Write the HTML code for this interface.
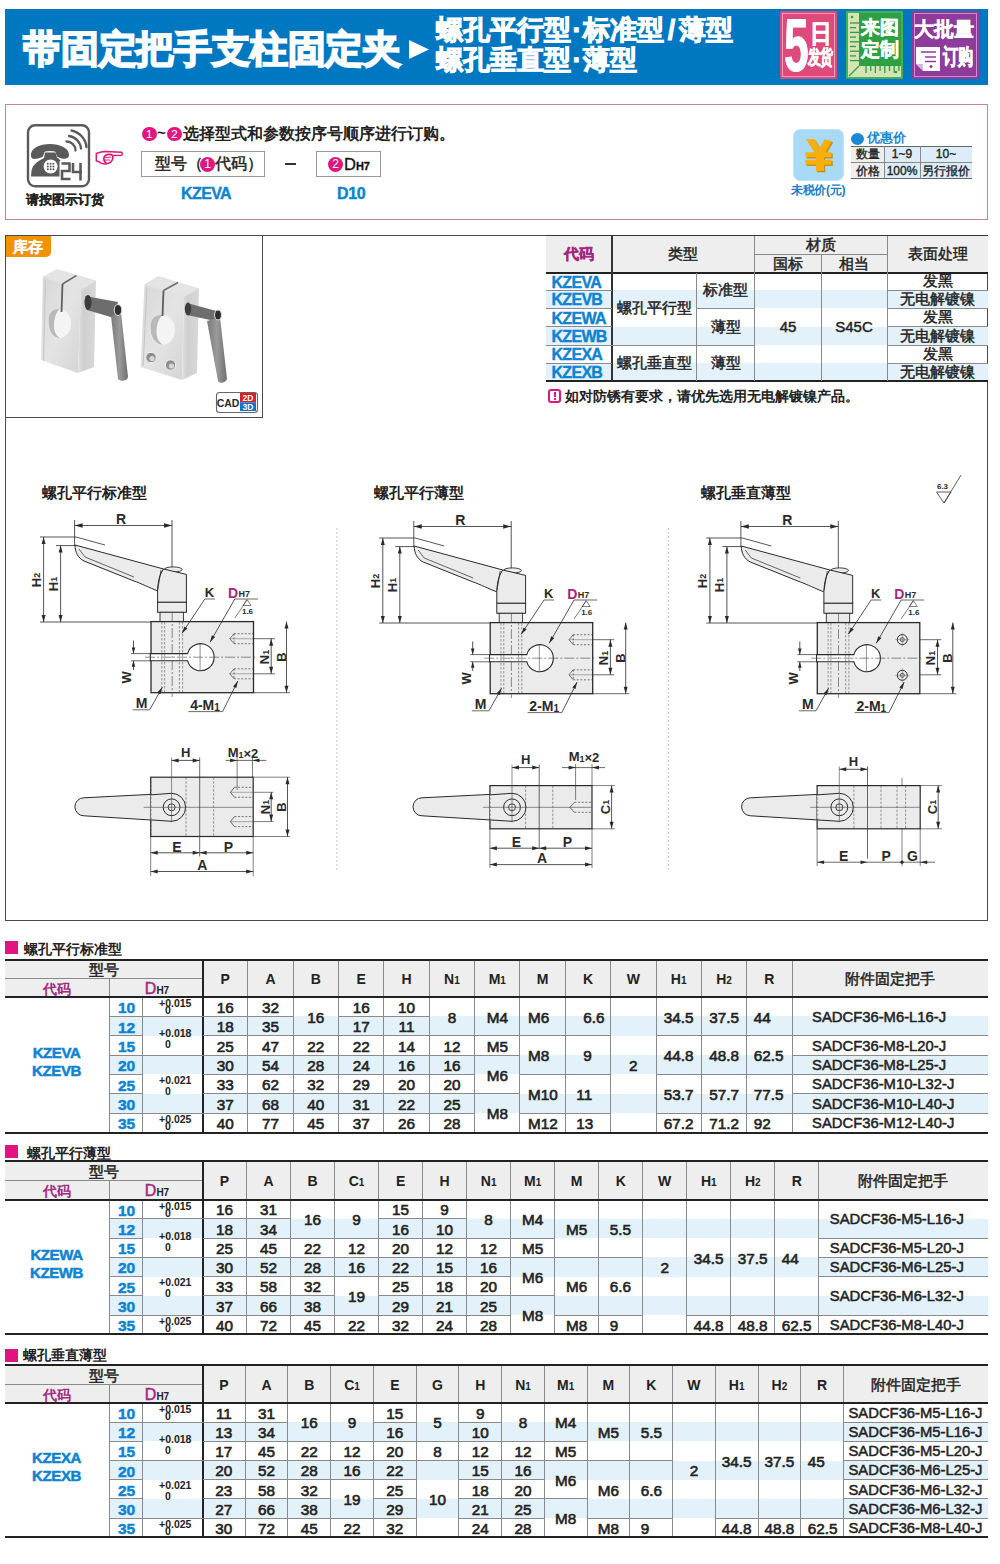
<!DOCTYPE html><html><head><meta charset="utf-8"><style>
html,body{margin:0;padding:0;background:#fff;}
body{width:1000px;height:1564px;position:relative;overflow:hidden;font-family:"Liberation Sans",sans-serif;color:#222;}
div{box-sizing:border-box;}
.b{font-weight:bold;}
</style></head><body>

<div style="position:absolute;left:5px;top:9px;width:983px;height:76px;background:#0078c1;"></div>
<div style="position:absolute;left:23px;top:26px;white-space:nowrap;font-size:38px;font-weight:bold;color:#fff;line-height:46px;letter-spacing:-0.2px;-webkit-text-stroke:1.8px #fff;">带固定把手支柱固定夹</div>
<svg style="position:absolute;left:408px;top:39px" width="22" height="21"><polygon points="1,1 21,10.5 1,20" fill="#fff"/></svg>
<div style="position:absolute;left:436px;top:14px;white-space:nowrap;font-size:27px;font-weight:bold;color:#fff;line-height:32px;-webkit-text-stroke:1px #fff;">螺孔平行型<span style="display:inline-block;width:12px;text-align:center">·</span>标准型<span style="display:inline-block;width:15px;text-align:center">/</span>薄型</div>
<div style="position:absolute;left:436px;top:44px;white-space:nowrap;font-size:27px;font-weight:bold;color:#fff;line-height:32px;-webkit-text-stroke:1px #fff;">螺孔垂直型<span style="display:inline-block;width:12px;text-align:center">·</span>薄型</div>
<div style="position:absolute;left:780px;top:11px;width:57px;height:68px;background:#de4a7c;border-radius:2px;"></div>
<div style="position:absolute;left:782px;top:13px;width:53px;height:64px;border:1px solid #f29ab9;"></div>
<div style="position:absolute;left:784px;top:12px;white-space:nowrap;font-size:74px;font-weight:bold;color:#fff;line-height:68px;transform:scaleX(0.6);transform-origin:0 0;-webkit-text-stroke:1px #fff;">5</div>
<div style="position:absolute;left:810px;top:20px;white-space:nowrap;font-size:22px;font-weight:bold;color:#fff;line-height:24px;transform:scaleY(1.15);transform-origin:0 0;-webkit-text-stroke:0.6px #fff;">日</div>
<div style="position:absolute;left:808px;top:47px;white-space:nowrap;font-size:13px;font-weight:bold;color:#fff;line-height:14px;letter-spacing:-1px;transform:scaleY(1.55);transform-origin:0 0;-webkit-text-stroke:0.4px #fff;">发货</div>
<div style="position:absolute;left:846px;top:11px;width:57px;height:68px;background:#2f9f43;border-radius:2px;"></div>
<svg style="position:absolute;left:846px;top:11px" width="57" height="68"><path d="M2,2 L13,2 L13,55 L55,55 L55,66 L2,66 Z" fill="#d5e3b5"/><path d="M13,55 L3,65" stroke="#2f9f43" stroke-width="1.2"/><line x1="4" y1="12.0" x2="13" y2="12.0" stroke="#2f9f43" stroke-width="1.3"/><line x1="4" y1="16.7" x2="10" y2="16.7" stroke="#2f9f43" stroke-width="1.3"/><line x1="4" y1="21.4" x2="13" y2="21.4" stroke="#2f9f43" stroke-width="1.3"/><line x1="4" y1="26.1" x2="10" y2="26.1" stroke="#2f9f43" stroke-width="1.3"/><line x1="4" y1="30.8" x2="13" y2="30.8" stroke="#2f9f43" stroke-width="1.3"/><line x1="4" y1="35.5" x2="10" y2="35.5" stroke="#2f9f43" stroke-width="1.3"/><line x1="4" y1="40.2" x2="13" y2="40.2" stroke="#2f9f43" stroke-width="1.3"/><line x1="4" y1="44.9" x2="10" y2="44.9" stroke="#2f9f43" stroke-width="1.3"/><line x1="4" y1="49.6" x2="13" y2="49.6" stroke="#2f9f43" stroke-width="1.3"/><line x1="20.0" y1="55" x2="20.0" y2="62" stroke="#2f9f43" stroke-width="1.3"/><line x1="24.7" y1="55" x2="24.7" y2="60" stroke="#2f9f43" stroke-width="1.3"/><line x1="29.4" y1="55" x2="29.4" y2="62" stroke="#2f9f43" stroke-width="1.3"/><line x1="34.1" y1="55" x2="34.1" y2="60" stroke="#2f9f43" stroke-width="1.3"/><line x1="38.8" y1="55" x2="38.8" y2="62" stroke="#2f9f43" stroke-width="1.3"/><line x1="43.5" y1="55" x2="43.5" y2="60" stroke="#2f9f43" stroke-width="1.3"/><line x1="48.2" y1="55" x2="48.2" y2="62" stroke="#2f9f43" stroke-width="1.3"/><line x1="52.9" y1="55" x2="52.9" y2="60" stroke="#2f9f43" stroke-width="1.3"/><circle cx="6" cy="6" r="1.3" fill="#2f9f43"/><circle cx="50" cy="61" r="1.3" fill="#2f9f43"/><rect x="1" y="1" width="55" height="66" fill="none" stroke="#5cc36a" stroke-width="1"/></svg>
<div style="position:absolute;left:861px;top:17px;white-space:nowrap;font-size:19px;font-weight:bold;color:#fff;line-height:22px;-webkit-text-stroke:0.5px #fff;">来图</div>
<div style="position:absolute;left:861px;top:39px;white-space:nowrap;font-size:19px;font-weight:bold;color:#fff;line-height:22px;-webkit-text-stroke:0.5px #fff;">定制</div>
<div style="position:absolute;left:912px;top:11px;width:67px;height:68px;background:#8f3b99;border-radius:2px;"></div>
<div style="position:absolute;left:914px;top:13px;width:63px;height:64px;border:1px solid #c98fd0;"></div>
<div style="position:absolute;left:914px;top:17px;white-space:nowrap;font-size:20px;font-weight:bold;color:#fff;line-height:24px;-webkit-text-stroke:0.5px #fff;">大批量</div>
<div style="position:absolute;left:943px;top:45px;white-space:nowrap;font-size:15px;font-weight:bold;color:#fff;line-height:16px;letter-spacing:-0.5px;transform:scaleY(1.45);transform-origin:0 0;-webkit-text-stroke:0.5px #fff;">订购</div>
<svg style="position:absolute;left:915px;top:46px" width="26" height="26"><path d="M1,1 L25,1 L25,25 L8,25 L1,18 Z" fill="#fff"/><path d="M1,18 L8,18 L8,25" fill="#8f3b99"/><path d="M1,18 L8,25 L8,18 Z" fill="#d9b7dd"/><line x1="6" y1="6" x2="21" y2="6" stroke="#8f3b99" stroke-width="1.5"/><line x1="10" y1="11" x2="21" y2="11" stroke="#8f3b99" stroke-width="1.5"/><line x1="10" y1="15.5" x2="21" y2="15.5" stroke="#8f3b99" stroke-width="1.5"/><circle cx="16" cy="20.5" r="1.5" fill="#8f3b99"/></svg>
<div style="position:absolute;left:5px;top:104px;width:983px;height:116px;border:1.5px solid #c0849b;"></div>
<div style="position:absolute;left:26px;top:192px;white-space:nowrap;font-size:12.5px;font-weight:bold;color:#222;line-height:16px;-webkit-text-stroke:0.2px #222;">请按图示订货</div>
<div style="position:absolute;left:142px;top:126.8px;width:14.5px;height:14.5px;border-radius:50%;background:#e0177f;color:#fff;font-size:11.5px;line-height:14.5px;text-align:center;">1</div>
<div style="position:absolute;left:157px;top:124px;white-space:nowrap;font-size:15px;font-weight:bold;color:#222;line-height:18px;">~</div>
<div style="position:absolute;left:167.3px;top:126.8px;width:14.5px;height:14.5px;border-radius:50%;background:#e0177f;color:#fff;font-size:11.5px;line-height:14.5px;text-align:center;">2</div>
<div style="position:absolute;left:183px;top:125px;white-space:nowrap;font-size:15.5px;font-weight:bold;color:#222;line-height:18px;">选择型式和参数按序号顺序进行订购。</div>
<div style="position:absolute;left:141px;top:151px;width:124px;height:26px;border:1px solid #999;"></div>
<div style="position:absolute;left:155px;top:154px;white-space:nowrap;font-size:15.5px;color:#222;line-height:20px;-webkit-text-stroke:0.45px #222;">型号（</div>
<div style="position:absolute;left:200px;top:156.5px;width:15px;height:15px;border-radius:50%;background:#e0177f;color:#fff;font-size:12px;line-height:15px;text-align:center;">1</div>
<div style="position:absolute;left:215px;top:154px;white-space:nowrap;font-size:15.5px;color:#222;line-height:20px;-webkit-text-stroke:0.45px #222;">代码）</div>
<div style="position:absolute;left:285px;top:163px;width:11px;height:2px;background:#333;"></div>
<div style="position:absolute;left:316px;top:151px;width:65px;height:26px;border:1px solid #999;"></div>
<div style="position:absolute;left:328px;top:156.5px;width:15px;height:15px;border-radius:50%;background:#e0177f;color:#fff;font-size:12px;line-height:15px;text-align:center;">2</div>
<div style="position:absolute;left:344px;top:154px;white-space:nowrap;font-size:16.5px;color:#111;line-height:20px;-webkit-text-stroke:0.3px #111;">D<span style="font-size:11px;font-weight:bold">H7</span></div>
<div style="position:absolute;left:181px;top:184px;white-space:nowrap;font-size:16px;font-weight:bold;color:#0e83d2;line-height:20px;letter-spacing:-0.6px;-webkit-text-stroke:0.4px #0e83d2;">KZEVA</div>
<div style="position:absolute;left:337px;top:184px;white-space:nowrap;font-size:16px;font-weight:bold;color:#0e83d2;line-height:20px;letter-spacing:-0.3px;-webkit-text-stroke:0.4px #0e83d2;">D10</div>
<div style="position:absolute;left:793px;top:129px;width:51px;height:52px;background:#a8daf5;border:1.5px solid #bde6f8;border-radius:7px;"></div>
<svg style="position:absolute;left:790px;top:126px" width="60" height="60"><g transform="translate(1.2,1.2)" fill="#c98a10"><path d="M16,13 L24.5,13 L29.5,22 L34.5,13.5 L42,15 L34,29 L34,45 L26,45 L26,29 Z"/><rect x="15.5" y="26.3" width="26" height="5"/><rect x="15.5" y="33.7" width="26" height="5"/></g><g fill="#f7ae0f"><path d="M16,13 L24.5,13 L29.5,22 L34.5,13.5 L42,15 L34,29 L34,45 L26,45 L26,29 Z"/><rect x="15.5" y="26.3" width="26" height="5"/><rect x="15.5" y="33.7" width="26" height="5"/></g></svg>
<div style="position:absolute;left:791px;top:183px;white-space:nowrap;font-size:12px;font-weight:bold;color:#1a7cc8;line-height:15px;letter-spacing:-0.3px;">未税价(元)</div>
<div style="position:absolute;left:851px;top:133px;width:13px;height:12px;background:#1a88d2;border-radius:50%;"></div>
<div style="position:absolute;left:867px;top:130px;white-space:nowrap;font-size:13px;font-weight:bold;color:#1a88d2;line-height:16px;">优惠价</div>
<div style="position:absolute;left:884px;top:146px;width:88px;height:33px;background:#dcedf9;"></div>
<div style="position:absolute;left:851px;top:146px;width:33px;height:33px;background:#eee;"></div>
<div style="position:absolute;left:851px;top:145.75px;width:121px;height:1.5px;background:#666;"></div>
<div style="position:absolute;left:851px;top:161.5px;width:121px;height:1px;background:#888;"></div>
<div style="position:absolute;left:851px;top:177.75px;width:121px;height:1.5px;background:#666;"></div>
<div style="position:absolute;left:884.0px;top:146px;width:1px;height:33px;background:#888;"></div>
<div style="position:absolute;left:919.5px;top:146px;width:1px;height:33px;background:#888;"></div>
<div style="position:absolute;left:717.5px;top:146.0px;width:300px;height:16px;line-height:16px;text-align:center;white-space:nowrap;font-size:12px;color:#222;-webkit-text-stroke:0.35px #222;">数量</div>
<div style="position:absolute;left:752px;top:146.0px;width:300px;height:16px;line-height:16px;text-align:center;white-space:nowrap;font-size:12px;color:#222;-webkit-text-stroke:0.35px #222;">1~9</div>
<div style="position:absolute;left:796px;top:146.0px;width:300px;height:16px;line-height:16px;text-align:center;white-space:nowrap;font-size:12px;color:#222;-webkit-text-stroke:0.35px #222;">10~</div>
<div style="position:absolute;left:717.5px;top:162.5px;width:300px;height:16px;line-height:16px;text-align:center;white-space:nowrap;font-size:12px;color:#222;-webkit-text-stroke:0.35px #222;">价格</div>
<div style="position:absolute;left:752px;top:162.5px;width:300px;height:16px;line-height:16px;text-align:center;white-space:nowrap;font-size:12px;color:#222;-webkit-text-stroke:0.35px #222;">100%</div>
<div style="position:absolute;left:796px;top:162.5px;width:300px;height:16px;line-height:16px;text-align:center;white-space:nowrap;font-size:12px;color:#222;-webkit-text-stroke:0.35px #222;">另行报价</div>
<div style="position:absolute;left:5px;top:235px;width:983px;height:686px;border:1.5px solid #4a4a4a;"></div>
<div style="position:absolute;left:5px;top:235px;width:258px;height:183px;border:1.5px solid #4a4a4a;"></div>
<div style="position:absolute;left:5.5px;top:236px;width:45px;height:20.5px;background:#f39200;border-bottom-right-radius:5px;"></div>
<div style="position:absolute;left:13px;top:238px;white-space:nowrap;font-size:15px;font-weight:bold;color:#fff;line-height:17px;-webkit-text-stroke:0.3px #fff;">库存</div>
<div style="position:absolute;left:42px;top:484px;white-space:nowrap;font-size:14.5px;font-weight:bold;color:#222;line-height:18px;">螺孔平行标准型</div>
<div style="position:absolute;left:374px;top:484px;white-space:nowrap;font-size:14.5px;font-weight:bold;color:#222;line-height:18px;">螺孔平行薄型</div>
<div style="position:absolute;left:701px;top:484px;white-space:nowrap;font-size:14.5px;font-weight:bold;color:#222;line-height:18px;">螺孔垂直薄型</div>
<div style="position:absolute;left:546px;top:236px;width:442px;height:36px;background:#eeeeee;"></div>
<div style="position:absolute;left:546px;top:290.3px;width:442px;height:17.899999999999977px;background:#e3f1fb;"></div>
<div style="position:absolute;left:546px;top:326.6px;width:442px;height:18.399999999999977px;background:#e3f1fb;"></div>
<div style="position:absolute;left:546px;top:363.4px;width:442px;height:17.100000000000023px;background:#e3f1fb;"></div>
<div style="position:absolute;left:546px;top:234.75px;width:442px;height:1.5px;background:#333;"></div>
<div style="position:absolute;left:546px;top:271.5px;width:442px;height:2px;background:#222;"></div>
<div style="position:absolute;left:546px;top:379.5px;width:442px;height:2px;background:#222;"></div>
<div style="position:absolute;left:754.5px;top:254.0px;width:132.5px;height:1px;background:#8a8a8a;"></div>
<div style="position:absolute;left:611.25px;top:236px;width:1.5px;height:144.5px;background:#333;"></div>
<div style="position:absolute;left:754.0px;top:236px;width:1px;height:144.5px;background:#8a8a8a;"></div>
<div style="position:absolute;left:886.5px;top:236px;width:1px;height:144.5px;background:#8a8a8a;"></div>
<div style="position:absolute;left:820.5px;top:254.5px;width:1px;height:126.0px;background:#8a8a8a;"></div>
<div style="position:absolute;left:696.0px;top:272.5px;width:1px;height:108.0px;background:#8a8a8a;"></div>
<div style="position:absolute;left:546px;top:289.8px;width:66px;height:1px;background:#8a8a8a;"></div>
<div style="position:absolute;left:887px;top:289.8px;width:101px;height:1px;background:#8a8a8a;"></div>
<div style="position:absolute;left:546px;top:307.7px;width:66px;height:1px;background:#8a8a8a;"></div>
<div style="position:absolute;left:887px;top:307.7px;width:101px;height:1px;background:#8a8a8a;"></div>
<div style="position:absolute;left:546px;top:326.1px;width:66px;height:1px;background:#8a8a8a;"></div>
<div style="position:absolute;left:887px;top:326.1px;width:101px;height:1px;background:#8a8a8a;"></div>
<div style="position:absolute;left:546px;top:344.5px;width:66px;height:1px;background:#8a8a8a;"></div>
<div style="position:absolute;left:887px;top:344.5px;width:101px;height:1px;background:#8a8a8a;"></div>
<div style="position:absolute;left:546px;top:362.9px;width:66px;height:1px;background:#8a8a8a;"></div>
<div style="position:absolute;left:887px;top:362.9px;width:101px;height:1px;background:#8a8a8a;"></div>
<div style="position:absolute;left:612px;top:344.5px;width:142.5px;height:1px;background:#8a8a8a;"></div>
<div style="position:absolute;left:696.5px;top:307.7px;width:58.0px;height:1px;background:#8a8a8a;"></div>
<div style="position:absolute;left:429px;top:245.0px;width:300px;height:18px;line-height:18px;text-align:center;white-space:nowrap;font-size:15px;font-weight:bold;color:#a4287e;-webkit-text-stroke:0.4px #a4287e;">代码</div>
<div style="position:absolute;left:533.25px;top:245.0px;width:300px;height:18px;line-height:18px;text-align:center;white-space:nowrap;font-size:14.5px;color:#222;-webkit-text-stroke:0.45px #222;">类型</div>
<div style="position:absolute;left:671px;top:236.0px;width:300px;height:18px;line-height:18px;text-align:center;white-space:nowrap;font-size:14.5px;color:#222;-webkit-text-stroke:0.45px #222;">材质</div>
<div style="position:absolute;left:638px;top:254.5px;width:300px;height:18px;line-height:18px;text-align:center;white-space:nowrap;font-size:14.5px;color:#222;-webkit-text-stroke:0.45px #222;">国标</div>
<div style="position:absolute;left:704px;top:254.5px;width:300px;height:18px;line-height:18px;text-align:center;white-space:nowrap;font-size:14.5px;color:#222;-webkit-text-stroke:0.45px #222;">相当</div>
<div style="position:absolute;left:787.5px;top:245.0px;width:300px;height:18px;line-height:18px;text-align:center;white-space:nowrap;font-size:15px;color:#222;-webkit-text-stroke:0.45px #222;">表面处理</div>
<div style="position:absolute;left:551.5px;top:272.59999999999997px;white-space:nowrap;font-size:16px;font-weight:bold;color:#0e83d2;line-height:19px;letter-spacing:-0.7px;-webkit-text-stroke:0.4px #0e83d2;">KZEVA</div>
<div style="position:absolute;left:787.5px;top:272.4px;width:300px;height:18px;line-height:18px;text-align:center;white-space:nowrap;font-size:14.5px;color:#222;-webkit-text-stroke:0.45px #222;">发黑</div>
<div style="position:absolute;left:551.5px;top:290.45px;white-space:nowrap;font-size:16px;font-weight:bold;color:#0e83d2;line-height:19px;letter-spacing:-0.7px;-webkit-text-stroke:0.4px #0e83d2;">KZEVB</div>
<div style="position:absolute;left:787.5px;top:290.25px;width:300px;height:18px;line-height:18px;text-align:center;white-space:nowrap;font-size:14.5px;color:#222;-webkit-text-stroke:0.45px #222;">无电解镀镍</div>
<div style="position:absolute;left:551.5px;top:308.59999999999997px;white-space:nowrap;font-size:16px;font-weight:bold;color:#0e83d2;line-height:19px;letter-spacing:-0.7px;-webkit-text-stroke:0.4px #0e83d2;">KZEWA</div>
<div style="position:absolute;left:787.5px;top:308.4px;width:300px;height:18px;line-height:18px;text-align:center;white-space:nowrap;font-size:14.5px;color:#222;-webkit-text-stroke:0.45px #222;">发黑</div>
<div style="position:absolute;left:551.5px;top:327.0px;white-space:nowrap;font-size:16px;font-weight:bold;color:#0e83d2;line-height:19px;letter-spacing:-0.7px;-webkit-text-stroke:0.4px #0e83d2;">KZEWB</div>
<div style="position:absolute;left:787.5px;top:326.8px;width:300px;height:18px;line-height:18px;text-align:center;white-space:nowrap;font-size:14.5px;color:#222;-webkit-text-stroke:0.45px #222;">无电解镀镍</div>
<div style="position:absolute;left:551.5px;top:345.4px;white-space:nowrap;font-size:16px;font-weight:bold;color:#0e83d2;line-height:19px;letter-spacing:-0.7px;-webkit-text-stroke:0.4px #0e83d2;">KZEXA</div>
<div style="position:absolute;left:787.5px;top:345.2px;width:300px;height:18px;line-height:18px;text-align:center;white-space:nowrap;font-size:14.5px;color:#222;-webkit-text-stroke:0.45px #222;">发黑</div>
<div style="position:absolute;left:551.5px;top:363.15px;white-space:nowrap;font-size:16px;font-weight:bold;color:#0e83d2;line-height:19px;letter-spacing:-0.7px;-webkit-text-stroke:0.4px #0e83d2;">KZEXB</div>
<div style="position:absolute;left:787.5px;top:362.95px;width:300px;height:18px;line-height:18px;text-align:center;white-space:nowrap;font-size:14.5px;color:#222;-webkit-text-stroke:0.45px #222;">无电解镀镍</div>
<div style="position:absolute;left:504px;top:299.2px;width:300px;height:18px;line-height:18px;text-align:center;white-space:nowrap;font-size:14.5px;color:#222;-webkit-text-stroke:0.45px #222;">螺孔平行型</div>
<div style="position:absolute;left:504px;top:354.4px;width:300px;height:18px;line-height:18px;text-align:center;white-space:nowrap;font-size:14.5px;color:#222;-webkit-text-stroke:0.45px #222;">螺孔垂直型</div>
<div style="position:absolute;left:575.5px;top:281.3px;width:300px;height:18px;line-height:18px;text-align:center;white-space:nowrap;font-size:14.5px;color:#222;-webkit-text-stroke:0.45px #222;">标准型</div>
<div style="position:absolute;left:575.5px;top:317.6px;width:300px;height:18px;line-height:18px;text-align:center;white-space:nowrap;font-size:14.5px;color:#222;-webkit-text-stroke:0.45px #222;">薄型</div>
<div style="position:absolute;left:575.5px;top:354.4px;width:300px;height:18px;line-height:18px;text-align:center;white-space:nowrap;font-size:14.5px;color:#222;-webkit-text-stroke:0.45px #222;">薄型</div>
<div style="position:absolute;left:638px;top:317.6px;width:300px;height:18px;line-height:18px;text-align:center;white-space:nowrap;font-size:15px;color:#222;-webkit-text-stroke:0.45px #222;">45</div>
<div style="position:absolute;left:704px;top:317.6px;width:300px;height:18px;line-height:18px;text-align:center;white-space:nowrap;font-size:15px;color:#222;-webkit-text-stroke:0.45px #222;">S45C</div>
<div style="position:absolute;left:548px;top:389px;width:13px;height:14px;border:2px solid #e0177f;border-radius:3px;"></div>
<div style="position:absolute;left:553.5px;top:392px;width:2px;height:5px;background:#e0177f;"></div>
<div style="position:absolute;left:553.5px;top:398px;width:2px;height:2px;background:#e0177f;"></div>
<div style="position:absolute;left:565px;top:387px;white-space:nowrap;font-size:14.3px;font-weight:bold;color:#222;line-height:18px;">如对防锈有要求，请优先选用无电解镀镍产品。</div>
<div style="position:absolute;left:24px;top:940px;white-space:nowrap;font-size:14px;font-weight:bold;color:#222;line-height:18px;">螺孔平行标准型</div>
<div style="position:absolute;left:5px;top:941px;width:13px;height:13px;background:#e0157f;"></div>
<div style="position:absolute;left:5px;top:959.5px;width:983px;height:37.5px;background:#eeeeee;"></div>
<div style="position:absolute;left:109px;top:1016.3571428571429px;width:879px;height:19.35714285714289px;background:#e3f1fb;"></div>
<div style="position:absolute;left:109px;top:1055.0714285714287px;width:879px;height:19.357142857142662px;background:#e3f1fb;"></div>
<div style="position:absolute;left:109px;top:1093.7857142857142px;width:879px;height:19.35714285714289px;background:#e3f1fb;"></div>
<div style="position:absolute;left:5px;top:978.25px;width:197.5px;height:1px;background:#8a8a8a;"></div>
<div style="position:absolute;left:108.5px;top:978.75px;width:1px;height:153.75px;background:#8a8a8a;"></div>
<div style="position:absolute;left:142.0px;top:997px;width:1px;height:135.5px;background:#8a8a8a;"></div>
<div style="position:absolute;left:247.35px;top:959.5px;width:1px;height:173.0px;background:#8a8a8a;"></div>
<div style="position:absolute;left:292.7px;top:959.5px;width:1px;height:173.0px;background:#8a8a8a;"></div>
<div style="position:absolute;left:338.05px;top:959.5px;width:1px;height:173.0px;background:#8a8a8a;"></div>
<div style="position:absolute;left:383.4px;top:959.5px;width:1px;height:173.0px;background:#8a8a8a;"></div>
<div style="position:absolute;left:428.75px;top:959.5px;width:1px;height:173.0px;background:#8a8a8a;"></div>
<div style="position:absolute;left:474.1px;top:959.5px;width:1px;height:173.0px;background:#8a8a8a;"></div>
<div style="position:absolute;left:519.45px;top:959.5px;width:1px;height:173.0px;background:#8a8a8a;"></div>
<div style="position:absolute;left:564.8px;top:959.5px;width:1px;height:173.0px;background:#8a8a8a;"></div>
<div style="position:absolute;left:610.1500000000001px;top:959.5px;width:1px;height:173.0px;background:#8a8a8a;"></div>
<div style="position:absolute;left:655.5px;top:959.5px;width:1px;height:173.0px;background:#8a8a8a;"></div>
<div style="position:absolute;left:700.85px;top:959.5px;width:1px;height:173.0px;background:#8a8a8a;"></div>
<div style="position:absolute;left:746.2px;top:959.5px;width:1px;height:173.0px;background:#8a8a8a;"></div>
<div style="position:absolute;left:791.5500000000001px;top:959.5px;width:1px;height:173.0px;background:#8a8a8a;"></div>
<div style="position:absolute;left:201.5px;top:959.5px;width:2px;height:173.0px;background:#222;"></div>
<div style="position:absolute;left:-46.5px;top:961.125px;width:300px;height:18px;line-height:18px;text-align:center;white-space:nowrap;font-size:14.5px;color:#222;-webkit-text-stroke:0.5px #222;">型号</div>
<div style="position:absolute;left:-93px;top:979.875px;width:300px;height:18px;line-height:18px;text-align:center;white-space:nowrap;font-size:14px;font-weight:bold;color:#a4287e;">代码</div>
<div style="position:absolute;left:7px;top:979.875px;width:300px;height:18px;line-height:18px;text-align:center;white-space:nowrap;font-size:16px;color:#a4287e;-webkit-text-stroke:0.5px #a4287e;">D<span style="font-size:10px;font-weight:bold;color:#222;-webkit-text-stroke:0">H7</span></div>
<div style="position:absolute;left:75.17500000000001px;top:970.25px;width:300px;height:18px;line-height:18px;text-align:center;white-space:nowrap;font-size:14px;font-weight:bold;color:#222;">P</div>
<div style="position:absolute;left:120.52499999999998px;top:970.25px;width:300px;height:18px;line-height:18px;text-align:center;white-space:nowrap;font-size:14px;font-weight:bold;color:#222;">A</div>
<div style="position:absolute;left:165.875px;top:970.25px;width:300px;height:18px;line-height:18px;text-align:center;white-space:nowrap;font-size:14px;font-weight:bold;color:#222;">B</div>
<div style="position:absolute;left:211.22500000000002px;top:970.25px;width:300px;height:18px;line-height:18px;text-align:center;white-space:nowrap;font-size:14px;font-weight:bold;color:#222;">E</div>
<div style="position:absolute;left:256.575px;top:970.25px;width:300px;height:18px;line-height:18px;text-align:center;white-space:nowrap;font-size:14px;font-weight:bold;color:#222;">H</div>
<div style="position:absolute;left:301.925px;top:970.25px;width:300px;height:18px;line-height:18px;text-align:center;white-space:nowrap;font-size:14px;font-weight:bold;color:#222;">N<span style="font-size:10px">1</span></div>
<div style="position:absolute;left:347.27500000000003px;top:970.25px;width:300px;height:18px;line-height:18px;text-align:center;white-space:nowrap;font-size:14px;font-weight:bold;color:#222;">M<span style="font-size:10px">1</span></div>
<div style="position:absolute;left:392.625px;top:970.25px;width:300px;height:18px;line-height:18px;text-align:center;white-space:nowrap;font-size:14px;font-weight:bold;color:#222;">M</div>
<div style="position:absolute;left:437.975px;top:970.25px;width:300px;height:18px;line-height:18px;text-align:center;white-space:nowrap;font-size:14px;font-weight:bold;color:#222;">K</div>
<div style="position:absolute;left:483.32500000000005px;top:970.25px;width:300px;height:18px;line-height:18px;text-align:center;white-space:nowrap;font-size:14px;font-weight:bold;color:#222;">W</div>
<div style="position:absolute;left:528.675px;top:970.25px;width:300px;height:18px;line-height:18px;text-align:center;white-space:nowrap;font-size:14px;font-weight:bold;color:#222;">H<span style="font-size:10px">1</span></div>
<div style="position:absolute;left:574.0250000000001px;top:970.25px;width:300px;height:18px;line-height:18px;text-align:center;white-space:nowrap;font-size:14px;font-weight:bold;color:#222;">H<span style="font-size:10px">2</span></div>
<div style="position:absolute;left:619.375px;top:970.25px;width:300px;height:18px;line-height:18px;text-align:center;white-space:nowrap;font-size:14px;font-weight:bold;color:#222;">R</div>
<div style="position:absolute;left:740.0250000000001px;top:970.25px;width:300px;height:18px;line-height:18px;text-align:center;white-space:nowrap;font-size:14.5px;color:#222;-webkit-text-stroke:0.45px #222;">附件固定把手</div>
<div style="position:absolute;left:-23.5px;top:999.1785714285714px;width:300px;height:18px;line-height:18px;text-align:center;white-space:nowrap;font-size:15.5px;font-weight:bold;color:#0e83d2;-webkit-text-stroke:0.5px #0e83d2;">10</div>
<div style="position:absolute;left:109px;top:1015.8571428571429px;width:33.5px;height:1px;background:#8a8a8a;"></div>
<div style="position:absolute;left:-23.5px;top:1018.5357142857142px;width:300px;height:18px;line-height:18px;text-align:center;white-space:nowrap;font-size:15.5px;font-weight:bold;color:#0e83d2;-webkit-text-stroke:0.5px #0e83d2;">12</div>
<div style="position:absolute;left:109px;top:1035.2142857142858px;width:33.5px;height:1px;background:#8a8a8a;"></div>
<div style="position:absolute;left:-23.5px;top:1037.8928571428573px;width:300px;height:18px;line-height:18px;text-align:center;white-space:nowrap;font-size:15.5px;font-weight:bold;color:#0e83d2;-webkit-text-stroke:0.5px #0e83d2;">15</div>
<div style="position:absolute;left:109px;top:1054.5714285714287px;width:33.5px;height:1px;background:#8a8a8a;"></div>
<div style="position:absolute;left:-23.5px;top:1057.25px;width:300px;height:18px;line-height:18px;text-align:center;white-space:nowrap;font-size:15.5px;font-weight:bold;color:#0e83d2;-webkit-text-stroke:0.5px #0e83d2;">20</div>
<div style="position:absolute;left:109px;top:1073.9285714285713px;width:33.5px;height:1px;background:#8a8a8a;"></div>
<div style="position:absolute;left:-23.5px;top:1076.6071428571427px;width:300px;height:18px;line-height:18px;text-align:center;white-space:nowrap;font-size:15.5px;font-weight:bold;color:#0e83d2;-webkit-text-stroke:0.5px #0e83d2;">25</div>
<div style="position:absolute;left:109px;top:1093.2857142857142px;width:33.5px;height:1px;background:#8a8a8a;"></div>
<div style="position:absolute;left:-23.5px;top:1095.9642857142858px;width:300px;height:18px;line-height:18px;text-align:center;white-space:nowrap;font-size:15.5px;font-weight:bold;color:#0e83d2;-webkit-text-stroke:0.5px #0e83d2;">30</div>
<div style="position:absolute;left:109px;top:1112.642857142857px;width:33.5px;height:1px;background:#8a8a8a;"></div>
<div style="position:absolute;left:-23.5px;top:1115.3214285714284px;width:300px;height:18px;line-height:18px;text-align:center;white-space:nowrap;font-size:15.5px;font-weight:bold;color:#0e83d2;-webkit-text-stroke:0.5px #0e83d2;">35</div>
<div style="position:absolute;left:159px;top:997.1785714285714px;white-space:nowrap;font-size:10.5px;font-weight:bold;color:#222;line-height:12px;">+0.015</div>
<div style="position:absolute;left:165px;top:1004.1785714285714px;white-space:nowrap;font-size:10.5px;font-weight:bold;color:#222;line-height:12px;">0</div>
<div style="position:absolute;left:142.5px;top:1015.8571428571429px;width:60.0px;height:1px;background:#8a8a8a;"></div>
<div style="position:absolute;left:159px;top:1027.2142857142858px;white-space:nowrap;font-size:10.5px;font-weight:bold;color:#222;line-height:12px;">+0.018</div>
<div style="position:absolute;left:165px;top:1038.2142857142858px;white-space:nowrap;font-size:10.5px;font-weight:bold;color:#222;line-height:12px;">0</div>
<div style="position:absolute;left:142.5px;top:1054.5714285714287px;width:60.0px;height:1px;background:#8a8a8a;"></div>
<div style="position:absolute;left:159px;top:1073.607142857143px;white-space:nowrap;font-size:10.5px;font-weight:bold;color:#222;line-height:12px;">+0.021</div>
<div style="position:absolute;left:165px;top:1084.607142857143px;white-space:nowrap;font-size:10.5px;font-weight:bold;color:#222;line-height:12px;">0</div>
<div style="position:absolute;left:142.5px;top:1112.642857142857px;width:60.0px;height:1px;background:#8a8a8a;"></div>
<div style="position:absolute;left:159px;top:1113.3214285714284px;white-space:nowrap;font-size:10.5px;font-weight:bold;color:#222;line-height:12px;">+0.025</div>
<div style="position:absolute;left:165px;top:1120.3214285714284px;white-space:nowrap;font-size:10.5px;font-weight:bold;color:#222;line-height:12px;">0</div>
<div style="position:absolute;left:-93.5px;top:1042.75px;width:300px;height:19px;line-height:19px;text-align:center;white-space:nowrap;font-size:15px;font-weight:bold;color:#0e83d2;letter-spacing:-0.4px;-webkit-text-stroke:0.5px #0e83d2;">KZEVA</div>
<div style="position:absolute;left:-93.5px;top:1060.75px;width:300px;height:19px;line-height:19px;text-align:center;white-space:nowrap;font-size:15px;font-weight:bold;color:#0e83d2;letter-spacing:-0.4px;-webkit-text-stroke:0.5px #0e83d2;">KZEVB</div>
<div style="position:absolute;left:75.17500000000001px;top:997.9785714285714px;width:300px;height:19px;line-height:19px;text-align:center;white-space:nowrap;font-size:15.3px;color:#222;-webkit-text-stroke:0.6px #222;">16</div>
<div style="position:absolute;left:202.5px;top:1015.8571428571429px;width:45.349999999999994px;height:1px;background:#8a8a8a;"></div>
<div style="position:absolute;left:75.17500000000001px;top:1017.3357142857142px;width:300px;height:19px;line-height:19px;text-align:center;white-space:nowrap;font-size:15.3px;color:#222;-webkit-text-stroke:0.6px #222;">18</div>
<div style="position:absolute;left:202.5px;top:1035.2142857142858px;width:45.349999999999994px;height:1px;background:#8a8a8a;"></div>
<div style="position:absolute;left:75.17500000000001px;top:1036.6928571428573px;width:300px;height:19px;line-height:19px;text-align:center;white-space:nowrap;font-size:15.3px;color:#222;-webkit-text-stroke:0.6px #222;">25</div>
<div style="position:absolute;left:202.5px;top:1054.5714285714287px;width:45.349999999999994px;height:1px;background:#8a8a8a;"></div>
<div style="position:absolute;left:75.17500000000001px;top:1056.05px;width:300px;height:19px;line-height:19px;text-align:center;white-space:nowrap;font-size:15.3px;color:#222;-webkit-text-stroke:0.6px #222;">30</div>
<div style="position:absolute;left:202.5px;top:1073.9285714285713px;width:45.349999999999994px;height:1px;background:#8a8a8a;"></div>
<div style="position:absolute;left:75.17500000000001px;top:1075.4071428571426px;width:300px;height:19px;line-height:19px;text-align:center;white-space:nowrap;font-size:15.3px;color:#222;-webkit-text-stroke:0.6px #222;">33</div>
<div style="position:absolute;left:202.5px;top:1093.2857142857142px;width:45.349999999999994px;height:1px;background:#8a8a8a;"></div>
<div style="position:absolute;left:75.17500000000001px;top:1094.7642857142857px;width:300px;height:19px;line-height:19px;text-align:center;white-space:nowrap;font-size:15.3px;color:#222;-webkit-text-stroke:0.6px #222;">37</div>
<div style="position:absolute;left:202.5px;top:1112.642857142857px;width:45.349999999999994px;height:1px;background:#8a8a8a;"></div>
<div style="position:absolute;left:75.17500000000001px;top:1114.1214285714284px;width:300px;height:19px;line-height:19px;text-align:center;white-space:nowrap;font-size:15.3px;color:#222;-webkit-text-stroke:0.6px #222;">40</div>
<div style="position:absolute;left:120.52499999999998px;top:997.9785714285714px;width:300px;height:19px;line-height:19px;text-align:center;white-space:nowrap;font-size:15.3px;color:#222;-webkit-text-stroke:0.6px #222;">32</div>
<div style="position:absolute;left:247.85px;top:1015.8571428571429px;width:45.349999999999994px;height:1px;background:#8a8a8a;"></div>
<div style="position:absolute;left:120.52499999999998px;top:1017.3357142857142px;width:300px;height:19px;line-height:19px;text-align:center;white-space:nowrap;font-size:15.3px;color:#222;-webkit-text-stroke:0.6px #222;">35</div>
<div style="position:absolute;left:247.85px;top:1035.2142857142858px;width:45.349999999999994px;height:1px;background:#8a8a8a;"></div>
<div style="position:absolute;left:120.52499999999998px;top:1036.6928571428573px;width:300px;height:19px;line-height:19px;text-align:center;white-space:nowrap;font-size:15.3px;color:#222;-webkit-text-stroke:0.6px #222;">47</div>
<div style="position:absolute;left:247.85px;top:1054.5714285714287px;width:45.349999999999994px;height:1px;background:#8a8a8a;"></div>
<div style="position:absolute;left:120.52499999999998px;top:1056.05px;width:300px;height:19px;line-height:19px;text-align:center;white-space:nowrap;font-size:15.3px;color:#222;-webkit-text-stroke:0.6px #222;">54</div>
<div style="position:absolute;left:247.85px;top:1073.9285714285713px;width:45.349999999999994px;height:1px;background:#8a8a8a;"></div>
<div style="position:absolute;left:120.52499999999998px;top:1075.4071428571426px;width:300px;height:19px;line-height:19px;text-align:center;white-space:nowrap;font-size:15.3px;color:#222;-webkit-text-stroke:0.6px #222;">62</div>
<div style="position:absolute;left:247.85px;top:1093.2857142857142px;width:45.349999999999994px;height:1px;background:#8a8a8a;"></div>
<div style="position:absolute;left:120.52499999999998px;top:1094.7642857142857px;width:300px;height:19px;line-height:19px;text-align:center;white-space:nowrap;font-size:15.3px;color:#222;-webkit-text-stroke:0.6px #222;">68</div>
<div style="position:absolute;left:247.85px;top:1112.642857142857px;width:45.349999999999994px;height:1px;background:#8a8a8a;"></div>
<div style="position:absolute;left:120.52499999999998px;top:1114.1214285714284px;width:300px;height:19px;line-height:19px;text-align:center;white-space:nowrap;font-size:15.3px;color:#222;-webkit-text-stroke:0.6px #222;">77</div>
<div style="position:absolute;left:165.875px;top:1007.6571428571428px;width:300px;height:19px;line-height:19px;text-align:center;white-space:nowrap;font-size:15.3px;color:#222;-webkit-text-stroke:0.6px #222;">16</div>
<div style="position:absolute;left:293.2px;top:1035.2142857142858px;width:45.35000000000002px;height:1px;background:#8a8a8a;"></div>
<div style="position:absolute;left:165.875px;top:1036.6928571428573px;width:300px;height:19px;line-height:19px;text-align:center;white-space:nowrap;font-size:15.3px;color:#222;-webkit-text-stroke:0.6px #222;">22</div>
<div style="position:absolute;left:293.2px;top:1054.5714285714287px;width:45.35000000000002px;height:1px;background:#8a8a8a;"></div>
<div style="position:absolute;left:165.875px;top:1056.05px;width:300px;height:19px;line-height:19px;text-align:center;white-space:nowrap;font-size:15.3px;color:#222;-webkit-text-stroke:0.6px #222;">28</div>
<div style="position:absolute;left:293.2px;top:1073.9285714285713px;width:45.35000000000002px;height:1px;background:#8a8a8a;"></div>
<div style="position:absolute;left:165.875px;top:1075.4071428571426px;width:300px;height:19px;line-height:19px;text-align:center;white-space:nowrap;font-size:15.3px;color:#222;-webkit-text-stroke:0.6px #222;">32</div>
<div style="position:absolute;left:293.2px;top:1093.2857142857142px;width:45.35000000000002px;height:1px;background:#8a8a8a;"></div>
<div style="position:absolute;left:165.875px;top:1094.7642857142857px;width:300px;height:19px;line-height:19px;text-align:center;white-space:nowrap;font-size:15.3px;color:#222;-webkit-text-stroke:0.6px #222;">40</div>
<div style="position:absolute;left:293.2px;top:1112.642857142857px;width:45.35000000000002px;height:1px;background:#8a8a8a;"></div>
<div style="position:absolute;left:165.875px;top:1114.1214285714284px;width:300px;height:19px;line-height:19px;text-align:center;white-space:nowrap;font-size:15.3px;color:#222;-webkit-text-stroke:0.6px #222;">45</div>
<div style="position:absolute;left:211.22500000000002px;top:997.9785714285714px;width:300px;height:19px;line-height:19px;text-align:center;white-space:nowrap;font-size:15.3px;color:#222;-webkit-text-stroke:0.6px #222;">16</div>
<div style="position:absolute;left:338.55px;top:1015.8571428571429px;width:45.349999999999966px;height:1px;background:#8a8a8a;"></div>
<div style="position:absolute;left:211.22500000000002px;top:1017.3357142857142px;width:300px;height:19px;line-height:19px;text-align:center;white-space:nowrap;font-size:15.3px;color:#222;-webkit-text-stroke:0.6px #222;">17</div>
<div style="position:absolute;left:338.55px;top:1035.2142857142858px;width:45.349999999999966px;height:1px;background:#8a8a8a;"></div>
<div style="position:absolute;left:211.22500000000002px;top:1036.6928571428573px;width:300px;height:19px;line-height:19px;text-align:center;white-space:nowrap;font-size:15.3px;color:#222;-webkit-text-stroke:0.6px #222;">22</div>
<div style="position:absolute;left:338.55px;top:1054.5714285714287px;width:45.349999999999966px;height:1px;background:#8a8a8a;"></div>
<div style="position:absolute;left:211.22500000000002px;top:1056.05px;width:300px;height:19px;line-height:19px;text-align:center;white-space:nowrap;font-size:15.3px;color:#222;-webkit-text-stroke:0.6px #222;">24</div>
<div style="position:absolute;left:338.55px;top:1073.9285714285713px;width:45.349999999999966px;height:1px;background:#8a8a8a;"></div>
<div style="position:absolute;left:211.22500000000002px;top:1075.4071428571426px;width:300px;height:19px;line-height:19px;text-align:center;white-space:nowrap;font-size:15.3px;color:#222;-webkit-text-stroke:0.6px #222;">29</div>
<div style="position:absolute;left:338.55px;top:1093.2857142857142px;width:45.349999999999966px;height:1px;background:#8a8a8a;"></div>
<div style="position:absolute;left:211.22500000000002px;top:1094.7642857142857px;width:300px;height:19px;line-height:19px;text-align:center;white-space:nowrap;font-size:15.3px;color:#222;-webkit-text-stroke:0.6px #222;">31</div>
<div style="position:absolute;left:338.55px;top:1112.642857142857px;width:45.349999999999966px;height:1px;background:#8a8a8a;"></div>
<div style="position:absolute;left:211.22500000000002px;top:1114.1214285714284px;width:300px;height:19px;line-height:19px;text-align:center;white-space:nowrap;font-size:15.3px;color:#222;-webkit-text-stroke:0.6px #222;">37</div>
<div style="position:absolute;left:256.575px;top:997.9785714285714px;width:300px;height:19px;line-height:19px;text-align:center;white-space:nowrap;font-size:15.3px;color:#222;-webkit-text-stroke:0.6px #222;">10</div>
<div style="position:absolute;left:383.9px;top:1015.8571428571429px;width:45.35000000000002px;height:1px;background:#8a8a8a;"></div>
<div style="position:absolute;left:256.575px;top:1017.3357142857142px;width:300px;height:19px;line-height:19px;text-align:center;white-space:nowrap;font-size:15.3px;color:#222;-webkit-text-stroke:0.6px #222;">11</div>
<div style="position:absolute;left:383.9px;top:1035.2142857142858px;width:45.35000000000002px;height:1px;background:#8a8a8a;"></div>
<div style="position:absolute;left:256.575px;top:1036.6928571428573px;width:300px;height:19px;line-height:19px;text-align:center;white-space:nowrap;font-size:15.3px;color:#222;-webkit-text-stroke:0.6px #222;">14</div>
<div style="position:absolute;left:383.9px;top:1054.5714285714287px;width:45.35000000000002px;height:1px;background:#8a8a8a;"></div>
<div style="position:absolute;left:256.575px;top:1056.05px;width:300px;height:19px;line-height:19px;text-align:center;white-space:nowrap;font-size:15.3px;color:#222;-webkit-text-stroke:0.6px #222;">16</div>
<div style="position:absolute;left:383.9px;top:1073.9285714285713px;width:45.35000000000002px;height:1px;background:#8a8a8a;"></div>
<div style="position:absolute;left:256.575px;top:1075.4071428571426px;width:300px;height:19px;line-height:19px;text-align:center;white-space:nowrap;font-size:15.3px;color:#222;-webkit-text-stroke:0.6px #222;">20</div>
<div style="position:absolute;left:383.9px;top:1093.2857142857142px;width:45.35000000000002px;height:1px;background:#8a8a8a;"></div>
<div style="position:absolute;left:256.575px;top:1094.7642857142857px;width:300px;height:19px;line-height:19px;text-align:center;white-space:nowrap;font-size:15.3px;color:#222;-webkit-text-stroke:0.6px #222;">22</div>
<div style="position:absolute;left:383.9px;top:1112.642857142857px;width:45.35000000000002px;height:1px;background:#8a8a8a;"></div>
<div style="position:absolute;left:256.575px;top:1114.1214285714284px;width:300px;height:19px;line-height:19px;text-align:center;white-space:nowrap;font-size:15.3px;color:#222;-webkit-text-stroke:0.6px #222;">26</div>
<div style="position:absolute;left:301.925px;top:1007.6571428571428px;width:300px;height:19px;line-height:19px;text-align:center;white-space:nowrap;font-size:15.3px;color:#222;-webkit-text-stroke:0.6px #222;">8</div>
<div style="position:absolute;left:429.25px;top:1035.2142857142858px;width:45.35000000000002px;height:1px;background:#8a8a8a;"></div>
<div style="position:absolute;left:301.925px;top:1036.6928571428573px;width:300px;height:19px;line-height:19px;text-align:center;white-space:nowrap;font-size:15.3px;color:#222;-webkit-text-stroke:0.6px #222;">12</div>
<div style="position:absolute;left:429.25px;top:1054.5714285714287px;width:45.35000000000002px;height:1px;background:#8a8a8a;"></div>
<div style="position:absolute;left:301.925px;top:1056.05px;width:300px;height:19px;line-height:19px;text-align:center;white-space:nowrap;font-size:15.3px;color:#222;-webkit-text-stroke:0.6px #222;">16</div>
<div style="position:absolute;left:429.25px;top:1073.9285714285713px;width:45.35000000000002px;height:1px;background:#8a8a8a;"></div>
<div style="position:absolute;left:301.925px;top:1075.4071428571426px;width:300px;height:19px;line-height:19px;text-align:center;white-space:nowrap;font-size:15.3px;color:#222;-webkit-text-stroke:0.6px #222;">20</div>
<div style="position:absolute;left:429.25px;top:1093.2857142857142px;width:45.35000000000002px;height:1px;background:#8a8a8a;"></div>
<div style="position:absolute;left:301.925px;top:1094.7642857142857px;width:300px;height:19px;line-height:19px;text-align:center;white-space:nowrap;font-size:15.3px;color:#222;-webkit-text-stroke:0.6px #222;">25</div>
<div style="position:absolute;left:429.25px;top:1112.642857142857px;width:45.35000000000002px;height:1px;background:#8a8a8a;"></div>
<div style="position:absolute;left:301.925px;top:1114.1214285714284px;width:300px;height:19px;line-height:19px;text-align:center;white-space:nowrap;font-size:15.3px;color:#222;-webkit-text-stroke:0.6px #222;">28</div>
<div style="position:absolute;left:347.27500000000003px;top:1007.6571428571428px;width:300px;height:19px;line-height:19px;text-align:center;white-space:nowrap;font-size:15.3px;color:#222;-webkit-text-stroke:0.6px #222;">M4</div>
<div style="position:absolute;left:474.6px;top:1035.2142857142858px;width:45.35000000000002px;height:1px;background:#8a8a8a;"></div>
<div style="position:absolute;left:347.27500000000003px;top:1036.6928571428573px;width:300px;height:19px;line-height:19px;text-align:center;white-space:nowrap;font-size:15.3px;color:#222;-webkit-text-stroke:0.6px #222;">M5</div>
<div style="position:absolute;left:474.6px;top:1054.5714285714287px;width:45.35000000000002px;height:1px;background:#8a8a8a;"></div>
<div style="position:absolute;left:347.27500000000003px;top:1065.7285714285715px;width:300px;height:19px;line-height:19px;text-align:center;white-space:nowrap;font-size:15.3px;color:#222;-webkit-text-stroke:0.6px #222;">M6</div>
<div style="position:absolute;left:474.6px;top:1093.2857142857142px;width:45.35000000000002px;height:1px;background:#8a8a8a;"></div>
<div style="position:absolute;left:347.27500000000003px;top:1104.442857142857px;width:300px;height:19px;line-height:19px;text-align:center;white-space:nowrap;font-size:15.3px;color:#222;-webkit-text-stroke:0.6px #222;">M8</div>
<div style="position:absolute;left:527.95px;top:1007.6571428571428px;white-space:nowrap;font-size:15.3px;color:#222;-webkit-text-stroke:0.6px #222;line-height:19px;">M6</div>
<div style="position:absolute;left:519.95px;top:1035.2142857142858px;width:45.34999999999991px;height:1px;background:#8a8a8a;"></div>
<div style="position:absolute;left:527.95px;top:1046.3714285714284px;white-space:nowrap;font-size:15.3px;color:#222;-webkit-text-stroke:0.6px #222;line-height:19px;">M8</div>
<div style="position:absolute;left:519.95px;top:1073.9285714285713px;width:45.34999999999991px;height:1px;background:#8a8a8a;"></div>
<div style="position:absolute;left:527.95px;top:1085.0857142857142px;white-space:nowrap;font-size:15.3px;color:#222;-webkit-text-stroke:0.6px #222;line-height:19px;">M10</div>
<div style="position:absolute;left:519.95px;top:1112.642857142857px;width:45.34999999999991px;height:1px;background:#8a8a8a;"></div>
<div style="position:absolute;left:527.95px;top:1114.1214285714284px;white-space:nowrap;font-size:15.3px;color:#222;-webkit-text-stroke:0.6px #222;line-height:19px;">M12</div>
<div style="position:absolute;left:583.3px;top:1007.6571428571428px;white-space:nowrap;font-size:15.3px;color:#222;-webkit-text-stroke:0.6px #222;line-height:19px;">6.6</div>
<div style="position:absolute;left:565.3px;top:1035.2142857142858px;width:45.350000000000136px;height:1px;background:#8a8a8a;"></div>
<div style="position:absolute;left:583.3px;top:1046.3714285714284px;white-space:nowrap;font-size:15.3px;color:#222;-webkit-text-stroke:0.6px #222;line-height:19px;">9</div>
<div style="position:absolute;left:565.3px;top:1073.9285714285713px;width:45.350000000000136px;height:1px;background:#8a8a8a;"></div>
<div style="position:absolute;left:576.3px;top:1085.0857142857142px;white-space:nowrap;font-size:15.3px;color:#222;-webkit-text-stroke:0.6px #222;line-height:19px;">11</div>
<div style="position:absolute;left:565.3px;top:1112.642857142857px;width:45.350000000000136px;height:1px;background:#8a8a8a;"></div>
<div style="position:absolute;left:576.3px;top:1114.1214285714284px;white-space:nowrap;font-size:15.3px;color:#222;-webkit-text-stroke:0.6px #222;line-height:19px;">13</div>
<div style="position:absolute;left:483.32500000000005px;top:1056.05px;width:300px;height:19px;line-height:19px;text-align:center;white-space:nowrap;font-size:15.3px;color:#222;-webkit-text-stroke:0.6px #222;">2</div>
<div style="position:absolute;left:528.675px;top:1007.6571428571428px;width:300px;height:19px;line-height:19px;text-align:center;white-space:nowrap;font-size:15.3px;color:#222;-webkit-text-stroke:0.6px #222;">34.5</div>
<div style="position:absolute;left:656.0px;top:1035.2142857142858px;width:45.35000000000002px;height:1px;background:#8a8a8a;"></div>
<div style="position:absolute;left:528.675px;top:1046.3714285714284px;width:300px;height:19px;line-height:19px;text-align:center;white-space:nowrap;font-size:15.3px;color:#222;-webkit-text-stroke:0.6px #222;">44.8</div>
<div style="position:absolute;left:656.0px;top:1073.9285714285713px;width:45.35000000000002px;height:1px;background:#8a8a8a;"></div>
<div style="position:absolute;left:528.675px;top:1085.0857142857142px;width:300px;height:19px;line-height:19px;text-align:center;white-space:nowrap;font-size:15.3px;color:#222;-webkit-text-stroke:0.6px #222;">53.7</div>
<div style="position:absolute;left:656.0px;top:1112.642857142857px;width:45.35000000000002px;height:1px;background:#8a8a8a;"></div>
<div style="position:absolute;left:528.675px;top:1114.1214285714284px;width:300px;height:19px;line-height:19px;text-align:center;white-space:nowrap;font-size:15.3px;color:#222;-webkit-text-stroke:0.6px #222;">67.2</div>
<div style="position:absolute;left:574.0250000000001px;top:1007.6571428571428px;width:300px;height:19px;line-height:19px;text-align:center;white-space:nowrap;font-size:15.3px;color:#222;-webkit-text-stroke:0.6px #222;">37.5</div>
<div style="position:absolute;left:701.35px;top:1035.2142857142858px;width:45.35000000000002px;height:1px;background:#8a8a8a;"></div>
<div style="position:absolute;left:574.0250000000001px;top:1046.3714285714284px;width:300px;height:19px;line-height:19px;text-align:center;white-space:nowrap;font-size:15.3px;color:#222;-webkit-text-stroke:0.6px #222;">48.8</div>
<div style="position:absolute;left:701.35px;top:1073.9285714285713px;width:45.35000000000002px;height:1px;background:#8a8a8a;"></div>
<div style="position:absolute;left:574.0250000000001px;top:1085.0857142857142px;width:300px;height:19px;line-height:19px;text-align:center;white-space:nowrap;font-size:15.3px;color:#222;-webkit-text-stroke:0.6px #222;">57.7</div>
<div style="position:absolute;left:701.35px;top:1112.642857142857px;width:45.35000000000002px;height:1px;background:#8a8a8a;"></div>
<div style="position:absolute;left:574.0250000000001px;top:1114.1214285714284px;width:300px;height:19px;line-height:19px;text-align:center;white-space:nowrap;font-size:15.3px;color:#222;-webkit-text-stroke:0.6px #222;">71.2</div>
<div style="position:absolute;left:753.7px;top:1007.6571428571428px;white-space:nowrap;font-size:15.3px;color:#222;-webkit-text-stroke:0.6px #222;line-height:19px;">44</div>
<div style="position:absolute;left:746.7px;top:1035.2142857142858px;width:45.35000000000002px;height:1px;background:#8a8a8a;"></div>
<div style="position:absolute;left:753.7px;top:1046.3714285714284px;white-space:nowrap;font-size:15.3px;color:#222;-webkit-text-stroke:0.6px #222;line-height:19px;">62.5</div>
<div style="position:absolute;left:746.7px;top:1073.9285714285713px;width:45.35000000000002px;height:1px;background:#8a8a8a;"></div>
<div style="position:absolute;left:753.7px;top:1085.0857142857142px;white-space:nowrap;font-size:15.3px;color:#222;-webkit-text-stroke:0.6px #222;line-height:19px;">77.5</div>
<div style="position:absolute;left:746.7px;top:1112.642857142857px;width:45.35000000000002px;height:1px;background:#8a8a8a;"></div>
<div style="position:absolute;left:753.7px;top:1114.1214285714284px;white-space:nowrap;font-size:15.3px;color:#222;-webkit-text-stroke:0.6px #222;line-height:19px;">92</div>
<div style="position:absolute;left:812.0500000000001px;top:1007.6571428571428px;white-space:nowrap;font-size:14.8px;color:#222;-webkit-text-stroke:0.5px #222;line-height:19px;">SADCF36-M6-L16-J</div>
<div style="position:absolute;left:792.0500000000001px;top:1035.2142857142858px;width:195.94999999999993px;height:1px;background:#8a8a8a;"></div>
<div style="position:absolute;left:812.0500000000001px;top:1036.6928571428573px;white-space:nowrap;font-size:14.8px;color:#222;-webkit-text-stroke:0.5px #222;line-height:19px;">SADCF36-M8-L20-J</div>
<div style="position:absolute;left:792.0500000000001px;top:1054.5714285714287px;width:195.94999999999993px;height:1px;background:#8a8a8a;"></div>
<div style="position:absolute;left:812.0500000000001px;top:1056.05px;white-space:nowrap;font-size:14.8px;color:#222;-webkit-text-stroke:0.5px #222;line-height:19px;">SADCF36-M8-L25-J</div>
<div style="position:absolute;left:792.0500000000001px;top:1073.9285714285713px;width:195.94999999999993px;height:1px;background:#8a8a8a;"></div>
<div style="position:absolute;left:812.0500000000001px;top:1075.4071428571426px;white-space:nowrap;font-size:14.8px;color:#222;-webkit-text-stroke:0.5px #222;line-height:19px;">SADCF36-M10-L32-J</div>
<div style="position:absolute;left:792.0500000000001px;top:1093.2857142857142px;width:195.94999999999993px;height:1px;background:#8a8a8a;"></div>
<div style="position:absolute;left:812.0500000000001px;top:1094.7642857142857px;white-space:nowrap;font-size:14.8px;color:#222;-webkit-text-stroke:0.5px #222;line-height:19px;">SADCF36-M10-L40-J</div>
<div style="position:absolute;left:792.0500000000001px;top:1112.642857142857px;width:195.94999999999993px;height:1px;background:#8a8a8a;"></div>
<div style="position:absolute;left:812.0500000000001px;top:1114.1214285714284px;white-space:nowrap;font-size:14.8px;color:#222;-webkit-text-stroke:0.5px #222;line-height:19px;">SADCF36-M12-L40-J</div>
<div style="position:absolute;left:5px;top:958.5px;width:983px;height:2px;background:#222;"></div>
<div style="position:absolute;left:5px;top:996.0px;width:983px;height:2px;background:#222;"></div>
<div style="position:absolute;left:5px;top:1131.5px;width:983px;height:2px;background:#222;"></div>
<div style="position:absolute;left:27px;top:1144px;white-space:nowrap;font-size:14px;font-weight:bold;color:#222;line-height:18px;">螺孔平行薄型</div>
<div style="position:absolute;left:5px;top:1145px;width:13px;height:13px;background:#e0157f;"></div>
<div style="position:absolute;left:5px;top:1160.75px;width:983px;height:38.75px;background:#eeeeee;"></div>
<div style="position:absolute;left:109px;top:1218.75px;width:879px;height:19.25px;background:#e3f1fb;"></div>
<div style="position:absolute;left:109px;top:1257.25px;width:879px;height:19.25px;background:#e3f1fb;"></div>
<div style="position:absolute;left:109px;top:1295.75px;width:879px;height:19.25px;background:#e3f1fb;"></div>
<div style="position:absolute;left:5px;top:1180.25px;width:197.5px;height:1px;background:#8a8a8a;"></div>
<div style="position:absolute;left:108.5px;top:1180.75px;width:1px;height:153.5px;background:#8a8a8a;"></div>
<div style="position:absolute;left:142.0px;top:1199.5px;width:1px;height:134.75px;background:#8a8a8a;"></div>
<div style="position:absolute;left:246.02px;top:1160.75px;width:1px;height:173.5px;background:#8a8a8a;"></div>
<div style="position:absolute;left:290.04px;top:1160.75px;width:1px;height:173.5px;background:#8a8a8a;"></div>
<div style="position:absolute;left:334.06px;top:1160.75px;width:1px;height:173.5px;background:#8a8a8a;"></div>
<div style="position:absolute;left:378.08000000000004px;top:1160.75px;width:1px;height:173.5px;background:#8a8a8a;"></div>
<div style="position:absolute;left:422.1px;top:1160.75px;width:1px;height:173.5px;background:#8a8a8a;"></div>
<div style="position:absolute;left:466.12px;top:1160.75px;width:1px;height:173.5px;background:#8a8a8a;"></div>
<div style="position:absolute;left:510.14000000000004px;top:1160.75px;width:1px;height:173.5px;background:#8a8a8a;"></div>
<div style="position:absolute;left:554.1600000000001px;top:1160.75px;width:1px;height:173.5px;background:#8a8a8a;"></div>
<div style="position:absolute;left:598.1800000000001px;top:1160.75px;width:1px;height:173.5px;background:#8a8a8a;"></div>
<div style="position:absolute;left:642.2px;top:1160.75px;width:1px;height:173.5px;background:#8a8a8a;"></div>
<div style="position:absolute;left:686.22px;top:1160.75px;width:1px;height:173.5px;background:#8a8a8a;"></div>
<div style="position:absolute;left:730.24px;top:1160.75px;width:1px;height:173.5px;background:#8a8a8a;"></div>
<div style="position:absolute;left:774.26px;top:1160.75px;width:1px;height:173.5px;background:#8a8a8a;"></div>
<div style="position:absolute;left:818.2800000000001px;top:1160.75px;width:1px;height:173.5px;background:#8a8a8a;"></div>
<div style="position:absolute;left:201.5px;top:1160.75px;width:2px;height:173.5px;background:#222;"></div>
<div style="position:absolute;left:-46.5px;top:1162.75px;width:300px;height:18px;line-height:18px;text-align:center;white-space:nowrap;font-size:14.5px;color:#222;-webkit-text-stroke:0.5px #222;">型号</div>
<div style="position:absolute;left:-93px;top:1182.125px;width:300px;height:18px;line-height:18px;text-align:center;white-space:nowrap;font-size:14px;font-weight:bold;color:#a4287e;">代码</div>
<div style="position:absolute;left:7px;top:1182.125px;width:300px;height:18px;line-height:18px;text-align:center;white-space:nowrap;font-size:16px;color:#a4287e;-webkit-text-stroke:0.5px #a4287e;">D<span style="font-size:10px;font-weight:bold;color:#222;-webkit-text-stroke:0">H7</span></div>
<div style="position:absolute;left:74.50999999999999px;top:1172.125px;width:300px;height:18px;line-height:18px;text-align:center;white-space:nowrap;font-size:14px;font-weight:bold;color:#222;">P</div>
<div style="position:absolute;left:118.53000000000003px;top:1172.125px;width:300px;height:18px;line-height:18px;text-align:center;white-space:nowrap;font-size:14px;font-weight:bold;color:#222;">A</div>
<div style="position:absolute;left:162.55px;top:1172.125px;width:300px;height:18px;line-height:18px;text-align:center;white-space:nowrap;font-size:14px;font-weight:bold;color:#222;">B</div>
<div style="position:absolute;left:206.57000000000005px;top:1172.125px;width:300px;height:18px;line-height:18px;text-align:center;white-space:nowrap;font-size:14px;font-weight:bold;color:#222;">C<span style="font-size:10px">1</span></div>
<div style="position:absolute;left:250.59000000000003px;top:1172.125px;width:300px;height:18px;line-height:18px;text-align:center;white-space:nowrap;font-size:14px;font-weight:bold;color:#222;">E</div>
<div style="position:absolute;left:294.61px;top:1172.125px;width:300px;height:18px;line-height:18px;text-align:center;white-space:nowrap;font-size:14px;font-weight:bold;color:#222;">H</div>
<div style="position:absolute;left:338.63px;top:1172.125px;width:300px;height:18px;line-height:18px;text-align:center;white-space:nowrap;font-size:14px;font-weight:bold;color:#222;">N<span style="font-size:10px">1</span></div>
<div style="position:absolute;left:382.6500000000001px;top:1172.125px;width:300px;height:18px;line-height:18px;text-align:center;white-space:nowrap;font-size:14px;font-weight:bold;color:#222;">M<span style="font-size:10px">1</span></div>
<div style="position:absolute;left:426.6700000000001px;top:1172.125px;width:300px;height:18px;line-height:18px;text-align:center;white-space:nowrap;font-size:14px;font-weight:bold;color:#222;">M</div>
<div style="position:absolute;left:470.69000000000005px;top:1172.125px;width:300px;height:18px;line-height:18px;text-align:center;white-space:nowrap;font-size:14px;font-weight:bold;color:#222;">K</div>
<div style="position:absolute;left:514.71px;top:1172.125px;width:300px;height:18px;line-height:18px;text-align:center;white-space:nowrap;font-size:14px;font-weight:bold;color:#222;">W</div>
<div style="position:absolute;left:558.73px;top:1172.125px;width:300px;height:18px;line-height:18px;text-align:center;white-space:nowrap;font-size:14px;font-weight:bold;color:#222;">H<span style="font-size:10px">1</span></div>
<div style="position:absolute;left:602.75px;top:1172.125px;width:300px;height:18px;line-height:18px;text-align:center;white-space:nowrap;font-size:14px;font-weight:bold;color:#222;">H<span style="font-size:10px">2</span></div>
<div style="position:absolute;left:646.77px;top:1172.125px;width:300px;height:18px;line-height:18px;text-align:center;white-space:nowrap;font-size:14px;font-weight:bold;color:#222;">R</div>
<div style="position:absolute;left:753.3900000000001px;top:1172.125px;width:300px;height:18px;line-height:18px;text-align:center;white-space:nowrap;font-size:14.5px;color:#222;-webkit-text-stroke:0.45px #222;">附件固定把手</div>
<div style="position:absolute;left:-23.5px;top:1201.625px;width:300px;height:18px;line-height:18px;text-align:center;white-space:nowrap;font-size:15.5px;font-weight:bold;color:#0e83d2;-webkit-text-stroke:0.5px #0e83d2;">10</div>
<div style="position:absolute;left:109px;top:1218.25px;width:33.5px;height:1px;background:#8a8a8a;"></div>
<div style="position:absolute;left:-23.5px;top:1220.875px;width:300px;height:18px;line-height:18px;text-align:center;white-space:nowrap;font-size:15.5px;font-weight:bold;color:#0e83d2;-webkit-text-stroke:0.5px #0e83d2;">12</div>
<div style="position:absolute;left:109px;top:1237.5px;width:33.5px;height:1px;background:#8a8a8a;"></div>
<div style="position:absolute;left:-23.5px;top:1240.125px;width:300px;height:18px;line-height:18px;text-align:center;white-space:nowrap;font-size:15.5px;font-weight:bold;color:#0e83d2;-webkit-text-stroke:0.5px #0e83d2;">15</div>
<div style="position:absolute;left:109px;top:1256.75px;width:33.5px;height:1px;background:#8a8a8a;"></div>
<div style="position:absolute;left:-23.5px;top:1259.375px;width:300px;height:18px;line-height:18px;text-align:center;white-space:nowrap;font-size:15.5px;font-weight:bold;color:#0e83d2;-webkit-text-stroke:0.5px #0e83d2;">20</div>
<div style="position:absolute;left:109px;top:1276.0px;width:33.5px;height:1px;background:#8a8a8a;"></div>
<div style="position:absolute;left:-23.5px;top:1278.625px;width:300px;height:18px;line-height:18px;text-align:center;white-space:nowrap;font-size:15.5px;font-weight:bold;color:#0e83d2;-webkit-text-stroke:0.5px #0e83d2;">25</div>
<div style="position:absolute;left:109px;top:1295.25px;width:33.5px;height:1px;background:#8a8a8a;"></div>
<div style="position:absolute;left:-23.5px;top:1297.875px;width:300px;height:18px;line-height:18px;text-align:center;white-space:nowrap;font-size:15.5px;font-weight:bold;color:#0e83d2;-webkit-text-stroke:0.5px #0e83d2;">30</div>
<div style="position:absolute;left:109px;top:1314.5px;width:33.5px;height:1px;background:#8a8a8a;"></div>
<div style="position:absolute;left:-23.5px;top:1317.125px;width:300px;height:18px;line-height:18px;text-align:center;white-space:nowrap;font-size:15.5px;font-weight:bold;color:#0e83d2;-webkit-text-stroke:0.5px #0e83d2;">35</div>
<div style="position:absolute;left:159px;top:1199.625px;white-space:nowrap;font-size:10.5px;font-weight:bold;color:#222;line-height:12px;">+0.015</div>
<div style="position:absolute;left:165px;top:1206.625px;white-space:nowrap;font-size:10.5px;font-weight:bold;color:#222;line-height:12px;">0</div>
<div style="position:absolute;left:142.5px;top:1218.25px;width:60.0px;height:1px;background:#8a8a8a;"></div>
<div style="position:absolute;left:159px;top:1229.5px;white-space:nowrap;font-size:10.5px;font-weight:bold;color:#222;line-height:12px;">+0.018</div>
<div style="position:absolute;left:165px;top:1240.5px;white-space:nowrap;font-size:10.5px;font-weight:bold;color:#222;line-height:12px;">0</div>
<div style="position:absolute;left:142.5px;top:1256.75px;width:60.0px;height:1px;background:#8a8a8a;"></div>
<div style="position:absolute;left:159px;top:1275.625px;white-space:nowrap;font-size:10.5px;font-weight:bold;color:#222;line-height:12px;">+0.021</div>
<div style="position:absolute;left:165px;top:1286.625px;white-space:nowrap;font-size:10.5px;font-weight:bold;color:#222;line-height:12px;">0</div>
<div style="position:absolute;left:142.5px;top:1314.5px;width:60.0px;height:1px;background:#8a8a8a;"></div>
<div style="position:absolute;left:159px;top:1315.125px;white-space:nowrap;font-size:10.5px;font-weight:bold;color:#222;line-height:12px;">+0.025</div>
<div style="position:absolute;left:165px;top:1322.125px;white-space:nowrap;font-size:10.5px;font-weight:bold;color:#222;line-height:12px;">0</div>
<div style="position:absolute;left:-93.5px;top:1244.875px;width:300px;height:19px;line-height:19px;text-align:center;white-space:nowrap;font-size:15px;font-weight:bold;color:#0e83d2;letter-spacing:-0.4px;-webkit-text-stroke:0.5px #0e83d2;">KZEWA</div>
<div style="position:absolute;left:-93.5px;top:1262.875px;width:300px;height:19px;line-height:19px;text-align:center;white-space:nowrap;font-size:15px;font-weight:bold;color:#0e83d2;letter-spacing:-0.4px;-webkit-text-stroke:0.5px #0e83d2;">KZEWB</div>
<div style="position:absolute;left:74.50999999999999px;top:1200.425px;width:300px;height:19px;line-height:19px;text-align:center;white-space:nowrap;font-size:15.3px;color:#222;-webkit-text-stroke:0.6px #222;">16</div>
<div style="position:absolute;left:202.5px;top:1218.25px;width:44.02000000000001px;height:1px;background:#8a8a8a;"></div>
<div style="position:absolute;left:74.50999999999999px;top:1219.675px;width:300px;height:19px;line-height:19px;text-align:center;white-space:nowrap;font-size:15.3px;color:#222;-webkit-text-stroke:0.6px #222;">18</div>
<div style="position:absolute;left:202.5px;top:1237.5px;width:44.02000000000001px;height:1px;background:#8a8a8a;"></div>
<div style="position:absolute;left:74.50999999999999px;top:1238.925px;width:300px;height:19px;line-height:19px;text-align:center;white-space:nowrap;font-size:15.3px;color:#222;-webkit-text-stroke:0.6px #222;">25</div>
<div style="position:absolute;left:202.5px;top:1256.75px;width:44.02000000000001px;height:1px;background:#8a8a8a;"></div>
<div style="position:absolute;left:74.50999999999999px;top:1258.175px;width:300px;height:19px;line-height:19px;text-align:center;white-space:nowrap;font-size:15.3px;color:#222;-webkit-text-stroke:0.6px #222;">30</div>
<div style="position:absolute;left:202.5px;top:1276.0px;width:44.02000000000001px;height:1px;background:#8a8a8a;"></div>
<div style="position:absolute;left:74.50999999999999px;top:1277.425px;width:300px;height:19px;line-height:19px;text-align:center;white-space:nowrap;font-size:15.3px;color:#222;-webkit-text-stroke:0.6px #222;">33</div>
<div style="position:absolute;left:202.5px;top:1295.25px;width:44.02000000000001px;height:1px;background:#8a8a8a;"></div>
<div style="position:absolute;left:74.50999999999999px;top:1296.675px;width:300px;height:19px;line-height:19px;text-align:center;white-space:nowrap;font-size:15.3px;color:#222;-webkit-text-stroke:0.6px #222;">37</div>
<div style="position:absolute;left:202.5px;top:1314.5px;width:44.02000000000001px;height:1px;background:#8a8a8a;"></div>
<div style="position:absolute;left:74.50999999999999px;top:1315.925px;width:300px;height:19px;line-height:19px;text-align:center;white-space:nowrap;font-size:15.3px;color:#222;-webkit-text-stroke:0.6px #222;">40</div>
<div style="position:absolute;left:118.53000000000003px;top:1200.425px;width:300px;height:19px;line-height:19px;text-align:center;white-space:nowrap;font-size:15.3px;color:#222;-webkit-text-stroke:0.6px #222;">31</div>
<div style="position:absolute;left:246.52px;top:1218.25px;width:44.02000000000001px;height:1px;background:#8a8a8a;"></div>
<div style="position:absolute;left:118.53000000000003px;top:1219.675px;width:300px;height:19px;line-height:19px;text-align:center;white-space:nowrap;font-size:15.3px;color:#222;-webkit-text-stroke:0.6px #222;">34</div>
<div style="position:absolute;left:246.52px;top:1237.5px;width:44.02000000000001px;height:1px;background:#8a8a8a;"></div>
<div style="position:absolute;left:118.53000000000003px;top:1238.925px;width:300px;height:19px;line-height:19px;text-align:center;white-space:nowrap;font-size:15.3px;color:#222;-webkit-text-stroke:0.6px #222;">45</div>
<div style="position:absolute;left:246.52px;top:1256.75px;width:44.02000000000001px;height:1px;background:#8a8a8a;"></div>
<div style="position:absolute;left:118.53000000000003px;top:1258.175px;width:300px;height:19px;line-height:19px;text-align:center;white-space:nowrap;font-size:15.3px;color:#222;-webkit-text-stroke:0.6px #222;">52</div>
<div style="position:absolute;left:246.52px;top:1276.0px;width:44.02000000000001px;height:1px;background:#8a8a8a;"></div>
<div style="position:absolute;left:118.53000000000003px;top:1277.425px;width:300px;height:19px;line-height:19px;text-align:center;white-space:nowrap;font-size:15.3px;color:#222;-webkit-text-stroke:0.6px #222;">58</div>
<div style="position:absolute;left:246.52px;top:1295.25px;width:44.02000000000001px;height:1px;background:#8a8a8a;"></div>
<div style="position:absolute;left:118.53000000000003px;top:1296.675px;width:300px;height:19px;line-height:19px;text-align:center;white-space:nowrap;font-size:15.3px;color:#222;-webkit-text-stroke:0.6px #222;">66</div>
<div style="position:absolute;left:246.52px;top:1314.5px;width:44.02000000000001px;height:1px;background:#8a8a8a;"></div>
<div style="position:absolute;left:118.53000000000003px;top:1315.925px;width:300px;height:19px;line-height:19px;text-align:center;white-space:nowrap;font-size:15.3px;color:#222;-webkit-text-stroke:0.6px #222;">72</div>
<div style="position:absolute;left:162.55px;top:1210.05px;width:300px;height:19px;line-height:19px;text-align:center;white-space:nowrap;font-size:15.3px;color:#222;-webkit-text-stroke:0.6px #222;">16</div>
<div style="position:absolute;left:290.54px;top:1237.5px;width:44.01999999999998px;height:1px;background:#8a8a8a;"></div>
<div style="position:absolute;left:162.55px;top:1238.925px;width:300px;height:19px;line-height:19px;text-align:center;white-space:nowrap;font-size:15.3px;color:#222;-webkit-text-stroke:0.6px #222;">22</div>
<div style="position:absolute;left:290.54px;top:1256.75px;width:44.01999999999998px;height:1px;background:#8a8a8a;"></div>
<div style="position:absolute;left:162.55px;top:1258.175px;width:300px;height:19px;line-height:19px;text-align:center;white-space:nowrap;font-size:15.3px;color:#222;-webkit-text-stroke:0.6px #222;">28</div>
<div style="position:absolute;left:290.54px;top:1276.0px;width:44.01999999999998px;height:1px;background:#8a8a8a;"></div>
<div style="position:absolute;left:162.55px;top:1277.425px;width:300px;height:19px;line-height:19px;text-align:center;white-space:nowrap;font-size:15.3px;color:#222;-webkit-text-stroke:0.6px #222;">32</div>
<div style="position:absolute;left:290.54px;top:1295.25px;width:44.01999999999998px;height:1px;background:#8a8a8a;"></div>
<div style="position:absolute;left:162.55px;top:1296.675px;width:300px;height:19px;line-height:19px;text-align:center;white-space:nowrap;font-size:15.3px;color:#222;-webkit-text-stroke:0.6px #222;">38</div>
<div style="position:absolute;left:290.54px;top:1314.5px;width:44.01999999999998px;height:1px;background:#8a8a8a;"></div>
<div style="position:absolute;left:162.55px;top:1315.925px;width:300px;height:19px;line-height:19px;text-align:center;white-space:nowrap;font-size:15.3px;color:#222;-webkit-text-stroke:0.6px #222;">45</div>
<div style="position:absolute;left:206.57000000000005px;top:1210.05px;width:300px;height:19px;line-height:19px;text-align:center;white-space:nowrap;font-size:15.3px;color:#222;-webkit-text-stroke:0.6px #222;">9</div>
<div style="position:absolute;left:334.56px;top:1237.5px;width:44.02000000000004px;height:1px;background:#8a8a8a;"></div>
<div style="position:absolute;left:206.57000000000005px;top:1238.925px;width:300px;height:19px;line-height:19px;text-align:center;white-space:nowrap;font-size:15.3px;color:#222;-webkit-text-stroke:0.6px #222;">12</div>
<div style="position:absolute;left:334.56px;top:1256.75px;width:44.02000000000004px;height:1px;background:#8a8a8a;"></div>
<div style="position:absolute;left:206.57000000000005px;top:1258.175px;width:300px;height:19px;line-height:19px;text-align:center;white-space:nowrap;font-size:15.3px;color:#222;-webkit-text-stroke:0.6px #222;">16</div>
<div style="position:absolute;left:334.56px;top:1276.0px;width:44.02000000000004px;height:1px;background:#8a8a8a;"></div>
<div style="position:absolute;left:206.57000000000005px;top:1287.05px;width:300px;height:19px;line-height:19px;text-align:center;white-space:nowrap;font-size:15.3px;color:#222;-webkit-text-stroke:0.6px #222;">19</div>
<div style="position:absolute;left:334.56px;top:1314.5px;width:44.02000000000004px;height:1px;background:#8a8a8a;"></div>
<div style="position:absolute;left:206.57000000000005px;top:1315.925px;width:300px;height:19px;line-height:19px;text-align:center;white-space:nowrap;font-size:15.3px;color:#222;-webkit-text-stroke:0.6px #222;">22</div>
<div style="position:absolute;left:250.59000000000003px;top:1200.425px;width:300px;height:19px;line-height:19px;text-align:center;white-space:nowrap;font-size:15.3px;color:#222;-webkit-text-stroke:0.6px #222;">15</div>
<div style="position:absolute;left:378.58000000000004px;top:1218.25px;width:44.01999999999998px;height:1px;background:#8a8a8a;"></div>
<div style="position:absolute;left:250.59000000000003px;top:1219.675px;width:300px;height:19px;line-height:19px;text-align:center;white-space:nowrap;font-size:15.3px;color:#222;-webkit-text-stroke:0.6px #222;">16</div>
<div style="position:absolute;left:378.58000000000004px;top:1237.5px;width:44.01999999999998px;height:1px;background:#8a8a8a;"></div>
<div style="position:absolute;left:250.59000000000003px;top:1238.925px;width:300px;height:19px;line-height:19px;text-align:center;white-space:nowrap;font-size:15.3px;color:#222;-webkit-text-stroke:0.6px #222;">20</div>
<div style="position:absolute;left:378.58000000000004px;top:1256.75px;width:44.01999999999998px;height:1px;background:#8a8a8a;"></div>
<div style="position:absolute;left:250.59000000000003px;top:1258.175px;width:300px;height:19px;line-height:19px;text-align:center;white-space:nowrap;font-size:15.3px;color:#222;-webkit-text-stroke:0.6px #222;">22</div>
<div style="position:absolute;left:378.58000000000004px;top:1276.0px;width:44.01999999999998px;height:1px;background:#8a8a8a;"></div>
<div style="position:absolute;left:250.59000000000003px;top:1277.425px;width:300px;height:19px;line-height:19px;text-align:center;white-space:nowrap;font-size:15.3px;color:#222;-webkit-text-stroke:0.6px #222;">25</div>
<div style="position:absolute;left:378.58000000000004px;top:1295.25px;width:44.01999999999998px;height:1px;background:#8a8a8a;"></div>
<div style="position:absolute;left:250.59000000000003px;top:1296.675px;width:300px;height:19px;line-height:19px;text-align:center;white-space:nowrap;font-size:15.3px;color:#222;-webkit-text-stroke:0.6px #222;">29</div>
<div style="position:absolute;left:378.58000000000004px;top:1314.5px;width:44.01999999999998px;height:1px;background:#8a8a8a;"></div>
<div style="position:absolute;left:250.59000000000003px;top:1315.925px;width:300px;height:19px;line-height:19px;text-align:center;white-space:nowrap;font-size:15.3px;color:#222;-webkit-text-stroke:0.6px #222;">32</div>
<div style="position:absolute;left:294.61px;top:1200.425px;width:300px;height:19px;line-height:19px;text-align:center;white-space:nowrap;font-size:15.3px;color:#222;-webkit-text-stroke:0.6px #222;">9</div>
<div style="position:absolute;left:422.6px;top:1218.25px;width:44.01999999999998px;height:1px;background:#8a8a8a;"></div>
<div style="position:absolute;left:294.61px;top:1219.675px;width:300px;height:19px;line-height:19px;text-align:center;white-space:nowrap;font-size:15.3px;color:#222;-webkit-text-stroke:0.6px #222;">10</div>
<div style="position:absolute;left:422.6px;top:1237.5px;width:44.01999999999998px;height:1px;background:#8a8a8a;"></div>
<div style="position:absolute;left:294.61px;top:1238.925px;width:300px;height:19px;line-height:19px;text-align:center;white-space:nowrap;font-size:15.3px;color:#222;-webkit-text-stroke:0.6px #222;">12</div>
<div style="position:absolute;left:422.6px;top:1256.75px;width:44.01999999999998px;height:1px;background:#8a8a8a;"></div>
<div style="position:absolute;left:294.61px;top:1258.175px;width:300px;height:19px;line-height:19px;text-align:center;white-space:nowrap;font-size:15.3px;color:#222;-webkit-text-stroke:0.6px #222;">15</div>
<div style="position:absolute;left:422.6px;top:1276.0px;width:44.01999999999998px;height:1px;background:#8a8a8a;"></div>
<div style="position:absolute;left:294.61px;top:1277.425px;width:300px;height:19px;line-height:19px;text-align:center;white-space:nowrap;font-size:15.3px;color:#222;-webkit-text-stroke:0.6px #222;">18</div>
<div style="position:absolute;left:422.6px;top:1295.25px;width:44.01999999999998px;height:1px;background:#8a8a8a;"></div>
<div style="position:absolute;left:294.61px;top:1296.675px;width:300px;height:19px;line-height:19px;text-align:center;white-space:nowrap;font-size:15.3px;color:#222;-webkit-text-stroke:0.6px #222;">21</div>
<div style="position:absolute;left:422.6px;top:1314.5px;width:44.01999999999998px;height:1px;background:#8a8a8a;"></div>
<div style="position:absolute;left:294.61px;top:1315.925px;width:300px;height:19px;line-height:19px;text-align:center;white-space:nowrap;font-size:15.3px;color:#222;-webkit-text-stroke:0.6px #222;">24</div>
<div style="position:absolute;left:338.63px;top:1210.05px;width:300px;height:19px;line-height:19px;text-align:center;white-space:nowrap;font-size:15.3px;color:#222;-webkit-text-stroke:0.6px #222;">8</div>
<div style="position:absolute;left:466.62px;top:1237.5px;width:44.02000000000004px;height:1px;background:#8a8a8a;"></div>
<div style="position:absolute;left:338.63px;top:1238.925px;width:300px;height:19px;line-height:19px;text-align:center;white-space:nowrap;font-size:15.3px;color:#222;-webkit-text-stroke:0.6px #222;">12</div>
<div style="position:absolute;left:466.62px;top:1256.75px;width:44.02000000000004px;height:1px;background:#8a8a8a;"></div>
<div style="position:absolute;left:338.63px;top:1258.175px;width:300px;height:19px;line-height:19px;text-align:center;white-space:nowrap;font-size:15.3px;color:#222;-webkit-text-stroke:0.6px #222;">16</div>
<div style="position:absolute;left:466.62px;top:1276.0px;width:44.02000000000004px;height:1px;background:#8a8a8a;"></div>
<div style="position:absolute;left:338.63px;top:1277.425px;width:300px;height:19px;line-height:19px;text-align:center;white-space:nowrap;font-size:15.3px;color:#222;-webkit-text-stroke:0.6px #222;">20</div>
<div style="position:absolute;left:466.62px;top:1295.25px;width:44.02000000000004px;height:1px;background:#8a8a8a;"></div>
<div style="position:absolute;left:338.63px;top:1296.675px;width:300px;height:19px;line-height:19px;text-align:center;white-space:nowrap;font-size:15.3px;color:#222;-webkit-text-stroke:0.6px #222;">25</div>
<div style="position:absolute;left:466.62px;top:1314.5px;width:44.02000000000004px;height:1px;background:#8a8a8a;"></div>
<div style="position:absolute;left:338.63px;top:1315.925px;width:300px;height:19px;line-height:19px;text-align:center;white-space:nowrap;font-size:15.3px;color:#222;-webkit-text-stroke:0.6px #222;">28</div>
<div style="position:absolute;left:382.6500000000001px;top:1210.05px;width:300px;height:19px;line-height:19px;text-align:center;white-space:nowrap;font-size:15.3px;color:#222;-webkit-text-stroke:0.6px #222;">M4</div>
<div style="position:absolute;left:510.64000000000004px;top:1237.5px;width:44.02000000000004px;height:1px;background:#8a8a8a;"></div>
<div style="position:absolute;left:382.6500000000001px;top:1238.925px;width:300px;height:19px;line-height:19px;text-align:center;white-space:nowrap;font-size:15.3px;color:#222;-webkit-text-stroke:0.6px #222;">M5</div>
<div style="position:absolute;left:510.64000000000004px;top:1256.75px;width:44.02000000000004px;height:1px;background:#8a8a8a;"></div>
<div style="position:absolute;left:382.6500000000001px;top:1267.8px;width:300px;height:19px;line-height:19px;text-align:center;white-space:nowrap;font-size:15.3px;color:#222;-webkit-text-stroke:0.6px #222;">M6</div>
<div style="position:absolute;left:510.64000000000004px;top:1295.25px;width:44.02000000000004px;height:1px;background:#8a8a8a;"></div>
<div style="position:absolute;left:382.6500000000001px;top:1306.3px;width:300px;height:19px;line-height:19px;text-align:center;white-space:nowrap;font-size:15.3px;color:#222;-webkit-text-stroke:0.6px #222;">M8</div>
<div style="position:absolute;left:426.6700000000001px;top:1219.675px;width:300px;height:19px;line-height:19px;text-align:center;white-space:nowrap;font-size:15.3px;color:#222;-webkit-text-stroke:0.6px #222;">M5</div>
<div style="position:absolute;left:554.6600000000001px;top:1256.75px;width:44.01999999999998px;height:1px;background:#8a8a8a;"></div>
<div style="position:absolute;left:426.6700000000001px;top:1277.425px;width:300px;height:19px;line-height:19px;text-align:center;white-space:nowrap;font-size:15.3px;color:#222;-webkit-text-stroke:0.6px #222;">M6</div>
<div style="position:absolute;left:554.6600000000001px;top:1314.5px;width:44.01999999999998px;height:1px;background:#8a8a8a;"></div>
<div style="position:absolute;left:426.6700000000001px;top:1315.925px;width:300px;height:19px;line-height:19px;text-align:center;white-space:nowrap;font-size:15.3px;color:#222;-webkit-text-stroke:0.6px #222;">M8</div>
<div style="position:absolute;left:609.6800000000001px;top:1219.675px;white-space:nowrap;font-size:15.3px;color:#222;-webkit-text-stroke:0.6px #222;line-height:19px;">5.5</div>
<div style="position:absolute;left:598.6800000000001px;top:1256.75px;width:44.01999999999998px;height:1px;background:#8a8a8a;"></div>
<div style="position:absolute;left:609.6800000000001px;top:1277.425px;white-space:nowrap;font-size:15.3px;color:#222;-webkit-text-stroke:0.6px #222;line-height:19px;">6.6</div>
<div style="position:absolute;left:598.6800000000001px;top:1314.5px;width:44.01999999999998px;height:1px;background:#8a8a8a;"></div>
<div style="position:absolute;left:609.6800000000001px;top:1315.925px;white-space:nowrap;font-size:15.3px;color:#222;-webkit-text-stroke:0.6px #222;line-height:19px;">9</div>
<div style="position:absolute;left:514.71px;top:1258.175px;width:300px;height:19px;line-height:19px;text-align:center;white-space:nowrap;font-size:15.3px;color:#222;-webkit-text-stroke:0.6px #222;">2</div>
<div style="position:absolute;left:558.73px;top:1248.55px;width:300px;height:19px;line-height:19px;text-align:center;white-space:nowrap;font-size:15.3px;color:#222;-webkit-text-stroke:0.6px #222;">34.5</div>
<div style="position:absolute;left:686.72px;top:1314.5px;width:44.01999999999998px;height:1px;background:#8a8a8a;"></div>
<div style="position:absolute;left:558.73px;top:1315.925px;width:300px;height:19px;line-height:19px;text-align:center;white-space:nowrap;font-size:15.3px;color:#222;-webkit-text-stroke:0.6px #222;">44.8</div>
<div style="position:absolute;left:602.75px;top:1248.55px;width:300px;height:19px;line-height:19px;text-align:center;white-space:nowrap;font-size:15.3px;color:#222;-webkit-text-stroke:0.6px #222;">37.5</div>
<div style="position:absolute;left:730.74px;top:1314.5px;width:44.01999999999998px;height:1px;background:#8a8a8a;"></div>
<div style="position:absolute;left:602.75px;top:1315.925px;width:300px;height:19px;line-height:19px;text-align:center;white-space:nowrap;font-size:15.3px;color:#222;-webkit-text-stroke:0.6px #222;">48.8</div>
<div style="position:absolute;left:781.76px;top:1248.55px;white-space:nowrap;font-size:15.3px;color:#222;-webkit-text-stroke:0.6px #222;line-height:19px;">44</div>
<div style="position:absolute;left:774.76px;top:1314.5px;width:44.020000000000095px;height:1px;background:#8a8a8a;"></div>
<div style="position:absolute;left:781.76px;top:1315.925px;white-space:nowrap;font-size:15.3px;color:#222;-webkit-text-stroke:0.6px #222;line-height:19px;">62.5</div>
<div style="position:absolute;left:829.7800000000001px;top:1210.05px;white-space:nowrap;font-size:14.8px;color:#222;-webkit-text-stroke:0.5px #222;line-height:19px;">SADCF36-M5-L16-J</div>
<div style="position:absolute;left:818.7800000000001px;top:1237.5px;width:169.2199999999999px;height:1px;background:#8a8a8a;"></div>
<div style="position:absolute;left:829.7800000000001px;top:1238.925px;white-space:nowrap;font-size:14.8px;color:#222;-webkit-text-stroke:0.5px #222;line-height:19px;">SADCF36-M5-L20-J</div>
<div style="position:absolute;left:818.7800000000001px;top:1256.75px;width:169.2199999999999px;height:1px;background:#8a8a8a;"></div>
<div style="position:absolute;left:829.7800000000001px;top:1258.175px;white-space:nowrap;font-size:14.8px;color:#222;-webkit-text-stroke:0.5px #222;line-height:19px;">SADCF36-M6-L25-J</div>
<div style="position:absolute;left:818.7800000000001px;top:1276.0px;width:169.2199999999999px;height:1px;background:#8a8a8a;"></div>
<div style="position:absolute;left:829.7800000000001px;top:1287.05px;white-space:nowrap;font-size:14.8px;color:#222;-webkit-text-stroke:0.5px #222;line-height:19px;">SADCF36-M6-L32-J</div>
<div style="position:absolute;left:818.7800000000001px;top:1314.5px;width:169.2199999999999px;height:1px;background:#8a8a8a;"></div>
<div style="position:absolute;left:829.7800000000001px;top:1315.925px;white-space:nowrap;font-size:14.8px;color:#222;-webkit-text-stroke:0.5px #222;line-height:19px;">SADCF36-M8-L40-J</div>
<div style="position:absolute;left:5px;top:1159.75px;width:983px;height:2px;background:#222;"></div>
<div style="position:absolute;left:5px;top:1198.5px;width:983px;height:2px;background:#222;"></div>
<div style="position:absolute;left:5px;top:1333.25px;width:983px;height:2px;background:#222;"></div>
<div style="position:absolute;left:23px;top:1346px;white-space:nowrap;font-size:14px;font-weight:bold;color:#222;line-height:18px;">螺孔垂直薄型</div>
<div style="position:absolute;left:5px;top:1349px;width:13px;height:13px;background:#e0157f;"></div>
<div style="position:absolute;left:5px;top:1365px;width:983px;height:38px;background:#eeeeee;"></div>
<div style="position:absolute;left:109px;top:1422.1785714285713px;width:879px;height:19.17857142857156px;background:#e3f1fb;"></div>
<div style="position:absolute;left:109px;top:1460.5357142857142px;width:879px;height:19.17857142857156px;background:#e3f1fb;"></div>
<div style="position:absolute;left:109px;top:1498.892857142857px;width:879px;height:19.17857142857133px;background:#e3f1fb;"></div>
<div style="position:absolute;left:5px;top:1383.5px;width:197.5px;height:1px;background:#8a8a8a;"></div>
<div style="position:absolute;left:108.5px;top:1384px;width:1px;height:153.25px;background:#8a8a8a;"></div>
<div style="position:absolute;left:142.0px;top:1403px;width:1px;height:134.25px;background:#8a8a8a;"></div>
<div style="position:absolute;left:244.733px;top:1365px;width:1px;height:172.25px;background:#8a8a8a;"></div>
<div style="position:absolute;left:287.466px;top:1365px;width:1px;height:172.25px;background:#8a8a8a;"></div>
<div style="position:absolute;left:330.19899999999996px;top:1365px;width:1px;height:172.25px;background:#8a8a8a;"></div>
<div style="position:absolute;left:372.932px;top:1365px;width:1px;height:172.25px;background:#8a8a8a;"></div>
<div style="position:absolute;left:415.66499999999996px;top:1365px;width:1px;height:172.25px;background:#8a8a8a;"></div>
<div style="position:absolute;left:458.39799999999997px;top:1365px;width:1px;height:172.25px;background:#8a8a8a;"></div>
<div style="position:absolute;left:501.131px;top:1365px;width:1px;height:172.25px;background:#8a8a8a;"></div>
<div style="position:absolute;left:543.864px;top:1365px;width:1px;height:172.25px;background:#8a8a8a;"></div>
<div style="position:absolute;left:586.597px;top:1365px;width:1px;height:172.25px;background:#8a8a8a;"></div>
<div style="position:absolute;left:629.3299999999999px;top:1365px;width:1px;height:172.25px;background:#8a8a8a;"></div>
<div style="position:absolute;left:672.063px;top:1365px;width:1px;height:172.25px;background:#8a8a8a;"></div>
<div style="position:absolute;left:714.7959999999999px;top:1365px;width:1px;height:172.25px;background:#8a8a8a;"></div>
<div style="position:absolute;left:757.529px;top:1365px;width:1px;height:172.25px;background:#8a8a8a;"></div>
<div style="position:absolute;left:800.262px;top:1365px;width:1px;height:172.25px;background:#8a8a8a;"></div>
<div style="position:absolute;left:842.995px;top:1365px;width:1px;height:172.25px;background:#8a8a8a;"></div>
<div style="position:absolute;left:201.5px;top:1365px;width:2px;height:172.25px;background:#222;"></div>
<div style="position:absolute;left:-46.5px;top:1366.5px;width:300px;height:18px;line-height:18px;text-align:center;white-space:nowrap;font-size:14.5px;color:#222;-webkit-text-stroke:0.5px #222;">型号</div>
<div style="position:absolute;left:-93px;top:1385.5px;width:300px;height:18px;line-height:18px;text-align:center;white-space:nowrap;font-size:14px;font-weight:bold;color:#a4287e;">代码</div>
<div style="position:absolute;left:7px;top:1385.5px;width:300px;height:18px;line-height:18px;text-align:center;white-space:nowrap;font-size:16px;color:#a4287e;-webkit-text-stroke:0.5px #a4287e;">D<span style="font-size:10px;font-weight:bold;color:#222;-webkit-text-stroke:0">H7</span></div>
<div style="position:absolute;left:73.8665px;top:1376.0px;width:300px;height:18px;line-height:18px;text-align:center;white-space:nowrap;font-size:14px;font-weight:bold;color:#222;">P</div>
<div style="position:absolute;left:116.59950000000003px;top:1376.0px;width:300px;height:18px;line-height:18px;text-align:center;white-space:nowrap;font-size:14px;font-weight:bold;color:#222;">A</div>
<div style="position:absolute;left:159.33249999999998px;top:1376.0px;width:300px;height:18px;line-height:18px;text-align:center;white-space:nowrap;font-size:14px;font-weight:bold;color:#222;">B</div>
<div style="position:absolute;left:202.0655px;top:1376.0px;width:300px;height:18px;line-height:18px;text-align:center;white-space:nowrap;font-size:14px;font-weight:bold;color:#222;">C<span style="font-size:10px">1</span></div>
<div style="position:absolute;left:244.7985px;top:1376.0px;width:300px;height:18px;line-height:18px;text-align:center;white-space:nowrap;font-size:14px;font-weight:bold;color:#222;">E</div>
<div style="position:absolute;left:287.53149999999994px;top:1376.0px;width:300px;height:18px;line-height:18px;text-align:center;white-space:nowrap;font-size:14px;font-weight:bold;color:#222;">G</div>
<div style="position:absolute;left:330.2645px;top:1376.0px;width:300px;height:18px;line-height:18px;text-align:center;white-space:nowrap;font-size:14px;font-weight:bold;color:#222;">H</div>
<div style="position:absolute;left:372.99749999999995px;top:1376.0px;width:300px;height:18px;line-height:18px;text-align:center;white-space:nowrap;font-size:14px;font-weight:bold;color:#222;">N<span style="font-size:10px">1</span></div>
<div style="position:absolute;left:415.7305px;top:1376.0px;width:300px;height:18px;line-height:18px;text-align:center;white-space:nowrap;font-size:14px;font-weight:bold;color:#222;">M<span style="font-size:10px">1</span></div>
<div style="position:absolute;left:458.46349999999995px;top:1376.0px;width:300px;height:18px;line-height:18px;text-align:center;white-space:nowrap;font-size:14px;font-weight:bold;color:#222;">M</div>
<div style="position:absolute;left:501.1965px;top:1376.0px;width:300px;height:18px;line-height:18px;text-align:center;white-space:nowrap;font-size:14px;font-weight:bold;color:#222;">K</div>
<div style="position:absolute;left:543.9295px;top:1376.0px;width:300px;height:18px;line-height:18px;text-align:center;white-space:nowrap;font-size:14px;font-weight:bold;color:#222;">W</div>
<div style="position:absolute;left:586.6624999999999px;top:1376.0px;width:300px;height:18px;line-height:18px;text-align:center;white-space:nowrap;font-size:14px;font-weight:bold;color:#222;">H<span style="font-size:10px">1</span></div>
<div style="position:absolute;left:629.3955px;top:1376.0px;width:300px;height:18px;line-height:18px;text-align:center;white-space:nowrap;font-size:14px;font-weight:bold;color:#222;">H<span style="font-size:10px">2</span></div>
<div style="position:absolute;left:672.1285px;top:1376.0px;width:300px;height:18px;line-height:18px;text-align:center;white-space:nowrap;font-size:14px;font-weight:bold;color:#222;">R</div>
<div style="position:absolute;left:765.7475px;top:1376.0px;width:300px;height:18px;line-height:18px;text-align:center;white-space:nowrap;font-size:14.5px;color:#222;-webkit-text-stroke:0.45px #222;">附件固定把手</div>
<div style="position:absolute;left:-23.5px;top:1405.0892857142858px;width:300px;height:18px;line-height:18px;text-align:center;white-space:nowrap;font-size:15.5px;font-weight:bold;color:#0e83d2;-webkit-text-stroke:0.5px #0e83d2;">10</div>
<div style="position:absolute;left:109px;top:1421.6785714285713px;width:33.5px;height:1px;background:#8a8a8a;"></div>
<div style="position:absolute;left:-23.5px;top:1424.267857142857px;width:300px;height:18px;line-height:18px;text-align:center;white-space:nowrap;font-size:15.5px;font-weight:bold;color:#0e83d2;-webkit-text-stroke:0.5px #0e83d2;">12</div>
<div style="position:absolute;left:109px;top:1440.857142857143px;width:33.5px;height:1px;background:#8a8a8a;"></div>
<div style="position:absolute;left:-23.5px;top:1443.4464285714284px;width:300px;height:18px;line-height:18px;text-align:center;white-space:nowrap;font-size:15.5px;font-weight:bold;color:#0e83d2;-webkit-text-stroke:0.5px #0e83d2;">15</div>
<div style="position:absolute;left:109px;top:1460.0357142857142px;width:33.5px;height:1px;background:#8a8a8a;"></div>
<div style="position:absolute;left:-23.5px;top:1462.625px;width:300px;height:18px;line-height:18px;text-align:center;white-space:nowrap;font-size:15.5px;font-weight:bold;color:#0e83d2;-webkit-text-stroke:0.5px #0e83d2;">20</div>
<div style="position:absolute;left:109px;top:1479.2142857142858px;width:33.5px;height:1px;background:#8a8a8a;"></div>
<div style="position:absolute;left:-23.5px;top:1481.8035714285716px;width:300px;height:18px;line-height:18px;text-align:center;white-space:nowrap;font-size:15.5px;font-weight:bold;color:#0e83d2;-webkit-text-stroke:0.5px #0e83d2;">25</div>
<div style="position:absolute;left:109px;top:1498.392857142857px;width:33.5px;height:1px;background:#8a8a8a;"></div>
<div style="position:absolute;left:-23.5px;top:1500.9821428571427px;width:300px;height:18px;line-height:18px;text-align:center;white-space:nowrap;font-size:15.5px;font-weight:bold;color:#0e83d2;-webkit-text-stroke:0.5px #0e83d2;">30</div>
<div style="position:absolute;left:109px;top:1517.5714285714284px;width:33.5px;height:1px;background:#8a8a8a;"></div>
<div style="position:absolute;left:-23.5px;top:1520.1607142857142px;width:300px;height:18px;line-height:18px;text-align:center;white-space:nowrap;font-size:15.5px;font-weight:bold;color:#0e83d2;-webkit-text-stroke:0.5px #0e83d2;">35</div>
<div style="position:absolute;left:159px;top:1403.0892857142858px;white-space:nowrap;font-size:10.5px;font-weight:bold;color:#222;line-height:12px;">+0.015</div>
<div style="position:absolute;left:165px;top:1410.0892857142858px;white-space:nowrap;font-size:10.5px;font-weight:bold;color:#222;line-height:12px;">0</div>
<div style="position:absolute;left:142.5px;top:1421.6785714285713px;width:60.0px;height:1px;background:#8a8a8a;"></div>
<div style="position:absolute;left:159px;top:1432.8571428571427px;white-space:nowrap;font-size:10.5px;font-weight:bold;color:#222;line-height:12px;">+0.018</div>
<div style="position:absolute;left:165px;top:1443.8571428571427px;white-space:nowrap;font-size:10.5px;font-weight:bold;color:#222;line-height:12px;">0</div>
<div style="position:absolute;left:142.5px;top:1460.0357142857142px;width:60.0px;height:1px;background:#8a8a8a;"></div>
<div style="position:absolute;left:159px;top:1478.8035714285713px;white-space:nowrap;font-size:10.5px;font-weight:bold;color:#222;line-height:12px;">+0.021</div>
<div style="position:absolute;left:165px;top:1489.8035714285713px;white-space:nowrap;font-size:10.5px;font-weight:bold;color:#222;line-height:12px;">0</div>
<div style="position:absolute;left:142.5px;top:1517.5714285714284px;width:60.0px;height:1px;background:#8a8a8a;"></div>
<div style="position:absolute;left:159px;top:1518.1607142857142px;white-space:nowrap;font-size:10.5px;font-weight:bold;color:#222;line-height:12px;">+0.025</div>
<div style="position:absolute;left:165px;top:1525.1607142857142px;white-space:nowrap;font-size:10.5px;font-weight:bold;color:#222;line-height:12px;">0</div>
<div style="position:absolute;left:-93.5px;top:1448.125px;width:300px;height:19px;line-height:19px;text-align:center;white-space:nowrap;font-size:15px;font-weight:bold;color:#0e83d2;letter-spacing:-0.4px;-webkit-text-stroke:0.5px #0e83d2;">KZEXA</div>
<div style="position:absolute;left:-93.5px;top:1466.125px;width:300px;height:19px;line-height:19px;text-align:center;white-space:nowrap;font-size:15px;font-weight:bold;color:#0e83d2;letter-spacing:-0.4px;-webkit-text-stroke:0.5px #0e83d2;">KZEXB</div>
<div style="position:absolute;left:73.8665px;top:1403.8892857142857px;width:300px;height:19px;line-height:19px;text-align:center;white-space:nowrap;font-size:15.3px;color:#222;-webkit-text-stroke:0.6px #222;">11</div>
<div style="position:absolute;left:202.5px;top:1421.6785714285713px;width:42.733000000000004px;height:1px;background:#8a8a8a;"></div>
<div style="position:absolute;left:73.8665px;top:1423.067857142857px;width:300px;height:19px;line-height:19px;text-align:center;white-space:nowrap;font-size:15.3px;color:#222;-webkit-text-stroke:0.6px #222;">13</div>
<div style="position:absolute;left:202.5px;top:1440.857142857143px;width:42.733000000000004px;height:1px;background:#8a8a8a;"></div>
<div style="position:absolute;left:73.8665px;top:1442.2464285714284px;width:300px;height:19px;line-height:19px;text-align:center;white-space:nowrap;font-size:15.3px;color:#222;-webkit-text-stroke:0.6px #222;">17</div>
<div style="position:absolute;left:202.5px;top:1460.0357142857142px;width:42.733000000000004px;height:1px;background:#8a8a8a;"></div>
<div style="position:absolute;left:73.8665px;top:1461.425px;width:300px;height:19px;line-height:19px;text-align:center;white-space:nowrap;font-size:15.3px;color:#222;-webkit-text-stroke:0.6px #222;">20</div>
<div style="position:absolute;left:202.5px;top:1479.2142857142858px;width:42.733000000000004px;height:1px;background:#8a8a8a;"></div>
<div style="position:absolute;left:73.8665px;top:1480.6035714285715px;width:300px;height:19px;line-height:19px;text-align:center;white-space:nowrap;font-size:15.3px;color:#222;-webkit-text-stroke:0.6px #222;">23</div>
<div style="position:absolute;left:202.5px;top:1498.392857142857px;width:42.733000000000004px;height:1px;background:#8a8a8a;"></div>
<div style="position:absolute;left:73.8665px;top:1499.7821428571426px;width:300px;height:19px;line-height:19px;text-align:center;white-space:nowrap;font-size:15.3px;color:#222;-webkit-text-stroke:0.6px #222;">27</div>
<div style="position:absolute;left:202.5px;top:1517.5714285714284px;width:42.733000000000004px;height:1px;background:#8a8a8a;"></div>
<div style="position:absolute;left:73.8665px;top:1518.9607142857142px;width:300px;height:19px;line-height:19px;text-align:center;white-space:nowrap;font-size:15.3px;color:#222;-webkit-text-stroke:0.6px #222;">30</div>
<div style="position:absolute;left:116.59950000000003px;top:1403.8892857142857px;width:300px;height:19px;line-height:19px;text-align:center;white-space:nowrap;font-size:15.3px;color:#222;-webkit-text-stroke:0.6px #222;">31</div>
<div style="position:absolute;left:245.233px;top:1421.6785714285713px;width:42.733000000000004px;height:1px;background:#8a8a8a;"></div>
<div style="position:absolute;left:116.59950000000003px;top:1423.067857142857px;width:300px;height:19px;line-height:19px;text-align:center;white-space:nowrap;font-size:15.3px;color:#222;-webkit-text-stroke:0.6px #222;">34</div>
<div style="position:absolute;left:245.233px;top:1440.857142857143px;width:42.733000000000004px;height:1px;background:#8a8a8a;"></div>
<div style="position:absolute;left:116.59950000000003px;top:1442.2464285714284px;width:300px;height:19px;line-height:19px;text-align:center;white-space:nowrap;font-size:15.3px;color:#222;-webkit-text-stroke:0.6px #222;">45</div>
<div style="position:absolute;left:245.233px;top:1460.0357142857142px;width:42.733000000000004px;height:1px;background:#8a8a8a;"></div>
<div style="position:absolute;left:116.59950000000003px;top:1461.425px;width:300px;height:19px;line-height:19px;text-align:center;white-space:nowrap;font-size:15.3px;color:#222;-webkit-text-stroke:0.6px #222;">52</div>
<div style="position:absolute;left:245.233px;top:1479.2142857142858px;width:42.733000000000004px;height:1px;background:#8a8a8a;"></div>
<div style="position:absolute;left:116.59950000000003px;top:1480.6035714285715px;width:300px;height:19px;line-height:19px;text-align:center;white-space:nowrap;font-size:15.3px;color:#222;-webkit-text-stroke:0.6px #222;">58</div>
<div style="position:absolute;left:245.233px;top:1498.392857142857px;width:42.733000000000004px;height:1px;background:#8a8a8a;"></div>
<div style="position:absolute;left:116.59950000000003px;top:1499.7821428571426px;width:300px;height:19px;line-height:19px;text-align:center;white-space:nowrap;font-size:15.3px;color:#222;-webkit-text-stroke:0.6px #222;">66</div>
<div style="position:absolute;left:245.233px;top:1517.5714285714284px;width:42.733000000000004px;height:1px;background:#8a8a8a;"></div>
<div style="position:absolute;left:116.59950000000003px;top:1518.9607142857142px;width:300px;height:19px;line-height:19px;text-align:center;white-space:nowrap;font-size:15.3px;color:#222;-webkit-text-stroke:0.6px #222;">72</div>
<div style="position:absolute;left:159.33249999999998px;top:1413.4785714285715px;width:300px;height:19px;line-height:19px;text-align:center;white-space:nowrap;font-size:15.3px;color:#222;-webkit-text-stroke:0.6px #222;">16</div>
<div style="position:absolute;left:287.966px;top:1440.857142857143px;width:42.73299999999995px;height:1px;background:#8a8a8a;"></div>
<div style="position:absolute;left:159.33249999999998px;top:1442.2464285714284px;width:300px;height:19px;line-height:19px;text-align:center;white-space:nowrap;font-size:15.3px;color:#222;-webkit-text-stroke:0.6px #222;">22</div>
<div style="position:absolute;left:287.966px;top:1460.0357142857142px;width:42.73299999999995px;height:1px;background:#8a8a8a;"></div>
<div style="position:absolute;left:159.33249999999998px;top:1461.425px;width:300px;height:19px;line-height:19px;text-align:center;white-space:nowrap;font-size:15.3px;color:#222;-webkit-text-stroke:0.6px #222;">28</div>
<div style="position:absolute;left:287.966px;top:1479.2142857142858px;width:42.73299999999995px;height:1px;background:#8a8a8a;"></div>
<div style="position:absolute;left:159.33249999999998px;top:1480.6035714285715px;width:300px;height:19px;line-height:19px;text-align:center;white-space:nowrap;font-size:15.3px;color:#222;-webkit-text-stroke:0.6px #222;">32</div>
<div style="position:absolute;left:287.966px;top:1498.392857142857px;width:42.73299999999995px;height:1px;background:#8a8a8a;"></div>
<div style="position:absolute;left:159.33249999999998px;top:1499.7821428571426px;width:300px;height:19px;line-height:19px;text-align:center;white-space:nowrap;font-size:15.3px;color:#222;-webkit-text-stroke:0.6px #222;">38</div>
<div style="position:absolute;left:287.966px;top:1517.5714285714284px;width:42.73299999999995px;height:1px;background:#8a8a8a;"></div>
<div style="position:absolute;left:159.33249999999998px;top:1518.9607142857142px;width:300px;height:19px;line-height:19px;text-align:center;white-space:nowrap;font-size:15.3px;color:#222;-webkit-text-stroke:0.6px #222;">45</div>
<div style="position:absolute;left:202.0655px;top:1413.4785714285715px;width:300px;height:19px;line-height:19px;text-align:center;white-space:nowrap;font-size:15.3px;color:#222;-webkit-text-stroke:0.6px #222;">9</div>
<div style="position:absolute;left:330.69899999999996px;top:1440.857142857143px;width:42.73300000000006px;height:1px;background:#8a8a8a;"></div>
<div style="position:absolute;left:202.0655px;top:1442.2464285714284px;width:300px;height:19px;line-height:19px;text-align:center;white-space:nowrap;font-size:15.3px;color:#222;-webkit-text-stroke:0.6px #222;">12</div>
<div style="position:absolute;left:330.69899999999996px;top:1460.0357142857142px;width:42.73300000000006px;height:1px;background:#8a8a8a;"></div>
<div style="position:absolute;left:202.0655px;top:1461.425px;width:300px;height:19px;line-height:19px;text-align:center;white-space:nowrap;font-size:15.3px;color:#222;-webkit-text-stroke:0.6px #222;">16</div>
<div style="position:absolute;left:330.69899999999996px;top:1479.2142857142858px;width:42.73300000000006px;height:1px;background:#8a8a8a;"></div>
<div style="position:absolute;left:202.0655px;top:1490.192857142857px;width:300px;height:19px;line-height:19px;text-align:center;white-space:nowrap;font-size:15.3px;color:#222;-webkit-text-stroke:0.6px #222;">19</div>
<div style="position:absolute;left:330.69899999999996px;top:1517.5714285714284px;width:42.73300000000006px;height:1px;background:#8a8a8a;"></div>
<div style="position:absolute;left:202.0655px;top:1518.9607142857142px;width:300px;height:19px;line-height:19px;text-align:center;white-space:nowrap;font-size:15.3px;color:#222;-webkit-text-stroke:0.6px #222;">22</div>
<div style="position:absolute;left:244.7985px;top:1403.8892857142857px;width:300px;height:19px;line-height:19px;text-align:center;white-space:nowrap;font-size:15.3px;color:#222;-webkit-text-stroke:0.6px #222;">15</div>
<div style="position:absolute;left:373.432px;top:1421.6785714285713px;width:42.73299999999995px;height:1px;background:#8a8a8a;"></div>
<div style="position:absolute;left:244.7985px;top:1423.067857142857px;width:300px;height:19px;line-height:19px;text-align:center;white-space:nowrap;font-size:15.3px;color:#222;-webkit-text-stroke:0.6px #222;">16</div>
<div style="position:absolute;left:373.432px;top:1440.857142857143px;width:42.73299999999995px;height:1px;background:#8a8a8a;"></div>
<div style="position:absolute;left:244.7985px;top:1442.2464285714284px;width:300px;height:19px;line-height:19px;text-align:center;white-space:nowrap;font-size:15.3px;color:#222;-webkit-text-stroke:0.6px #222;">20</div>
<div style="position:absolute;left:373.432px;top:1460.0357142857142px;width:42.73299999999995px;height:1px;background:#8a8a8a;"></div>
<div style="position:absolute;left:244.7985px;top:1461.425px;width:300px;height:19px;line-height:19px;text-align:center;white-space:nowrap;font-size:15.3px;color:#222;-webkit-text-stroke:0.6px #222;">22</div>
<div style="position:absolute;left:373.432px;top:1479.2142857142858px;width:42.73299999999995px;height:1px;background:#8a8a8a;"></div>
<div style="position:absolute;left:244.7985px;top:1480.6035714285715px;width:300px;height:19px;line-height:19px;text-align:center;white-space:nowrap;font-size:15.3px;color:#222;-webkit-text-stroke:0.6px #222;">25</div>
<div style="position:absolute;left:373.432px;top:1498.392857142857px;width:42.73299999999995px;height:1px;background:#8a8a8a;"></div>
<div style="position:absolute;left:244.7985px;top:1499.7821428571426px;width:300px;height:19px;line-height:19px;text-align:center;white-space:nowrap;font-size:15.3px;color:#222;-webkit-text-stroke:0.6px #222;">29</div>
<div style="position:absolute;left:373.432px;top:1517.5714285714284px;width:42.73299999999995px;height:1px;background:#8a8a8a;"></div>
<div style="position:absolute;left:244.7985px;top:1518.9607142857142px;width:300px;height:19px;line-height:19px;text-align:center;white-space:nowrap;font-size:15.3px;color:#222;-webkit-text-stroke:0.6px #222;">32</div>
<div style="position:absolute;left:287.53149999999994px;top:1413.4785714285715px;width:300px;height:19px;line-height:19px;text-align:center;white-space:nowrap;font-size:15.3px;color:#222;-webkit-text-stroke:0.6px #222;">5</div>
<div style="position:absolute;left:416.16499999999996px;top:1440.857142857143px;width:42.733000000000004px;height:1px;background:#8a8a8a;"></div>
<div style="position:absolute;left:287.53149999999994px;top:1442.2464285714284px;width:300px;height:19px;line-height:19px;text-align:center;white-space:nowrap;font-size:15.3px;color:#222;-webkit-text-stroke:0.6px #222;">8</div>
<div style="position:absolute;left:416.16499999999996px;top:1460.0357142857142px;width:42.733000000000004px;height:1px;background:#8a8a8a;"></div>
<div style="position:absolute;left:287.53149999999994px;top:1490.192857142857px;width:300px;height:19px;line-height:19px;text-align:center;white-space:nowrap;font-size:15.3px;color:#222;-webkit-text-stroke:0.6px #222;">10</div>
<div style="position:absolute;left:330.2645px;top:1403.8892857142857px;width:300px;height:19px;line-height:19px;text-align:center;white-space:nowrap;font-size:15.3px;color:#222;-webkit-text-stroke:0.6px #222;">9</div>
<div style="position:absolute;left:458.89799999999997px;top:1421.6785714285713px;width:42.733000000000004px;height:1px;background:#8a8a8a;"></div>
<div style="position:absolute;left:330.2645px;top:1423.067857142857px;width:300px;height:19px;line-height:19px;text-align:center;white-space:nowrap;font-size:15.3px;color:#222;-webkit-text-stroke:0.6px #222;">10</div>
<div style="position:absolute;left:458.89799999999997px;top:1440.857142857143px;width:42.733000000000004px;height:1px;background:#8a8a8a;"></div>
<div style="position:absolute;left:330.2645px;top:1442.2464285714284px;width:300px;height:19px;line-height:19px;text-align:center;white-space:nowrap;font-size:15.3px;color:#222;-webkit-text-stroke:0.6px #222;">12</div>
<div style="position:absolute;left:458.89799999999997px;top:1460.0357142857142px;width:42.733000000000004px;height:1px;background:#8a8a8a;"></div>
<div style="position:absolute;left:330.2645px;top:1461.425px;width:300px;height:19px;line-height:19px;text-align:center;white-space:nowrap;font-size:15.3px;color:#222;-webkit-text-stroke:0.6px #222;">15</div>
<div style="position:absolute;left:458.89799999999997px;top:1479.2142857142858px;width:42.733000000000004px;height:1px;background:#8a8a8a;"></div>
<div style="position:absolute;left:330.2645px;top:1480.6035714285715px;width:300px;height:19px;line-height:19px;text-align:center;white-space:nowrap;font-size:15.3px;color:#222;-webkit-text-stroke:0.6px #222;">18</div>
<div style="position:absolute;left:458.89799999999997px;top:1498.392857142857px;width:42.733000000000004px;height:1px;background:#8a8a8a;"></div>
<div style="position:absolute;left:330.2645px;top:1499.7821428571426px;width:300px;height:19px;line-height:19px;text-align:center;white-space:nowrap;font-size:15.3px;color:#222;-webkit-text-stroke:0.6px #222;">21</div>
<div style="position:absolute;left:458.89799999999997px;top:1517.5714285714284px;width:42.733000000000004px;height:1px;background:#8a8a8a;"></div>
<div style="position:absolute;left:330.2645px;top:1518.9607142857142px;width:300px;height:19px;line-height:19px;text-align:center;white-space:nowrap;font-size:15.3px;color:#222;-webkit-text-stroke:0.6px #222;">24</div>
<div style="position:absolute;left:372.99749999999995px;top:1413.4785714285715px;width:300px;height:19px;line-height:19px;text-align:center;white-space:nowrap;font-size:15.3px;color:#222;-webkit-text-stroke:0.6px #222;">8</div>
<div style="position:absolute;left:501.631px;top:1440.857142857143px;width:42.73300000000006px;height:1px;background:#8a8a8a;"></div>
<div style="position:absolute;left:372.99749999999995px;top:1442.2464285714284px;width:300px;height:19px;line-height:19px;text-align:center;white-space:nowrap;font-size:15.3px;color:#222;-webkit-text-stroke:0.6px #222;">12</div>
<div style="position:absolute;left:501.631px;top:1460.0357142857142px;width:42.73300000000006px;height:1px;background:#8a8a8a;"></div>
<div style="position:absolute;left:372.99749999999995px;top:1461.425px;width:300px;height:19px;line-height:19px;text-align:center;white-space:nowrap;font-size:15.3px;color:#222;-webkit-text-stroke:0.6px #222;">16</div>
<div style="position:absolute;left:501.631px;top:1479.2142857142858px;width:42.73300000000006px;height:1px;background:#8a8a8a;"></div>
<div style="position:absolute;left:372.99749999999995px;top:1480.6035714285715px;width:300px;height:19px;line-height:19px;text-align:center;white-space:nowrap;font-size:15.3px;color:#222;-webkit-text-stroke:0.6px #222;">20</div>
<div style="position:absolute;left:501.631px;top:1498.392857142857px;width:42.73300000000006px;height:1px;background:#8a8a8a;"></div>
<div style="position:absolute;left:372.99749999999995px;top:1499.7821428571426px;width:300px;height:19px;line-height:19px;text-align:center;white-space:nowrap;font-size:15.3px;color:#222;-webkit-text-stroke:0.6px #222;">25</div>
<div style="position:absolute;left:501.631px;top:1517.5714285714284px;width:42.73300000000006px;height:1px;background:#8a8a8a;"></div>
<div style="position:absolute;left:372.99749999999995px;top:1518.9607142857142px;width:300px;height:19px;line-height:19px;text-align:center;white-space:nowrap;font-size:15.3px;color:#222;-webkit-text-stroke:0.6px #222;">28</div>
<div style="position:absolute;left:415.7305px;top:1413.4785714285715px;width:300px;height:19px;line-height:19px;text-align:center;white-space:nowrap;font-size:15.3px;color:#222;-webkit-text-stroke:0.6px #222;">M4</div>
<div style="position:absolute;left:544.364px;top:1440.857142857143px;width:42.73299999999995px;height:1px;background:#8a8a8a;"></div>
<div style="position:absolute;left:415.7305px;top:1442.2464285714284px;width:300px;height:19px;line-height:19px;text-align:center;white-space:nowrap;font-size:15.3px;color:#222;-webkit-text-stroke:0.6px #222;">M5</div>
<div style="position:absolute;left:544.364px;top:1460.0357142857142px;width:42.73299999999995px;height:1px;background:#8a8a8a;"></div>
<div style="position:absolute;left:415.7305px;top:1471.0142857142857px;width:300px;height:19px;line-height:19px;text-align:center;white-space:nowrap;font-size:15.3px;color:#222;-webkit-text-stroke:0.6px #222;">M6</div>
<div style="position:absolute;left:544.364px;top:1498.392857142857px;width:42.73299999999995px;height:1px;background:#8a8a8a;"></div>
<div style="position:absolute;left:415.7305px;top:1509.3714285714284px;width:300px;height:19px;line-height:19px;text-align:center;white-space:nowrap;font-size:15.3px;color:#222;-webkit-text-stroke:0.6px #222;">M8</div>
<div style="position:absolute;left:458.46349999999995px;top:1423.067857142857px;width:300px;height:19px;line-height:19px;text-align:center;white-space:nowrap;font-size:15.3px;color:#222;-webkit-text-stroke:0.6px #222;">M5</div>
<div style="position:absolute;left:587.097px;top:1460.0357142857142px;width:42.73299999999995px;height:1px;background:#8a8a8a;"></div>
<div style="position:absolute;left:458.46349999999995px;top:1480.6035714285713px;width:300px;height:19px;line-height:19px;text-align:center;white-space:nowrap;font-size:15.3px;color:#222;-webkit-text-stroke:0.6px #222;">M6</div>
<div style="position:absolute;left:587.097px;top:1517.5714285714284px;width:42.73299999999995px;height:1px;background:#8a8a8a;"></div>
<div style="position:absolute;left:458.46349999999995px;top:1518.9607142857142px;width:300px;height:19px;line-height:19px;text-align:center;white-space:nowrap;font-size:15.3px;color:#222;-webkit-text-stroke:0.6px #222;">M8</div>
<div style="position:absolute;left:640.8299999999999px;top:1423.067857142857px;white-space:nowrap;font-size:15.3px;color:#222;-webkit-text-stroke:0.6px #222;line-height:19px;">5.5</div>
<div style="position:absolute;left:629.8299999999999px;top:1460.0357142857142px;width:42.73300000000006px;height:1px;background:#8a8a8a;"></div>
<div style="position:absolute;left:640.8299999999999px;top:1480.6035714285713px;white-space:nowrap;font-size:15.3px;color:#222;-webkit-text-stroke:0.6px #222;line-height:19px;">6.6</div>
<div style="position:absolute;left:629.8299999999999px;top:1517.5714285714284px;width:42.73300000000006px;height:1px;background:#8a8a8a;"></div>
<div style="position:absolute;left:640.8299999999999px;top:1518.9607142857142px;white-space:nowrap;font-size:15.3px;color:#222;-webkit-text-stroke:0.6px #222;line-height:19px;">9</div>
<div style="position:absolute;left:543.9295px;top:1461.425px;width:300px;height:19px;line-height:19px;text-align:center;white-space:nowrap;font-size:15.3px;color:#222;-webkit-text-stroke:0.6px #222;">2</div>
<div style="position:absolute;left:586.6624999999999px;top:1451.8357142857142px;width:300px;height:19px;line-height:19px;text-align:center;white-space:nowrap;font-size:15.3px;color:#222;-webkit-text-stroke:0.6px #222;">34.5</div>
<div style="position:absolute;left:715.2959999999999px;top:1517.5714285714284px;width:42.73300000000006px;height:1px;background:#8a8a8a;"></div>
<div style="position:absolute;left:586.6624999999999px;top:1518.9607142857142px;width:300px;height:19px;line-height:19px;text-align:center;white-space:nowrap;font-size:15.3px;color:#222;-webkit-text-stroke:0.6px #222;">44.8</div>
<div style="position:absolute;left:629.3955px;top:1451.8357142857142px;width:300px;height:19px;line-height:19px;text-align:center;white-space:nowrap;font-size:15.3px;color:#222;-webkit-text-stroke:0.6px #222;">37.5</div>
<div style="position:absolute;left:758.029px;top:1517.5714285714284px;width:42.73299999999995px;height:1px;background:#8a8a8a;"></div>
<div style="position:absolute;left:629.3955px;top:1518.9607142857142px;width:300px;height:19px;line-height:19px;text-align:center;white-space:nowrap;font-size:15.3px;color:#222;-webkit-text-stroke:0.6px #222;">48.8</div>
<div style="position:absolute;left:807.762px;top:1451.8357142857142px;white-space:nowrap;font-size:15.3px;color:#222;-webkit-text-stroke:0.6px #222;line-height:19px;">45</div>
<div style="position:absolute;left:800.762px;top:1517.5714285714284px;width:42.73300000000006px;height:1px;background:#8a8a8a;"></div>
<div style="position:absolute;left:807.762px;top:1518.9607142857142px;white-space:nowrap;font-size:15.3px;color:#222;-webkit-text-stroke:0.6px #222;line-height:19px;">62.5</div>
<div style="position:absolute;left:848.495px;top:1403.8892857142857px;white-space:nowrap;font-size:14.8px;color:#222;-webkit-text-stroke:0.5px #222;line-height:19px;">SADCF36-M5-L16-J</div>
<div style="position:absolute;left:843.495px;top:1421.6785714285713px;width:144.505px;height:1px;background:#8a8a8a;"></div>
<div style="position:absolute;left:848.495px;top:1423.067857142857px;white-space:nowrap;font-size:14.8px;color:#222;-webkit-text-stroke:0.5px #222;line-height:19px;">SADCF36-M5-L16-J</div>
<div style="position:absolute;left:843.495px;top:1440.857142857143px;width:144.505px;height:1px;background:#8a8a8a;"></div>
<div style="position:absolute;left:848.495px;top:1442.2464285714284px;white-space:nowrap;font-size:14.8px;color:#222;-webkit-text-stroke:0.5px #222;line-height:19px;">SADCF36-M5-L20-J</div>
<div style="position:absolute;left:843.495px;top:1460.0357142857142px;width:144.505px;height:1px;background:#8a8a8a;"></div>
<div style="position:absolute;left:848.495px;top:1461.425px;white-space:nowrap;font-size:14.8px;color:#222;-webkit-text-stroke:0.5px #222;line-height:19px;">SADCF36-M6-L25-J</div>
<div style="position:absolute;left:843.495px;top:1479.2142857142858px;width:144.505px;height:1px;background:#8a8a8a;"></div>
<div style="position:absolute;left:848.495px;top:1480.6035714285715px;white-space:nowrap;font-size:14.8px;color:#222;-webkit-text-stroke:0.5px #222;line-height:19px;">SADCF36-M6-L32-J</div>
<div style="position:absolute;left:843.495px;top:1498.392857142857px;width:144.505px;height:1px;background:#8a8a8a;"></div>
<div style="position:absolute;left:848.495px;top:1499.7821428571426px;white-space:nowrap;font-size:14.8px;color:#222;-webkit-text-stroke:0.5px #222;line-height:19px;">SADCF36-M6-L32-J</div>
<div style="position:absolute;left:843.495px;top:1517.5714285714284px;width:144.505px;height:1px;background:#8a8a8a;"></div>
<div style="position:absolute;left:848.495px;top:1518.9607142857142px;white-space:nowrap;font-size:14.8px;color:#222;-webkit-text-stroke:0.5px #222;line-height:19px;">SADCF36-M8-L40-J</div>
<div style="position:absolute;left:5px;top:1364.0px;width:983px;height:2px;background:#222;"></div>
<div style="position:absolute;left:5px;top:1402.0px;width:983px;height:2px;background:#222;"></div>
<div style="position:absolute;left:5px;top:1536.25px;width:983px;height:2px;background:#222;"></div>
<svg style="position:absolute;left:0;top:0" width="1000" height="1564">
<line x1="74.6" y1="525.5" x2="172.0" y2="525.5" stroke="#2a2a2a" stroke-width="0.8"/>
<polygon points="74.6,525.5 82.6,523.3 82.6,527.7" fill="#2a2a2a"/>
<polygon points="172.0,525.5 164.0,527.7 164.0,523.3" fill="#2a2a2a"/>
<text x="121.0" y="518.5" font-family="Liberation Sans" font-size="14" font-weight="bold" fill="#2a2a2a" text-anchor="middle" dominant-baseline="central">R</text>
<line x1="74.6" y1="520.0" x2="74.6" y2="546.0" stroke="#2a2a2a" stroke-width="0.8"/>
<line x1="172.0" y1="520.0" x2="172.0" y2="610.0" stroke="#2a2a2a" stroke-width="0.8"/>
<line x1="40.0" y1="537.0" x2="76.0" y2="537.0" stroke="#2a2a2a" stroke-width="0.8"/>
<line x1="76.0" y1="537.0" x2="105.0" y2="545.0" stroke="#2a2a2a" stroke-width="0.8"/>
<line x1="56.0" y1="545.6" x2="76.0" y2="545.6" stroke="#2a2a2a" stroke-width="0.8"/>
<line x1="43.6" y1="537.0" x2="43.6" y2="622.0" stroke="#2a2a2a" stroke-width="0.8"/>
<polygon points="43.6,537.0 45.6,544.0 41.6,544.0" fill="#2a2a2a"/>
<polygon points="43.6,622.0 41.6,615.0 45.6,615.0" fill="#2a2a2a"/>
<line x1="60.6" y1="545.6" x2="60.6" y2="622.0" stroke="#2a2a2a" stroke-width="0.8"/>
<polygon points="60.6,545.6 62.6,552.6 58.6,552.6" fill="#2a2a2a"/>
<polygon points="60.6,622.0 58.6,615.0 62.6,615.0" fill="#2a2a2a"/>
<text x="36.0" y="580.0" font-family="Liberation Sans" font-size="13" font-weight="bold" fill="#2a2a2a" text-anchor="middle" dominant-baseline="central" transform="rotate(-90 36.0 580.0)">H<tspan font-size="9" dy="1">2</tspan></text>
<text x="53.0" y="584.0" font-family="Liberation Sans" font-size="13" font-weight="bold" fill="#2a2a2a" text-anchor="middle" dominant-baseline="central" transform="rotate(-90 53.0 584.0)">H<tspan font-size="9" dy="1">1</tspan></text>
<line x1="40.0" y1="622.0" x2="151.0" y2="622.0" stroke="#2a2a2a" stroke-width="0.8"/>
<path d="M75,545 L163.6,569 C160,575 158.5,581 158,591 C150,588 140,583 134,581 L84,561 C78,558 75,552 75,545 Z" fill="#ebebeb" stroke="#2a2a2a" stroke-width="1"/>
<line x1="79.0" y1="549.0" x2="85.0" y2="557.0" stroke="#2a2a2a" stroke-width="0.7"/>
<line x1="85.0" y1="557.0" x2="134.0" y2="577.0" stroke="#2a2a2a" stroke-width="0.7"/>
<ellipse cx="173.2" cy="569.5" rx="9" ry="2.6" fill="#ebebeb" stroke="#2a2a2a" stroke-width="0.9"/>
<path d="M163.6,569 L186.4,574.4 L186.4,602.3 L157.6,602.3 L157.6,591 C158,580 160,574 163.6,569 Z" fill="#ebebeb" stroke="#2a2a2a" stroke-width="1"/>
<rect x="157.6" y="602.3" width="28.8" height="10" fill="#ebebeb" stroke="#2a2a2a" stroke-width="1"/>
<rect x="160" y="612.3" width="23.4" height="9.3" fill="#ebebeb" stroke="#2a2a2a" stroke-width="0.9"/>
<line x1="161.0" y1="570.0" x2="157.8" y2="589.0" stroke="#2a2a2a" stroke-width="0.8"/>
<rect x="151" y="621.6" width="102.5" height="71.1" fill="#ebebeb" stroke="#2a2a2a" stroke-width="1.3"/>
<path d="M150.3,653.6 L187.6,653.6 A13.5,13.5 0 1,1 187.6,660.8 L150.3,660.8 Z" fill="#fff" stroke="#2a2a2a" stroke-width="1.1"/>
<line x1="145.0" y1="657.2" x2="257.0" y2="657.2" stroke="#444" stroke-width="0.6" stroke-dasharray="10,2,2,2"/>
<line x1="172.2" y1="612.0" x2="172.2" y2="697.0" stroke="#444" stroke-width="0.6" stroke-dasharray="10,2,2,2"/>
<line x1="200.1" y1="643.0" x2="200.1" y2="671.0" stroke="#444" stroke-width="0.6"/>
<line x1="161.8" y1="622.0" x2="161.8" y2="692.0" stroke="#555" stroke-width="0.6" stroke-dasharray="2.5,1.5"/>
<line x1="164.6" y1="622.0" x2="164.6" y2="692.0" stroke="#555" stroke-width="0.6" stroke-dasharray="2.5,1.5"/>
<line x1="179.4" y1="622.0" x2="179.4" y2="692.0" stroke="#555" stroke-width="0.6" stroke-dasharray="2.5,1.5"/>
<line x1="182.6" y1="622.0" x2="182.6" y2="692.0" stroke="#555" stroke-width="0.6" stroke-dasharray="2.5,1.5"/>
<line x1="234.0" y1="633.7" x2="253.0" y2="633.7" stroke="#444" stroke-width="0.7" stroke-dasharray="2,1.6"/>
<line x1="234.0" y1="643.7" x2="253.0" y2="643.7" stroke="#444" stroke-width="0.7" stroke-dasharray="2,1.6"/>
<line x1="229.8" y1="638.7" x2="253.0" y2="638.7" stroke="#666" stroke-width="0.5"/>
<line x1="229.8" y1="638.7" x2="234.0" y2="633.7" stroke="#444" stroke-width="0.7"/>
<line x1="229.8" y1="638.7" x2="234.0" y2="643.7" stroke="#444" stroke-width="0.7"/>
<line x1="234.0" y1="633.7" x2="234.0" y2="643.7" stroke="#444" stroke-width="0.7" stroke-dasharray="2,1.5"/>
<line x1="234.0" y1="668.8" x2="253.0" y2="668.8" stroke="#444" stroke-width="0.7" stroke-dasharray="2,1.6"/>
<line x1="234.0" y1="678.8" x2="253.0" y2="678.8" stroke="#444" stroke-width="0.7" stroke-dasharray="2,1.6"/>
<line x1="229.8" y1="673.8" x2="253.0" y2="673.8" stroke="#666" stroke-width="0.5"/>
<line x1="229.8" y1="673.8" x2="234.0" y2="668.8" stroke="#444" stroke-width="0.7"/>
<line x1="229.8" y1="673.8" x2="234.0" y2="678.8" stroke="#444" stroke-width="0.7"/>
<line x1="234.0" y1="668.8" x2="234.0" y2="678.8" stroke="#444" stroke-width="0.7" stroke-dasharray="2,1.5"/>
<line x1="253.5" y1="638.7" x2="275.0" y2="638.7" stroke="#2a2a2a" stroke-width="0.7"/>
<line x1="253.5" y1="673.8" x2="275.0" y2="673.8" stroke="#2a2a2a" stroke-width="0.7"/>
<line x1="271.2" y1="638.7" x2="271.2" y2="673.8" stroke="#2a2a2a" stroke-width="0.8"/>
<polygon points="271.2,638.7 273.2,645.7 269.2,645.7" fill="#2a2a2a"/>
<polygon points="271.2,673.8 269.2,666.8 273.2,666.8" fill="#2a2a2a"/>
<line x1="253.5" y1="692.7" x2="290.0" y2="692.7" stroke="#2a2a2a" stroke-width="0.7"/>
<line x1="286.5" y1="621.6" x2="286.5" y2="692.7" stroke="#2a2a2a" stroke-width="0.8"/>
<polygon points="286.5,621.6 288.5,628.6 284.5,628.6" fill="#2a2a2a"/>
<polygon points="286.5,692.7 284.5,685.7 288.5,685.7" fill="#2a2a2a"/>
<text x="264.5" y="657.0" font-family="Liberation Sans" font-size="13" font-weight="bold" fill="#2a2a2a" text-anchor="middle" dominant-baseline="central" transform="rotate(-90 264.5 657.0)">N<tspan font-size="9" dy="1">1</tspan></text>
<text x="281.5" y="657.0" font-family="Liberation Sans" font-size="13" font-weight="bold" fill="#2a2a2a" text-anchor="middle" dominant-baseline="central" transform="rotate(-90 281.5 657.0)">B</text>
<line x1="131.0" y1="653.6" x2="151.0" y2="653.6" stroke="#2a2a2a" stroke-width="0.7"/>
<line x1="131.0" y1="660.8" x2="151.0" y2="660.8" stroke="#2a2a2a" stroke-width="0.7"/>
<line x1="133.5" y1="640.5" x2="133.5" y2="653.6" stroke="#2a2a2a" stroke-width="0.8"/>
<polygon points="133.5,653.6 131.7,647.6 135.3,647.6" fill="#2a2a2a"/>
<line x1="133.5" y1="660.8" x2="133.5" y2="670.0" stroke="#2a2a2a" stroke-width="0.8"/>
<polygon points="133.5,660.8 135.3,666.8 131.7,666.8" fill="#2a2a2a"/>
<text x="127.0" y="677.4" font-family="Liberation Sans" font-size="13" font-weight="bold" fill="#2a2a2a" text-anchor="middle" dominant-baseline="central" transform="rotate(-90 127.0 677.4)">W</text>
<line x1="182.0" y1="633.3" x2="204.8" y2="599.0" stroke="#2a2a2a" stroke-width="0.8"/>
<polygon points="182.0,633.3 184.4,626.5 187.4,628.5" fill="#2a2a2a"/>
<line x1="204.8" y1="599.0" x2="215.0" y2="599.0" stroke="#2a2a2a" stroke-width="0.7"/>
<text x="209.5" y="592.5" font-family="Liberation Sans" font-size="13" font-weight="bold" fill="#2a2a2a" text-anchor="middle" dominant-baseline="central">K</text>
<line x1="210.0" y1="642.3" x2="234.8" y2="599.0" stroke="#2a2a2a" stroke-width="0.8"/>
<polygon points="210.0,642.3 211.9,635.3 215.1,637.1" fill="#2a2a2a"/>
<line x1="234.8" y1="599.0" x2="258.0" y2="599.0" stroke="#2a2a2a" stroke-width="0.7"/>
<text x="228.0" y="592.5" font-family="Liberation Sans" font-size="14" font-weight="bold" fill="#a4287e" text-anchor="start" dominant-baseline="central">D</text>
<text x="238.5" y="594.0" font-family="Liberation Sans" font-size="9" font-weight="bold" fill="#2a2a2a" text-anchor="start" dominant-baseline="central">H7</text>
<polygon points="243,605.5 251,605.5 247,599.5" fill="none" stroke="#2a2a2a" stroke-width="0.6"/>
<line x1="234.8" y1="618.0" x2="247.0" y2="600.0" stroke="#2a2a2a" stroke-width="0.6"/>
<text x="247.5" y="611.5" font-family="Liberation Sans" font-size="8" font-weight="bold" fill="#2a2a2a" text-anchor="middle" dominant-baseline="central">1.6</text>
<line x1="162.3" y1="687.3" x2="149.7" y2="709.8" stroke="#2a2a2a" stroke-width="0.8"/>
<line x1="149.7" y1="709.8" x2="132.6" y2="709.8" stroke="#2a2a2a" stroke-width="0.7"/>
<polygon points="162.3,687.3 160.4,694.3 157.2,692.5" fill="#2a2a2a"/>
<text x="141.5" y="703.0" font-family="Liberation Sans" font-size="14" font-weight="bold" fill="#2a2a2a" text-anchor="middle" dominant-baseline="central">M</text>
<line x1="237.9" y1="681.0" x2="222.6" y2="711.6" stroke="#2a2a2a" stroke-width="0.8"/>
<line x1="222.6" y1="711.6" x2="188.4" y2="711.6" stroke="#2a2a2a" stroke-width="0.7"/>
<polygon points="237.9,681.0 236.3,688.1 233.1,686.4" fill="#2a2a2a"/>
<text x="205.0" y="705.0" font-family="Liberation Sans" font-size="14" font-weight="bold" fill="#2a2a2a" text-anchor="middle" dominant-baseline="central">4-M<tspan font-size="10" dy="2">1</tspan></text>
<line x1="413.8" y1="526.5" x2="511.2" y2="526.5" stroke="#2a2a2a" stroke-width="0.8"/>
<polygon points="413.8,526.5 421.8,524.3 421.8,528.7" fill="#2a2a2a"/>
<polygon points="511.2,526.5 503.2,528.7 503.2,524.3" fill="#2a2a2a"/>
<text x="460.2" y="519.5" font-family="Liberation Sans" font-size="14" font-weight="bold" fill="#2a2a2a" text-anchor="middle" dominant-baseline="central">R</text>
<line x1="413.8" y1="521.0" x2="413.8" y2="547.0" stroke="#2a2a2a" stroke-width="0.8"/>
<line x1="511.2" y1="521.0" x2="511.2" y2="611.0" stroke="#2a2a2a" stroke-width="0.8"/>
<line x1="379.2" y1="538.0" x2="415.2" y2="538.0" stroke="#2a2a2a" stroke-width="0.8"/>
<line x1="415.2" y1="538.0" x2="444.2" y2="546.0" stroke="#2a2a2a" stroke-width="0.8"/>
<line x1="395.2" y1="546.6" x2="415.2" y2="546.6" stroke="#2a2a2a" stroke-width="0.8"/>
<line x1="382.8" y1="538.0" x2="382.8" y2="623.0" stroke="#2a2a2a" stroke-width="0.8"/>
<polygon points="382.8,538.0 384.8,545.0 380.8,545.0" fill="#2a2a2a"/>
<polygon points="382.8,623.0 380.8,616.0 384.8,616.0" fill="#2a2a2a"/>
<line x1="399.8" y1="546.6" x2="399.8" y2="623.0" stroke="#2a2a2a" stroke-width="0.8"/>
<polygon points="399.8,546.6 401.8,553.6 397.8,553.6" fill="#2a2a2a"/>
<polygon points="399.8,623.0 397.8,616.0 401.8,616.0" fill="#2a2a2a"/>
<text x="375.2" y="581.0" font-family="Liberation Sans" font-size="13" font-weight="bold" fill="#2a2a2a" text-anchor="middle" dominant-baseline="central" transform="rotate(-90 375.2 581.0)">H<tspan font-size="9" dy="1">2</tspan></text>
<text x="392.2" y="585.0" font-family="Liberation Sans" font-size="13" font-weight="bold" fill="#2a2a2a" text-anchor="middle" dominant-baseline="central" transform="rotate(-90 392.2 585.0)">H<tspan font-size="9" dy="1">1</tspan></text>
<line x1="379.2" y1="623.0" x2="490.2" y2="623.0" stroke="#2a2a2a" stroke-width="0.8"/>
<path d="M414.2,546 L502.79999999999995,570 C499.2,576 497.7,582 497.2,592 C489.2,589 479.2,584 473.2,582 L423.2,562 C417.2,559 414.2,553 414.2,546 Z" fill="#ebebeb" stroke="#2a2a2a" stroke-width="1"/>
<line x1="418.2" y1="550.0" x2="424.2" y2="558.0" stroke="#2a2a2a" stroke-width="0.7"/>
<line x1="424.2" y1="558.0" x2="473.2" y2="578.0" stroke="#2a2a2a" stroke-width="0.7"/>
<ellipse cx="512.4" cy="570.5" rx="9" ry="2.6" fill="#ebebeb" stroke="#2a2a2a" stroke-width="0.9"/>
<path d="M502.79999999999995,570 L525.6,575.4 L525.6,603.3 L496.79999999999995,603.3 L496.79999999999995,592 C497.2,581 499.2,575 502.79999999999995,570 Z" fill="#ebebeb" stroke="#2a2a2a" stroke-width="1"/>
<rect x="496.79999999999995" y="603.3" width="28.8" height="10" fill="#ebebeb" stroke="#2a2a2a" stroke-width="1"/>
<rect x="499.2" y="613.3" width="23.4" height="9.3" fill="#ebebeb" stroke="#2a2a2a" stroke-width="0.9"/>
<line x1="500.2" y1="571.0" x2="497.0" y2="590.0" stroke="#2a2a2a" stroke-width="0.8"/>
<rect x="490.2" y="622.6" width="102.5" height="71.1" fill="#ebebeb" stroke="#2a2a2a" stroke-width="1.3"/>
<path d="M489.5,654.6 L526.8,654.6 A13.5,13.5 0 1,1 526.8,661.8 L489.5,661.8 Z" fill="#fff" stroke="#2a2a2a" stroke-width="1.1"/>
<line x1="484.2" y1="658.2" x2="596.2" y2="658.2" stroke="#444" stroke-width="0.6" stroke-dasharray="10,2,2,2"/>
<line x1="511.4" y1="613.0" x2="511.4" y2="698.0" stroke="#444" stroke-width="0.6" stroke-dasharray="10,2,2,2"/>
<line x1="539.3" y1="644.0" x2="539.3" y2="672.0" stroke="#444" stroke-width="0.6"/>
<line x1="501.0" y1="623.0" x2="501.0" y2="693.0" stroke="#555" stroke-width="0.6" stroke-dasharray="2.5,1.5"/>
<line x1="503.8" y1="623.0" x2="503.8" y2="693.0" stroke="#555" stroke-width="0.6" stroke-dasharray="2.5,1.5"/>
<line x1="518.6" y1="623.0" x2="518.6" y2="693.0" stroke="#555" stroke-width="0.6" stroke-dasharray="2.5,1.5"/>
<line x1="521.8" y1="623.0" x2="521.8" y2="693.0" stroke="#555" stroke-width="0.6" stroke-dasharray="2.5,1.5"/>
<line x1="573.2" y1="634.7" x2="592.2" y2="634.7" stroke="#444" stroke-width="0.7" stroke-dasharray="2,1.6"/>
<line x1="573.2" y1="644.7" x2="592.2" y2="644.7" stroke="#444" stroke-width="0.7" stroke-dasharray="2,1.6"/>
<line x1="569.0" y1="639.7" x2="592.2" y2="639.7" stroke="#666" stroke-width="0.5"/>
<line x1="569.0" y1="639.7" x2="573.2" y2="634.7" stroke="#444" stroke-width="0.7"/>
<line x1="569.0" y1="639.7" x2="573.2" y2="644.7" stroke="#444" stroke-width="0.7"/>
<line x1="573.2" y1="634.7" x2="573.2" y2="644.7" stroke="#444" stroke-width="0.7" stroke-dasharray="2,1.5"/>
<line x1="573.2" y1="669.8" x2="592.2" y2="669.8" stroke="#444" stroke-width="0.7" stroke-dasharray="2,1.6"/>
<line x1="573.2" y1="679.8" x2="592.2" y2="679.8" stroke="#444" stroke-width="0.7" stroke-dasharray="2,1.6"/>
<line x1="569.0" y1="674.8" x2="592.2" y2="674.8" stroke="#666" stroke-width="0.5"/>
<line x1="569.0" y1="674.8" x2="573.2" y2="669.8" stroke="#444" stroke-width="0.7"/>
<line x1="569.0" y1="674.8" x2="573.2" y2="679.8" stroke="#444" stroke-width="0.7"/>
<line x1="573.2" y1="669.8" x2="573.2" y2="679.8" stroke="#444" stroke-width="0.7" stroke-dasharray="2,1.5"/>
<line x1="592.7" y1="639.7" x2="614.2" y2="639.7" stroke="#2a2a2a" stroke-width="0.7"/>
<line x1="592.7" y1="674.8" x2="614.2" y2="674.8" stroke="#2a2a2a" stroke-width="0.7"/>
<line x1="610.4" y1="639.7" x2="610.4" y2="674.8" stroke="#2a2a2a" stroke-width="0.8"/>
<polygon points="610.4,639.7 612.4,646.7 608.4,646.7" fill="#2a2a2a"/>
<polygon points="610.4,674.8 608.4,667.8 612.4,667.8" fill="#2a2a2a"/>
<line x1="592.7" y1="693.7" x2="629.2" y2="693.7" stroke="#2a2a2a" stroke-width="0.7"/>
<line x1="625.7" y1="622.6" x2="625.7" y2="693.7" stroke="#2a2a2a" stroke-width="0.8"/>
<polygon points="625.7,622.6 627.7,629.6 623.7,629.6" fill="#2a2a2a"/>
<polygon points="625.7,693.7 623.7,686.7 627.7,686.7" fill="#2a2a2a"/>
<text x="603.7" y="658.0" font-family="Liberation Sans" font-size="13" font-weight="bold" fill="#2a2a2a" text-anchor="middle" dominant-baseline="central" transform="rotate(-90 603.7 658.0)">N<tspan font-size="9" dy="1">1</tspan></text>
<text x="620.7" y="658.0" font-family="Liberation Sans" font-size="13" font-weight="bold" fill="#2a2a2a" text-anchor="middle" dominant-baseline="central" transform="rotate(-90 620.7 658.0)">B</text>
<line x1="470.2" y1="654.6" x2="490.2" y2="654.6" stroke="#2a2a2a" stroke-width="0.7"/>
<line x1="470.2" y1="661.8" x2="490.2" y2="661.8" stroke="#2a2a2a" stroke-width="0.7"/>
<line x1="472.7" y1="641.5" x2="472.7" y2="654.6" stroke="#2a2a2a" stroke-width="0.8"/>
<polygon points="472.7,654.6 470.9,648.6 474.5,648.6" fill="#2a2a2a"/>
<line x1="472.7" y1="661.8" x2="472.7" y2="671.0" stroke="#2a2a2a" stroke-width="0.8"/>
<polygon points="472.7,661.8 474.5,667.8 470.9,667.8" fill="#2a2a2a"/>
<text x="466.2" y="678.4" font-family="Liberation Sans" font-size="13" font-weight="bold" fill="#2a2a2a" text-anchor="middle" dominant-baseline="central" transform="rotate(-90 466.2 678.4)">W</text>
<line x1="521.2" y1="634.3" x2="544.0" y2="600.0" stroke="#2a2a2a" stroke-width="0.8"/>
<polygon points="521.2,634.3 523.6,627.5 526.6,629.5" fill="#2a2a2a"/>
<line x1="544.0" y1="600.0" x2="554.2" y2="600.0" stroke="#2a2a2a" stroke-width="0.7"/>
<text x="548.7" y="593.5" font-family="Liberation Sans" font-size="13" font-weight="bold" fill="#2a2a2a" text-anchor="middle" dominant-baseline="central">K</text>
<line x1="549.2" y1="643.3" x2="574.0" y2="600.0" stroke="#2a2a2a" stroke-width="0.8"/>
<polygon points="549.2,643.3 551.1,636.3 554.3,638.1" fill="#2a2a2a"/>
<line x1="574.0" y1="600.0" x2="597.2" y2="600.0" stroke="#2a2a2a" stroke-width="0.7"/>
<text x="567.2" y="593.5" font-family="Liberation Sans" font-size="14" font-weight="bold" fill="#a4287e" text-anchor="start" dominant-baseline="central">D</text>
<text x="577.7" y="595.0" font-family="Liberation Sans" font-size="9" font-weight="bold" fill="#2a2a2a" text-anchor="start" dominant-baseline="central">H7</text>
<polygon points="582.2,606.5 590.2,606.5 586.2,600.5" fill="none" stroke="#2a2a2a" stroke-width="0.6"/>
<line x1="574.0" y1="619.0" x2="586.2" y2="601.0" stroke="#2a2a2a" stroke-width="0.6"/>
<text x="586.7" y="612.5" font-family="Liberation Sans" font-size="8" font-weight="bold" fill="#2a2a2a" text-anchor="middle" dominant-baseline="central">1.6</text>
<line x1="501.5" y1="688.3" x2="488.9" y2="710.8" stroke="#2a2a2a" stroke-width="0.8"/>
<line x1="488.9" y1="710.8" x2="471.8" y2="710.8" stroke="#2a2a2a" stroke-width="0.7"/>
<polygon points="501.5,688.3 499.6,695.3 496.4,693.5" fill="#2a2a2a"/>
<text x="480.7" y="704.0" font-family="Liberation Sans" font-size="14" font-weight="bold" fill="#2a2a2a" text-anchor="middle" dominant-baseline="central">M</text>
<line x1="577.1" y1="682.0" x2="561.8" y2="712.6" stroke="#2a2a2a" stroke-width="0.8"/>
<line x1="561.8" y1="712.6" x2="527.6" y2="712.6" stroke="#2a2a2a" stroke-width="0.7"/>
<polygon points="577.1,682.0 575.5,689.1 572.3,687.4" fill="#2a2a2a"/>
<text x="544.2" y="706.0" font-family="Liberation Sans" font-size="14" font-weight="bold" fill="#2a2a2a" text-anchor="middle" dominant-baseline="central">2-M<tspan font-size="10" dy="2">1</tspan></text>
<line x1="740.9" y1="526.5" x2="838.3" y2="526.5" stroke="#2a2a2a" stroke-width="0.8"/>
<polygon points="740.9,526.5 748.9,524.3 748.9,528.7" fill="#2a2a2a"/>
<polygon points="838.3,526.5 830.3,528.7 830.3,524.3" fill="#2a2a2a"/>
<text x="787.3" y="519.5" font-family="Liberation Sans" font-size="14" font-weight="bold" fill="#2a2a2a" text-anchor="middle" dominant-baseline="central">R</text>
<line x1="740.9" y1="521.0" x2="740.9" y2="547.0" stroke="#2a2a2a" stroke-width="0.8"/>
<line x1="838.3" y1="521.0" x2="838.3" y2="611.0" stroke="#2a2a2a" stroke-width="0.8"/>
<line x1="706.3" y1="538.0" x2="742.3" y2="538.0" stroke="#2a2a2a" stroke-width="0.8"/>
<line x1="742.3" y1="538.0" x2="771.3" y2="546.0" stroke="#2a2a2a" stroke-width="0.8"/>
<line x1="722.3" y1="546.6" x2="742.3" y2="546.6" stroke="#2a2a2a" stroke-width="0.8"/>
<line x1="709.9" y1="538.0" x2="709.9" y2="623.0" stroke="#2a2a2a" stroke-width="0.8"/>
<polygon points="709.9,538.0 711.9,545.0 707.9,545.0" fill="#2a2a2a"/>
<polygon points="709.9,623.0 707.9,616.0 711.9,616.0" fill="#2a2a2a"/>
<line x1="726.9" y1="546.6" x2="726.9" y2="623.0" stroke="#2a2a2a" stroke-width="0.8"/>
<polygon points="726.9,546.6 728.9,553.6 724.9,553.6" fill="#2a2a2a"/>
<polygon points="726.9,623.0 724.9,616.0 728.9,616.0" fill="#2a2a2a"/>
<text x="702.3" y="581.0" font-family="Liberation Sans" font-size="13" font-weight="bold" fill="#2a2a2a" text-anchor="middle" dominant-baseline="central" transform="rotate(-90 702.3 581.0)">H<tspan font-size="9" dy="1">2</tspan></text>
<text x="719.3" y="585.0" font-family="Liberation Sans" font-size="13" font-weight="bold" fill="#2a2a2a" text-anchor="middle" dominant-baseline="central" transform="rotate(-90 719.3 585.0)">H<tspan font-size="9" dy="1">1</tspan></text>
<line x1="706.3" y1="623.0" x2="817.3" y2="623.0" stroke="#2a2a2a" stroke-width="0.8"/>
<path d="M741.3,546 L829.9,570 C826.3,576 824.8,582 824.3,592 C816.3,589 806.3,584 800.3,582 L750.3,562 C744.3,559 741.3,553 741.3,546 Z" fill="#ebebeb" stroke="#2a2a2a" stroke-width="1"/>
<line x1="745.3" y1="550.0" x2="751.3" y2="558.0" stroke="#2a2a2a" stroke-width="0.7"/>
<line x1="751.3" y1="558.0" x2="800.3" y2="578.0" stroke="#2a2a2a" stroke-width="0.7"/>
<ellipse cx="839.5" cy="570.5" rx="9" ry="2.6" fill="#ebebeb" stroke="#2a2a2a" stroke-width="0.9"/>
<path d="M829.9,570 L852.6999999999999,575.4 L852.6999999999999,603.3 L823.9,603.3 L823.9,592 C824.3,581 826.3,575 829.9,570 Z" fill="#ebebeb" stroke="#2a2a2a" stroke-width="1"/>
<rect x="823.9" y="603.3" width="28.8" height="10" fill="#ebebeb" stroke="#2a2a2a" stroke-width="1"/>
<rect x="826.3" y="613.3" width="23.4" height="9.3" fill="#ebebeb" stroke="#2a2a2a" stroke-width="0.9"/>
<line x1="827.3" y1="571.0" x2="824.1" y2="590.0" stroke="#2a2a2a" stroke-width="0.8"/>
<rect x="817.3" y="622.6" width="102.5" height="71.1" fill="#ebebeb" stroke="#2a2a2a" stroke-width="1.3"/>
<path d="M816.5999999999999,654.6 L853.9,654.6 A13.5,13.5 0 1,1 853.9,661.8 L816.5999999999999,661.8 Z" fill="#fff" stroke="#2a2a2a" stroke-width="1.1"/>
<line x1="811.3" y1="658.2" x2="923.3" y2="658.2" stroke="#444" stroke-width="0.6" stroke-dasharray="10,2,2,2"/>
<line x1="838.5" y1="613.0" x2="838.5" y2="698.0" stroke="#444" stroke-width="0.6" stroke-dasharray="10,2,2,2"/>
<line x1="866.4" y1="644.0" x2="866.4" y2="672.0" stroke="#444" stroke-width="0.6"/>
<line x1="828.1" y1="623.0" x2="828.1" y2="693.0" stroke="#555" stroke-width="0.6" stroke-dasharray="2.5,1.5"/>
<line x1="830.9" y1="623.0" x2="830.9" y2="693.0" stroke="#555" stroke-width="0.6" stroke-dasharray="2.5,1.5"/>
<line x1="845.7" y1="623.0" x2="845.7" y2="693.0" stroke="#555" stroke-width="0.6" stroke-dasharray="2.5,1.5"/>
<line x1="848.9" y1="623.0" x2="848.9" y2="693.0" stroke="#555" stroke-width="0.6" stroke-dasharray="2.5,1.5"/>
<circle cx="902.3" cy="639.6" r="5" fill="none" stroke="#2a2a2a" stroke-width="1"/>
<circle cx="902.3" cy="639.6" r="2" fill="none" stroke="#2a2a2a" stroke-width="0.8"/>
<line x1="895.3" y1="639.6" x2="909.3" y2="639.6" stroke="#666" stroke-width="0.5"/>
<line x1="902.3" y1="632.6" x2="902.3" y2="646.6" stroke="#666" stroke-width="0.5"/>
<circle cx="902.3" cy="675.3" r="5" fill="none" stroke="#2a2a2a" stroke-width="1"/>
<circle cx="902.3" cy="675.3" r="2" fill="none" stroke="#2a2a2a" stroke-width="0.8"/>
<line x1="895.3" y1="675.3" x2="909.3" y2="675.3" stroke="#666" stroke-width="0.5"/>
<line x1="902.3" y1="668.3" x2="902.3" y2="682.3" stroke="#666" stroke-width="0.5"/>
<line x1="919.8" y1="639.7" x2="941.3" y2="639.7" stroke="#2a2a2a" stroke-width="0.7"/>
<line x1="919.8" y1="674.8" x2="941.3" y2="674.8" stroke="#2a2a2a" stroke-width="0.7"/>
<line x1="937.5" y1="639.7" x2="937.5" y2="674.8" stroke="#2a2a2a" stroke-width="0.8"/>
<polygon points="937.5,639.7 939.5,646.7 935.5,646.7" fill="#2a2a2a"/>
<polygon points="937.5,674.8 935.5,667.8 939.5,667.8" fill="#2a2a2a"/>
<line x1="919.8" y1="693.7" x2="956.3" y2="693.7" stroke="#2a2a2a" stroke-width="0.7"/>
<line x1="952.8" y1="622.6" x2="952.8" y2="693.7" stroke="#2a2a2a" stroke-width="0.8"/>
<polygon points="952.8,622.6 954.8,629.6 950.8,629.6" fill="#2a2a2a"/>
<polygon points="952.8,693.7 950.8,686.7 954.8,686.7" fill="#2a2a2a"/>
<text x="930.8" y="658.0" font-family="Liberation Sans" font-size="13" font-weight="bold" fill="#2a2a2a" text-anchor="middle" dominant-baseline="central" transform="rotate(-90 930.8 658.0)">N<tspan font-size="9" dy="1">1</tspan></text>
<text x="947.8" y="658.0" font-family="Liberation Sans" font-size="13" font-weight="bold" fill="#2a2a2a" text-anchor="middle" dominant-baseline="central" transform="rotate(-90 947.8 658.0)">B</text>
<line x1="797.3" y1="654.6" x2="817.3" y2="654.6" stroke="#2a2a2a" stroke-width="0.7"/>
<line x1="797.3" y1="661.8" x2="817.3" y2="661.8" stroke="#2a2a2a" stroke-width="0.7"/>
<line x1="799.8" y1="641.5" x2="799.8" y2="654.6" stroke="#2a2a2a" stroke-width="0.8"/>
<polygon points="799.8,654.6 798.0,648.6 801.6,648.6" fill="#2a2a2a"/>
<line x1="799.8" y1="661.8" x2="799.8" y2="671.0" stroke="#2a2a2a" stroke-width="0.8"/>
<polygon points="799.8,661.8 801.6,667.8 798.0,667.8" fill="#2a2a2a"/>
<text x="793.3" y="678.4" font-family="Liberation Sans" font-size="13" font-weight="bold" fill="#2a2a2a" text-anchor="middle" dominant-baseline="central" transform="rotate(-90 793.3 678.4)">W</text>
<line x1="848.3" y1="634.3" x2="871.1" y2="600.0" stroke="#2a2a2a" stroke-width="0.8"/>
<polygon points="848.3,634.3 850.7,627.5 853.7,629.5" fill="#2a2a2a"/>
<line x1="871.1" y1="600.0" x2="881.3" y2="600.0" stroke="#2a2a2a" stroke-width="0.7"/>
<text x="875.8" y="593.5" font-family="Liberation Sans" font-size="13" font-weight="bold" fill="#2a2a2a" text-anchor="middle" dominant-baseline="central">K</text>
<line x1="876.3" y1="643.3" x2="901.1" y2="600.0" stroke="#2a2a2a" stroke-width="0.8"/>
<polygon points="876.3,643.3 878.2,636.3 881.4,638.1" fill="#2a2a2a"/>
<line x1="901.1" y1="600.0" x2="924.3" y2="600.0" stroke="#2a2a2a" stroke-width="0.7"/>
<text x="894.3" y="593.5" font-family="Liberation Sans" font-size="14" font-weight="bold" fill="#a4287e" text-anchor="start" dominant-baseline="central">D</text>
<text x="904.8" y="595.0" font-family="Liberation Sans" font-size="9" font-weight="bold" fill="#2a2a2a" text-anchor="start" dominant-baseline="central">H7</text>
<polygon points="909.3,606.5 917.3,606.5 913.3,600.5" fill="none" stroke="#2a2a2a" stroke-width="0.6"/>
<line x1="901.1" y1="619.0" x2="913.3" y2="601.0" stroke="#2a2a2a" stroke-width="0.6"/>
<text x="913.8" y="612.5" font-family="Liberation Sans" font-size="8" font-weight="bold" fill="#2a2a2a" text-anchor="middle" dominant-baseline="central">1.6</text>
<line x1="828.6" y1="688.3" x2="816.0" y2="710.8" stroke="#2a2a2a" stroke-width="0.8"/>
<line x1="816.0" y1="710.8" x2="798.9" y2="710.8" stroke="#2a2a2a" stroke-width="0.7"/>
<polygon points="828.6,688.3 826.7,695.3 823.5,693.5" fill="#2a2a2a"/>
<text x="807.8" y="704.0" font-family="Liberation Sans" font-size="14" font-weight="bold" fill="#2a2a2a" text-anchor="middle" dominant-baseline="central">M</text>
<line x1="904.2" y1="682.0" x2="888.9" y2="712.6" stroke="#2a2a2a" stroke-width="0.8"/>
<line x1="888.9" y1="712.6" x2="854.7" y2="712.6" stroke="#2a2a2a" stroke-width="0.7"/>
<polygon points="904.2,682.0 902.6,689.1 899.4,687.4" fill="#2a2a2a"/>
<text x="871.3" y="706.0" font-family="Liberation Sans" font-size="14" font-weight="bold" fill="#2a2a2a" text-anchor="middle" dominant-baseline="central">2-M<tspan font-size="10" dy="2">1</tspan></text>
<line x1="336.8" y1="528.0" x2="336.8" y2="870.0" stroke="#bbb" stroke-width="0.8" stroke-dasharray="2,2"/>
<line x1="668.5" y1="528.0" x2="668.5" y2="870.0" stroke="#bbb" stroke-width="0.8" stroke-dasharray="2,2"/>
<path d="M936.5,492 L951,492 L944,503 Z" fill="none" stroke="#333" stroke-width="0.8"/>
<path d="M944,503 L961,475" fill="none" stroke="#333" stroke-width="0.8"/>
<text x="942.5" y="486.5" font-family="Liberation Sans" font-size="8" font-weight="bold" fill="#2a2a2a" text-anchor="middle" dominant-baseline="central">6.3</text>
<path d="M83.9,797.8 L171.6,793.3 A14,14 0 0,1 171.6,821.3 L83.9,815.8 A9,9 0 0,1 83.9,797.8 Z" fill="#ebebeb" stroke="#2a2a2a" stroke-width="1"/>
<rect x="150.7" y="777.2" width="102.5" height="59.299999999999955" fill="#ebebeb" stroke="#2a2a2a" stroke-width="1.2"/>
<path d="M150.7,794.9 L171.6,793.3 A14,14 0 0,1 171.6,821.3 L150.7,819.9" fill="#ebebeb" stroke="#2a2a2a" stroke-width="1"/>
<circle cx="171.6" cy="807.3" r="8.4" fill="none" stroke="#2a2a2a" stroke-width="1"/>
<circle cx="171.6" cy="807.3" r="3.5" fill="none" stroke="#2a2a2a" stroke-width="0.9"/>
<line x1="143.7" y1="807.3" x2="253.2" y2="807.3" stroke="#444" stroke-width="0.6"/>
<line x1="171.6" y1="757.4" x2="171.6" y2="822.3" stroke="#444" stroke-width="0.6"/>
<line x1="199.7" y1="757.4" x2="199.7" y2="856.5" stroke="#2a2a2a" stroke-width="0.7"/>
<line x1="171.6" y1="760.4" x2="199.7" y2="760.4" stroke="#2a2a2a" stroke-width="0.8"/>
<polygon points="171.6,760.4 178.6,758.4 178.6,762.4" fill="#2a2a2a"/>
<polygon points="199.7,760.4 192.7,762.4 192.7,758.4" fill="#2a2a2a"/>
<text x="185.6" y="752.4" font-family="Liberation Sans" font-size="13" font-weight="bold" fill="#2a2a2a" text-anchor="middle" dominant-baseline="central">H</text>
<line x1="151.2" y1="777.2" x2="151.2" y2="836.5" stroke="#555" stroke-width="0.5" stroke-dasharray="2,2"/>
<line x1="186.0" y1="777.2" x2="186.0" y2="836.5" stroke="#555" stroke-width="0.6" stroke-dasharray="2.5,1.5"/>
<line x1="213.6" y1="777.2" x2="213.6" y2="836.5" stroke="#555" stroke-width="0.6" stroke-dasharray="2.5,1.5"/>
<line x1="234.5" y1="787.3" x2="253.0" y2="787.3" stroke="#444" stroke-width="0.7" stroke-dasharray="2,1.6"/>
<line x1="234.5" y1="797.3" x2="253.0" y2="797.3" stroke="#444" stroke-width="0.7" stroke-dasharray="2,1.6"/>
<line x1="230.4" y1="792.3" x2="253.0" y2="792.3" stroke="#666" stroke-width="0.5"/>
<line x1="230.4" y1="792.3" x2="234.5" y2="787.3" stroke="#2a2a2a" stroke-width="0.7"/>
<line x1="230.4" y1="792.3" x2="234.5" y2="797.3" stroke="#2a2a2a" stroke-width="0.7"/>
<line x1="234.5" y1="816.6" x2="253.0" y2="816.6" stroke="#444" stroke-width="0.7" stroke-dasharray="2,1.6"/>
<line x1="234.5" y1="826.6" x2="253.0" y2="826.6" stroke="#444" stroke-width="0.7" stroke-dasharray="2,1.6"/>
<line x1="230.4" y1="821.6" x2="253.0" y2="821.6" stroke="#666" stroke-width="0.5"/>
<line x1="230.4" y1="821.6" x2="234.5" y2="816.6" stroke="#2a2a2a" stroke-width="0.7"/>
<line x1="230.4" y1="821.6" x2="234.5" y2="826.6" stroke="#2a2a2a" stroke-width="0.7"/>
<line x1="237.1" y1="757.0" x2="237.1" y2="790.0" stroke="#2a2a2a" stroke-width="0.6"/>
<line x1="252.5" y1="757.0" x2="252.5" y2="777.0" stroke="#2a2a2a" stroke-width="0.6"/>
<line x1="225.6" y1="760.4" x2="266.4" y2="760.4" stroke="#2a2a2a" stroke-width="0.7"/>
<polygon points="237.1,760.4 230.1,762.2 230.1,758.6" fill="#2a2a2a"/>
<polygon points="252.5,760.4 259.5,758.6 259.5,762.2" fill="#2a2a2a"/>
<text x="243.0" y="752.8" font-family="Liberation Sans" font-size="13" font-weight="bold" fill="#2a2a2a" text-anchor="middle" dominant-baseline="central">M<tspan font-size="9" dy="2">1</tspan><tspan dy="-2">×2</tspan></text>
<line x1="253.2" y1="792.3" x2="273.6" y2="792.3" stroke="#2a2a2a" stroke-width="0.6"/>
<line x1="253.2" y1="821.6" x2="273.6" y2="821.6" stroke="#2a2a2a" stroke-width="0.6"/>
<line x1="271.2" y1="792.3" x2="271.2" y2="821.6" stroke="#2a2a2a" stroke-width="0.8"/>
<polygon points="271.2,792.3 273.2,799.3 269.2,799.3" fill="#2a2a2a"/>
<polygon points="271.2,821.6 269.2,814.6 273.2,814.6" fill="#2a2a2a"/>
<line x1="253.2" y1="777.2" x2="290.0" y2="777.2" stroke="#2a2a2a" stroke-width="0.6"/>
<line x1="253.2" y1="836.5" x2="290.0" y2="836.5" stroke="#2a2a2a" stroke-width="0.6"/>
<line x1="287.5" y1="777.2" x2="287.5" y2="836.5" stroke="#2a2a2a" stroke-width="0.8"/>
<polygon points="287.5,777.2 289.5,784.2 285.5,784.2" fill="#2a2a2a"/>
<polygon points="287.5,836.5 285.5,829.5 289.5,829.5" fill="#2a2a2a"/>
<text x="265.0" y="807.0" font-family="Liberation Sans" font-size="13" font-weight="bold" fill="#2a2a2a" text-anchor="middle" dominant-baseline="central" transform="rotate(-90 265.0 807.0)">N<tspan font-size="9" dy="1">1</tspan></text>
<text x="281.0" y="807.0" font-family="Liberation Sans" font-size="13" font-weight="bold" fill="#2a2a2a" text-anchor="middle" dominant-baseline="central" transform="rotate(-90 281.0 807.0)">B</text>
<line x1="150.7" y1="836.5" x2="150.7" y2="876.0" stroke="#2a2a2a" stroke-width="0.6"/>
<line x1="253.2" y1="836.5" x2="253.2" y2="876.0" stroke="#2a2a2a" stroke-width="0.6"/>
<line x1="150.7" y1="852.8" x2="199.7" y2="852.8" stroke="#2a2a2a" stroke-width="0.8"/>
<polygon points="150.7,852.8 157.7,850.8 157.7,854.8" fill="#2a2a2a"/>
<polygon points="199.7,852.8 192.7,854.8 192.7,850.8" fill="#2a2a2a"/>
<line x1="199.7" y1="852.8" x2="253.2" y2="852.8" stroke="#2a2a2a" stroke-width="0.8"/>
<polygon points="199.7,852.8 206.7,850.8 206.7,854.8" fill="#2a2a2a"/>
<polygon points="253.2,852.8 246.2,854.8 246.2,850.8" fill="#2a2a2a"/>
<line x1="150.7" y1="871.5" x2="253.2" y2="871.5" stroke="#2a2a2a" stroke-width="0.8"/>
<polygon points="150.7,871.5 157.7,869.5 157.7,873.5" fill="#2a2a2a"/>
<polygon points="253.2,871.5 246.2,873.5 246.2,869.5" fill="#2a2a2a"/>
<text x="177.0" y="846.5" font-family="Liberation Sans" font-size="14" font-weight="bold" fill="#2a2a2a" text-anchor="middle" dominant-baseline="central">E</text>
<text x="228.3" y="846.5" font-family="Liberation Sans" font-size="14" font-weight="bold" fill="#2a2a2a" text-anchor="middle" dominant-baseline="central">P</text>
<text x="202.4" y="865.0" font-family="Liberation Sans" font-size="14" font-weight="bold" fill="#2a2a2a" text-anchor="middle" dominant-baseline="central">A</text>
<path d="M422,797.8 L512,793.3 A14,14 0 0,1 512,821.3 L422,815.8 A9,9 0 0,1 422,797.8 Z" fill="#ebebeb" stroke="#2a2a2a" stroke-width="1"/>
<rect x="489.9" y="785.6" width="102.10000000000002" height="43.19999999999993" fill="#ebebeb" stroke="#2a2a2a" stroke-width="1.2"/>
<path d="M489.9,794.9 L512,793.3 A14,14 0 0,1 512,821.3 L489.9,819.9" fill="#ebebeb" stroke="#2a2a2a" stroke-width="1"/>
<circle cx="512" cy="807.3" r="8.4" fill="none" stroke="#2a2a2a" stroke-width="1"/>
<circle cx="512" cy="807.3" r="3.5" fill="none" stroke="#2a2a2a" stroke-width="0.9"/>
<line x1="482.9" y1="807.3" x2="592.0" y2="807.3" stroke="#444" stroke-width="0.6"/>
<line x1="512.0" y1="764.6" x2="512.0" y2="822.3" stroke="#444" stroke-width="0.6"/>
<line x1="539.2" y1="764.6" x2="539.2" y2="848.8" stroke="#2a2a2a" stroke-width="0.7"/>
<line x1="512.0" y1="767.6" x2="539.2" y2="767.6" stroke="#2a2a2a" stroke-width="0.8"/>
<polygon points="512.0,767.6 519.0,765.6 519.0,769.6" fill="#2a2a2a"/>
<polygon points="539.2,767.6 532.2,769.6 532.2,765.6" fill="#2a2a2a"/>
<text x="525.6" y="759.6" font-family="Liberation Sans" font-size="13" font-weight="bold" fill="#2a2a2a" text-anchor="middle" dominant-baseline="central">H</text>
<line x1="490.4" y1="785.6" x2="490.4" y2="828.8" stroke="#555" stroke-width="0.5" stroke-dasharray="2,2"/>
<line x1="525.6" y1="785.6" x2="525.6" y2="828.8" stroke="#555" stroke-width="0.6" stroke-dasharray="2.5,1.5"/>
<line x1="552.8" y1="785.6" x2="552.8" y2="828.8" stroke="#555" stroke-width="0.6" stroke-dasharray="2.5,1.5"/>
<line x1="574.5" y1="802.3" x2="592.0" y2="802.3" stroke="#444" stroke-width="0.7" stroke-dasharray="2,1.6"/>
<line x1="574.5" y1="812.3" x2="592.0" y2="812.3" stroke="#444" stroke-width="0.7" stroke-dasharray="2,1.6"/>
<line x1="569.8" y1="807.3" x2="574.5" y2="802.3" stroke="#2a2a2a" stroke-width="0.7"/>
<line x1="569.8" y1="807.3" x2="574.5" y2="812.3" stroke="#2a2a2a" stroke-width="0.7"/>
<line x1="575.6" y1="764.0" x2="575.6" y2="800.0" stroke="#2a2a2a" stroke-width="0.6"/>
<line x1="592.0" y1="764.0" x2="592.0" y2="785.6" stroke="#2a2a2a" stroke-width="0.6"/>
<line x1="562.0" y1="767.6" x2="605.0" y2="767.6" stroke="#2a2a2a" stroke-width="0.7"/>
<polygon points="575.6,767.6 568.6,769.4 568.6,765.8" fill="#2a2a2a"/>
<polygon points="592.0,767.6 599.0,765.8 599.0,769.4" fill="#2a2a2a"/>
<text x="584.0" y="756.5" font-family="Liberation Sans" font-size="13" font-weight="bold" fill="#2a2a2a" text-anchor="middle" dominant-baseline="central">M<tspan font-size="9" dy="2">1</tspan><tspan dy="-2">×2</tspan></text>
<line x1="592.0" y1="785.6" x2="615.0" y2="785.6" stroke="#2a2a2a" stroke-width="0.6"/>
<line x1="592.0" y1="828.8" x2="615.0" y2="828.8" stroke="#2a2a2a" stroke-width="0.6"/>
<line x1="611.6" y1="785.6" x2="611.6" y2="828.8" stroke="#2a2a2a" stroke-width="0.8"/>
<polygon points="611.6,785.6 613.6,792.6 609.6,792.6" fill="#2a2a2a"/>
<polygon points="611.6,828.8 609.6,821.8 613.6,821.8" fill="#2a2a2a"/>
<text x="605.0" y="807.0" font-family="Liberation Sans" font-size="13" font-weight="bold" fill="#2a2a2a" text-anchor="middle" dominant-baseline="central" transform="rotate(-90 605.0 807.0)">C<tspan font-size="9" dy="1">1</tspan></text>
<line x1="489.9" y1="828.8" x2="489.9" y2="868.0" stroke="#2a2a2a" stroke-width="0.6"/>
<line x1="592.0" y1="828.8" x2="592.0" y2="868.0" stroke="#2a2a2a" stroke-width="0.6"/>
<line x1="489.9" y1="848.2" x2="539.2" y2="848.2" stroke="#2a2a2a" stroke-width="0.8"/>
<polygon points="489.9,848.2 496.9,846.2 496.9,850.2" fill="#2a2a2a"/>
<polygon points="539.2,848.2 532.2,850.2 532.2,846.2" fill="#2a2a2a"/>
<line x1="539.2" y1="848.2" x2="592.0" y2="848.2" stroke="#2a2a2a" stroke-width="0.8"/>
<polygon points="539.2,848.2 546.2,846.2 546.2,850.2" fill="#2a2a2a"/>
<polygon points="592.0,848.2 585.0,850.2 585.0,846.2" fill="#2a2a2a"/>
<line x1="489.9" y1="864.6" x2="592.0" y2="864.6" stroke="#2a2a2a" stroke-width="0.8"/>
<polygon points="489.9,864.6 496.9,862.6 496.9,866.6" fill="#2a2a2a"/>
<polygon points="592.0,864.6 585.0,866.6 585.0,862.6" fill="#2a2a2a"/>
<text x="516.5" y="841.5" font-family="Liberation Sans" font-size="14" font-weight="bold" fill="#2a2a2a" text-anchor="middle" dominant-baseline="central">E</text>
<text x="567.5" y="841.5" font-family="Liberation Sans" font-size="14" font-weight="bold" fill="#2a2a2a" text-anchor="middle" dominant-baseline="central">P</text>
<text x="542.0" y="858.0" font-family="Liberation Sans" font-size="14" font-weight="bold" fill="#2a2a2a" text-anchor="middle" dominant-baseline="central">A</text>
<path d="M750.6,797.8 L839.3,793.3 A14,14 0 0,1 839.3,821.3 L750.6,815.8 A9,9 0 0,1 750.6,797.8 Z" fill="#ebebeb" stroke="#2a2a2a" stroke-width="1"/>
<rect x="817.1" y="785.6" width="103.10000000000002" height="43.19999999999993" fill="#ebebeb" stroke="#2a2a2a" stroke-width="1.2"/>
<path d="M817.1,794.9 L839.3,793.3 A14,14 0 0,1 839.3,821.3 L817.1,819.9" fill="#ebebeb" stroke="#2a2a2a" stroke-width="1"/>
<circle cx="839.3" cy="807.3" r="8.4" fill="none" stroke="#2a2a2a" stroke-width="1"/>
<circle cx="839.3" cy="807.3" r="3.5" fill="none" stroke="#2a2a2a" stroke-width="0.9"/>
<line x1="810.1" y1="807.3" x2="920.2" y2="807.3" stroke="#444" stroke-width="0.6"/>
<line x1="839.3" y1="766.3" x2="839.3" y2="822.3" stroke="#444" stroke-width="0.6"/>
<line x1="867.5" y1="766.3" x2="867.5" y2="858.8" stroke="#2a2a2a" stroke-width="0.7"/>
<line x1="839.3" y1="769.3" x2="867.5" y2="769.3" stroke="#2a2a2a" stroke-width="0.8"/>
<polygon points="839.3,769.3 846.3,767.3 846.3,771.3" fill="#2a2a2a"/>
<polygon points="867.5,769.3 860.5,771.3 860.5,767.3" fill="#2a2a2a"/>
<text x="853.4" y="761.3" font-family="Liberation Sans" font-size="13" font-weight="bold" fill="#2a2a2a" text-anchor="middle" dominant-baseline="central">H</text>
<line x1="817.6" y1="785.6" x2="817.6" y2="828.8" stroke="#555" stroke-width="0.5" stroke-dasharray="2,2"/>
<line x1="853.9" y1="785.6" x2="853.9" y2="828.8" stroke="#555" stroke-width="0.6" stroke-dasharray="2.5,1.5"/>
<line x1="881.0" y1="785.6" x2="881.0" y2="828.8" stroke="#555" stroke-width="0.6" stroke-dasharray="2.5,1.5"/>
<line x1="897.0" y1="785.6" x2="897.0" y2="828.8" stroke="#555" stroke-width="0.6" stroke-dasharray="2.5,1.5"/>
<line x1="905.6" y1="785.6" x2="905.6" y2="828.8" stroke="#555" stroke-width="0.6" stroke-dasharray="2.5,1.5"/>
<line x1="902.0" y1="778.0" x2="902.0" y2="785.6" stroke="#2a2a2a" stroke-width="0.6"/>
<line x1="902.0" y1="828.8" x2="902.0" y2="866.0" stroke="#2a2a2a" stroke-width="0.6"/>
<line x1="920.2" y1="785.6" x2="942.0" y2="785.6" stroke="#2a2a2a" stroke-width="0.6"/>
<line x1="920.2" y1="828.8" x2="942.0" y2="828.8" stroke="#2a2a2a" stroke-width="0.6"/>
<line x1="938.2" y1="785.6" x2="938.2" y2="828.8" stroke="#2a2a2a" stroke-width="0.8"/>
<polygon points="938.2,785.6 940.2,792.6 936.2,792.6" fill="#2a2a2a"/>
<polygon points="938.2,828.8 936.2,821.8 940.2,821.8" fill="#2a2a2a"/>
<text x="932.0" y="807.0" font-family="Liberation Sans" font-size="13" font-weight="bold" fill="#2a2a2a" text-anchor="middle" dominant-baseline="central" transform="rotate(-90 932.0 807.0)">C<tspan font-size="9" dy="1">1</tspan></text>
<line x1="817.1" y1="828.8" x2="817.1" y2="866.0" stroke="#2a2a2a" stroke-width="0.6"/>
<line x1="920.2" y1="828.8" x2="920.2" y2="866.0" stroke="#2a2a2a" stroke-width="0.6"/>
<line x1="817.1" y1="862.2" x2="935.0" y2="862.2" stroke="#2a2a2a" stroke-width="0.7"/>
<polygon points="817.1,862.2 824.1,860.4 824.1,864.0" fill="#2a2a2a"/>
<polygon points="867.5,862.2 860.5,864.0 860.5,860.4" fill="#2a2a2a"/>
<circle cx="902" cy="862.2" r="1.6" fill="#222"/>
<polygon points="920.2,862.2 927.2,860.4 927.2,864.0" fill="#2a2a2a"/>
<text x="843.7" y="855.5" font-family="Liberation Sans" font-size="14" font-weight="bold" fill="#2a2a2a" text-anchor="middle" dominant-baseline="central">E</text>
<text x="886.2" y="855.5" font-family="Liberation Sans" font-size="14" font-weight="bold" fill="#2a2a2a" text-anchor="middle" dominant-baseline="central">P</text>
<text x="912.4" y="855.5" font-family="Liberation Sans" font-size="14" font-weight="bold" fill="#2a2a2a" text-anchor="middle" dominant-baseline="central">G</text>
<defs><linearGradient id="gf" x1="0" y1="0" x2="1" y2="1"><stop offset="0" stop-color="#d6d6d6"/><stop offset="0.5" stop-color="#e4e4e4"/><stop offset="1" stop-color="#d4d4d4"/></linearGradient><linearGradient id="gs" x1="0" y1="0" x2="1" y2="0"><stop offset="0" stop-color="#e2e2e2"/><stop offset="0.3" stop-color="#cfcfcf"/><stop offset="1" stop-color="#d8d8d8"/></linearGradient><linearGradient id="gl" x1="0" y1="0" x2="1" y2="0"><stop offset="0" stop-color="#7a7a7a"/><stop offset="0.5" stop-color="#9a9a9a"/><stop offset="1" stop-color="#6e6e6e"/></linearGradient><radialGradient id="gh" cx="0.6" cy="0.6" r="0.6"><stop offset="0" stop-color="#f2f2f2"/><stop offset="1" stop-color="#c4c4c4"/></radialGradient></defs>
<polygon points="43,277 57,269.5 96,281 81,290.5" fill="#e4e4e4" stroke="#d0d0d0" stroke-width="0.5"/>
<polygon points="43,277 81,290.5 78,373 41,360" fill="url(#gf)"/>
<polygon points="81,290.5 96,281 94,367 78,373" fill="url(#gs)"/>
<line x1="45.5" y1="280" x2="43.5" y2="361" stroke="#c4c4c4" stroke-width="1"/>
<ellipse cx="59.5" cy="323.5" rx="11.5" ry="14.5" fill="#f4f4f4"/>
<path d="M48.5,320 C49,311 54,309 59.5,309 C56,313 54,318 54,326 C54,333 57,336 60,338 C53,338 48,331 48.5,320 Z" fill="#b9b9b9"/>
<path d="M62.5,284 L61.5,312" stroke="#5e5e5e" stroke-width="1.8"/>
<path d="M62.5,284 L76.5,275.5" stroke="#6e6e6e" stroke-width="1.5"/>
<path d="M85,296 L118,302 L114,318 L87,310 Z" fill="#6d6d6d"/>
<ellipse cx="88" cy="302.5" rx="3.5" ry="7.5" fill="#3c3c3c"/>
<path d="M111,316 L121,312 L128,377 C127.5,381 120,382 118,379 Z" fill="url(#gl)"/>
<ellipse cx="118" cy="310" rx="3.8" ry="5.5" fill="#2e2e2e" stroke="#e0e0e0" stroke-width="1"/>
<polygon points="144.5,285 158,276.5 199,289 184,297" fill="#e4e4e4" stroke="#d0d0d0" stroke-width="0.5"/>
<polygon points="144.5,285 184,297 182,380 140.5,367" fill="url(#gf)"/>
<polygon points="184,297 199,289 197,373 182,380" fill="url(#gs)"/>
<line x1="147" y1="288" x2="143" y2="366" stroke="#c4c4c4" stroke-width="1"/>
<ellipse cx="162.5" cy="330" rx="12.5" ry="15" fill="#f4f4f4"/>
<path d="M150.5,327 C151,317 156,315 162.5,315 C158.5,319 156.5,324 156.5,332 C156.5,339 159.5,342 163,345 C155,344 150,337 150.5,327 Z" fill="#b9b9b9"/>
<path d="M163.5,290.5 L162.5,316" stroke="#5e5e5e" stroke-width="1.8"/>
<path d="M163.5,290.5 L178,282.5" stroke="#6e6e6e" stroke-width="1.5"/>
<circle cx="151" cy="357.5" r="5.2" fill="#8e8e8e" stroke="#f0f0f0" stroke-width="1"/>
<circle cx="152" cy="358.5" r="2.6" fill="#d6d6d6"/>
<circle cx="170.5" cy="365" r="5.2" fill="#8e8e8e" stroke="#f0f0f0" stroke-width="1"/>
<circle cx="171.5" cy="366" r="2.6" fill="#d6d6d6"/>
<path d="M187,303 L220,312 L215,321 L187,315 Z" fill="#6d6d6d"/>
<ellipse cx="188" cy="309" rx="3.2" ry="6.5" fill="#3c3c3c"/>
<path d="M207,321 L220,317 L227,379 C226,383 219,384 218,381 Z" fill="url(#gl)"/>
<ellipse cx="218" cy="315" rx="3.5" ry="5" fill="#2e2e2e" stroke="#e0e0e0" stroke-width="1"/>
<rect x="216.5" y="392.5" width="41" height="20" rx="3" fill="#fff" stroke="#666" stroke-width="1.1"/>
<text x="228.0" y="403.3" font-family="Liberation Sans" font-size="10.5" font-weight="bold" fill="#2a2a2a" text-anchor="middle" dominant-baseline="central">CAD</text>
<rect x="240" y="393" width="16" height="9.3" fill="#d8202a"/>
<rect x="240" y="402.3" width="16" height="8.7" fill="#1a6fc4"/>
<text x="248.0" y="398.0" font-family="Liberation Sans" font-size="8.5" font-weight="bold" fill="#fff" text-anchor="middle" dominant-baseline="central">2D</text>
<text x="248.0" y="406.8" font-family="Liberation Sans" font-size="8.5" font-weight="bold" fill="#fff" text-anchor="middle" dominant-baseline="central">3D</text>
<rect x="28" y="125.3" width="61" height="61" rx="7" fill="#fff" stroke="#5a5a5a" stroke-width="2.4"/>
<path d="M31,156 C30,148 40,144 50,144 C60,144 69,148 69,155 C69,158 66,159.5 62,158.5 L57.5,157 C56,155 56,152 55,151.5 C52,150.8 48,150.8 45,151.5 C44,152 44,155 42.5,157 L38,158.5 C34,159.5 31,159 31,156 Z" fill="#5a5a5a"/>
<path d="M45,152.5 L55.5,152.5 L57,157.5 C60,159.5 62,162 62,166 L62,176.5 L31,176.5 L31.5,171 C32,166 36,162 44,158 Z" fill="#5a5a5a"/>
<circle cx="50.6" cy="166.5" r="7" fill="#fff"/>
<circle cx="47.8" cy="163.7" r="1" fill="#5a5a5a"/>
<circle cx="47.8" cy="166.5" r="1" fill="#5a5a5a"/>
<circle cx="47.8" cy="169.3" r="1" fill="#5a5a5a"/>
<circle cx="50.6" cy="163.7" r="1" fill="#5a5a5a"/>
<circle cx="50.6" cy="166.5" r="1" fill="#5a5a5a"/>
<circle cx="50.6" cy="169.3" r="1" fill="#5a5a5a"/>
<circle cx="53.4" cy="163.7" r="1" fill="#5a5a5a"/>
<circle cx="53.4" cy="166.5" r="1" fill="#5a5a5a"/>
<circle cx="53.4" cy="169.3" r="1" fill="#5a5a5a"/>
<rect x="59.5" y="161" width="25" height="21" fill="#fff"/>
<path d="M66.5,141.5 A9,9 0 0,1 75.5,150.5" fill="none" stroke="#5a5a5a" stroke-width="2.3" stroke-linecap="round"/>
<path d="M69,136 A14,14 0 0,1 81,148.5" fill="none" stroke="#5a5a5a" stroke-width="2.3" stroke-linecap="round"/>
<path d="M71.5,130.5 A19,19 0 0,1 86.5,147" fill="none" stroke="#5a5a5a" stroke-width="2.3" stroke-linecap="round"/>
<path d="M61.5,163.5 L69.5,163.5 L69.5,171 L62,171 L62,179 L70.5,179 M73,163 L73,172 L82,172 M80.5,163 L80.5,180.5" fill="none" stroke="#5a5a5a" stroke-width="2.6"/>
<path d="M96.3,153.5 C99,152.5 102,151.5 105,151.5 L121.5,152.3 C122.5,152.5 122.5,155 121.5,155.2 L112.5,155.5 C113.5,158 112.5,162 108,163.5 C105,164.5 101,163.5 99.5,162 L96.3,160.8 Z" fill="#fff" stroke="#e2176f" stroke-width="1.5" stroke-linejoin="round"/>
<path d="M112.5,155.5 C111,153.8 106,154 104.5,156.5 C103,159 104,162 106.5,163.2" fill="none" stroke="#e2176f" stroke-width="1.8"/>
<path d="M105.5,157.5 L111,157.2 M105,160 L110,160" stroke="#e2176f" stroke-width="1"/>
</svg>
</body></html>
